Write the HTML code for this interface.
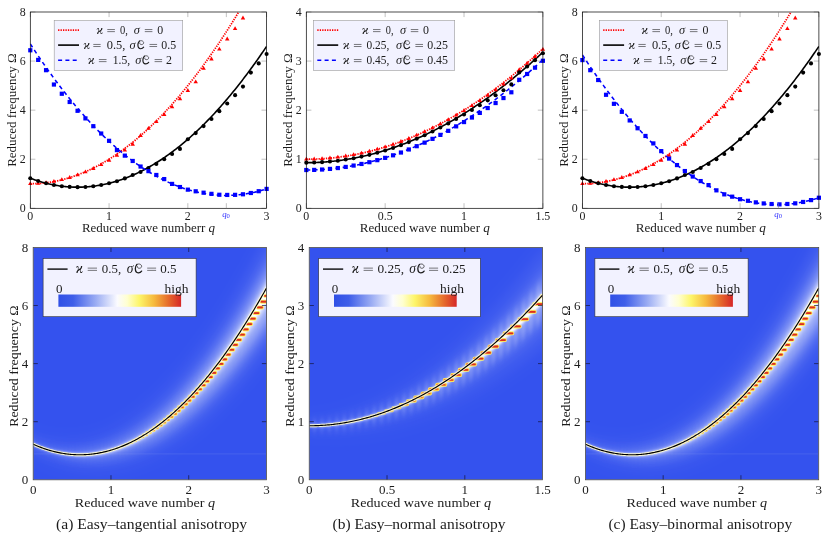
<!DOCTYPE html>
<html><head><meta charset="utf-8"><title>Dispersion figure</title>
<style>html,body{margin:0;padding:0;background:#fff;}svg{display:block;will-change:transform;}</style></head>
<body>
<svg width="830" height="536" viewBox="0 0 830 536" font-family="'Liberation Serif', serif" fill="#1c1c1c">
<defs>
<linearGradient id="cb" x1="0" x2="1" y1="0" y2="0"><stop offset="0" stop-color="#3050e6"/><stop offset="0.12" stop-color="#3f5ee9"/><stop offset="0.30" stop-color="#98aaf3"/><stop offset="0.48" stop-color="#fbfbff"/><stop offset="0.56" stop-color="#ffffd0"/><stop offset="0.66" stop-color="#fdf569"/><stop offset="0.78" stop-color="#f6b93e"/><stop offset="0.90" stop-color="#e5682c"/><stop offset="1" stop-color="#d62728"/></linearGradient>
<filter id="b3" x="-20%" y="-20%" width="140%" height="140%"><feGaussianBlur stdDeviation="3"/></filter>
<filter id="b1" x="-20%" y="-20%" width="140%" height="140%"><feGaussianBlur stdDeviation="1.1"/></filter>
<filter id="b03" x="-20%" y="-20%" width="140%" height="140%"><feGaussianBlur stdDeviation="0.35"/></filter>
<filter id="b4" x="-20%" y="-20%" width="140%" height="140%"><feGaussianBlur stdDeviation="6"/></filter>
<filter id="b2" x="-20%" y="-20%" width="140%" height="140%"><feGaussianBlur stdDeviation="2.2"/></filter>
<filter id="b2s" x="-20%" y="-20%" width="140%" height="140%"><feGaussianBlur stdDeviation="0.9 3.5"/></filter>
<filter id="b10" x="-30%" y="-30%" width="160%" height="160%"><feGaussianBlur stdDeviation="10"/></filter>
<filter id="b05" x="-20%" y="-20%" width="140%" height="140%"><feGaussianBlur stdDeviation="0.5"/></filter>
<clipPath id="ct0"><rect x="30.30" y="12.00" width="236.30" height="196.30"/></clipPath>
<clipPath id="ct1"><rect x="306.30" y="12.00" width="236.60" height="196.30"/></clipPath>
<clipPath id="ct2"><rect x="582.40" y="12.00" width="236.50" height="196.30"/></clipPath>
<clipPath id="cbt0"><rect x="33.20" y="247.40" width="233.30" height="232.40"/></clipPath>
<clipPath id="cbt1"><rect x="309.25" y="247.40" width="233.35" height="232.40"/></clipPath>
<clipPath id="cbt2"><rect x="585.40" y="247.40" width="233.30" height="232.40"/></clipPath>
</defs>
<rect width="830" height="536" fill="#fff"/>
<path d="M30.30,208.30 v-5.1 M30.30,12.00 v5.1 M109.07,208.30 v-5.1 M109.07,12.00 v5.1 M187.83,208.30 v-5.1 M187.83,12.00 v5.1 M266.60,208.30 v-5.1 M266.60,12.00 v5.1 M30.30,208.30 h5.1 M266.60,208.30 h-5.1 M30.30,159.23 h5.1 M266.60,159.23 h-5.1 M30.30,110.15 h5.1 M266.60,110.15 h-5.1 M30.30,61.07 h5.1 M266.60,61.07 h-5.1 M30.30,12.00 h5.1 M266.60,12.00 h-5.1" stroke="#808080" stroke-width="0.5" fill="none"/>
<g clip-path="url(#ct0)">
<path d="M30.30,183.76 L31.48,183.76 L32.66,183.74 L33.84,183.71 L35.03,183.67 L36.21,183.62 L37.39,183.56 L38.57,183.49 L39.75,183.41 L40.93,183.32 L42.12,183.21 L43.30,183.09 L44.48,182.97 L45.66,182.83 L46.84,182.68 L48.02,182.52 L49.20,182.35 L50.39,182.17 L51.57,181.97 L52.75,181.77 L53.93,181.55 L55.11,181.33 L56.29,181.09 L57.47,180.84 L58.66,180.58 L59.84,180.31 L61.02,180.03 L62.20,179.74 L63.38,179.43 L64.56,179.12 L65.75,178.79 L66.93,178.46 L68.11,178.11 L69.29,177.75 L70.47,177.38 L71.65,177.00 L72.83,176.61 L74.02,176.20 L75.20,175.79 L76.38,175.37 L77.56,174.93 L78.74,174.48 L79.92,174.02 L81.10,173.55 L82.29,173.07 L83.47,172.58 L84.65,172.08 L85.83,171.57 L87.01,171.04 L88.19,170.51 L89.38,169.96 L90.56,169.40 L91.74,168.83 L92.92,168.25 L94.10,167.66 L95.28,167.06 L96.46,166.45 L97.65,165.82 L98.83,165.19 L100.01,164.54 L101.19,163.89 L102.37,163.22 L103.55,162.54 L104.73,161.85 L105.92,161.15 L107.10,160.44 L108.28,159.71 L109.46,158.98 L110.64,158.23 L111.82,157.48 L113.00,156.71 L114.19,155.93 L115.37,155.14 L116.55,154.34 L117.73,153.53 L118.91,152.71 L120.09,151.87 L121.28,151.03 L122.46,150.17 L123.64,149.31 L124.82,148.43 L126.00,147.54 L127.18,146.64 L128.36,145.73 L129.55,144.81 L130.73,143.87 L131.91,142.93 L133.09,141.97 L134.27,141.01 L135.45,140.03 L136.64,139.04 L137.82,138.04 L139.00,137.03 L140.18,136.01 L141.36,134.98 L142.54,133.94 L143.72,132.88 L144.91,131.82 L146.09,130.74 L147.27,129.65 L148.45,128.55 L149.63,127.44 L150.81,126.32 L151.99,125.19 L153.18,124.05 L154.36,122.89 L155.54,121.73 L156.72,120.55 L157.90,119.37 L159.08,118.17 L160.27,116.96 L161.45,115.74 L162.63,114.51 L163.81,113.27 L164.99,112.01 L166.17,110.75 L167.35,109.47 L168.54,108.19 L169.72,106.89 L170.90,105.58 L172.08,104.26 L173.26,102.93 L174.44,101.59 L175.62,100.24 L176.81,98.87 L177.99,97.50 L179.17,96.11 L180.35,94.72 L181.53,93.31 L182.71,91.89 L183.90,90.46 L185.08,89.02 L186.26,87.57 L187.44,86.10 L188.62,84.63 L189.80,83.14 L190.98,81.65 L192.17,80.14 L193.35,78.62 L194.53,77.09 L195.71,75.55 L196.89,74.00 L198.07,72.44 L199.25,70.86 L200.44,69.28 L201.62,67.68 L202.80,66.08 L203.98,64.46 L205.16,62.83 L206.34,61.19 L207.53,59.54 L208.71,57.88 L209.89,56.21 L211.07,54.52 L212.25,52.83 L213.43,51.12 L214.61,49.40 L215.80,47.68 L216.98,45.94 L218.16,44.19 L219.34,42.43 L220.52,40.65 L221.70,38.87 L222.88,37.08 L224.07,35.27 L225.25,33.45 L226.43,31.63 L227.61,29.79 L228.79,27.94 L229.97,26.08 L231.16,24.21 L232.34,22.32 L233.52,20.43 L234.70,18.53 L235.88,16.61 L237.06,14.68 L238.24,12.75 L239.43,10.80 L240.61,8.84 L241.79,6.87 L242.97,4.88 L244.15,2.89 L245.33,0.89 L246.51,-1.13 L247.70,-3.15 L248.88,-5.19 L250.06,-7.24 L251.24,-9.30 L252.42,-11.37 L253.60,-13.45 L254.79,-15.54 L255.97,-17.65 L257.15,-19.76 L258.33,-21.89 L259.51,-24.02 L260.69,-26.17 L261.87,-28.33 L263.06,-30.50 L264.24,-32.68 L265.42,-34.87 L266.60,-37.07" stroke="#ff0000" stroke-width="1.75" stroke-dasharray="1.3 1.15" fill="none"/>
<path d="M30.30,178.25 L31.48,178.69 L32.66,179.12 L33.84,179.54 L35.03,179.95 L36.21,180.34 L37.39,180.73 L38.57,181.10 L39.75,181.47 L40.93,181.82 L42.12,182.16 L43.30,182.49 L44.48,182.81 L45.66,183.11 L46.84,183.41 L48.02,183.69 L49.20,183.97 L50.39,184.23 L51.57,184.48 L52.75,184.72 L53.93,184.95 L55.11,185.16 L56.29,185.37 L57.47,185.56 L58.66,185.75 L59.84,185.92 L61.02,186.08 L62.20,186.23 L63.38,186.37 L64.56,186.50 L65.75,186.61 L66.93,186.72 L68.11,186.81 L69.29,186.90 L70.47,186.97 L71.65,187.03 L72.83,187.08 L74.02,187.12 L75.20,187.15 L76.38,187.17 L77.56,187.17 L78.74,187.17 L79.92,187.15 L81.10,187.12 L82.29,187.08 L83.47,187.04 L84.65,186.98 L85.83,186.90 L87.01,186.82 L88.19,186.73 L89.38,186.62 L90.56,186.51 L91.74,186.38 L92.92,186.24 L94.10,186.10 L95.28,185.94 L96.46,185.77 L97.65,185.58 L98.83,185.39 L100.01,185.19 L101.19,184.97 L102.37,184.75 L103.55,184.51 L104.73,184.26 L105.92,184.01 L107.10,183.74 L108.28,183.46 L109.46,183.16 L110.64,182.86 L111.82,182.55 L113.00,182.22 L114.19,181.89 L115.37,181.54 L116.55,181.19 L117.73,180.82 L118.91,180.44 L120.09,180.05 L121.28,179.65 L122.46,179.23 L123.64,178.81 L124.82,178.38 L126.00,177.93 L127.18,177.47 L128.36,177.01 L129.55,176.53 L130.73,176.04 L131.91,175.54 L133.09,175.03 L134.27,174.51 L135.45,173.97 L136.64,173.43 L137.82,172.87 L139.00,172.31 L140.18,171.73 L141.36,171.14 L142.54,170.54 L143.72,169.93 L144.91,169.31 L146.09,168.68 L147.27,168.04 L148.45,167.38 L149.63,166.72 L150.81,166.04 L151.99,165.36 L153.18,164.66 L154.36,163.95 L155.54,163.23 L156.72,162.50 L157.90,161.76 L159.08,161.00 L160.27,160.24 L161.45,159.46 L162.63,158.68 L163.81,157.88 L164.99,157.07 L166.17,156.25 L167.35,155.42 L168.54,154.58 L169.72,153.73 L170.90,152.87 L172.08,151.99 L173.26,151.11 L174.44,150.21 L175.62,149.30 L176.81,148.39 L177.99,147.46 L179.17,146.52 L180.35,145.56 L181.53,144.60 L182.71,143.63 L183.90,142.65 L185.08,141.65 L186.26,140.64 L187.44,139.63 L188.62,138.60 L189.80,137.56 L190.98,136.51 L192.17,135.45 L193.35,134.37 L194.53,133.29 L195.71,132.20 L196.89,131.09 L198.07,129.97 L199.25,128.85 L200.44,127.71 L201.62,126.56 L202.80,125.40 L203.98,124.23 L205.16,123.04 L206.34,121.85 L207.53,120.65 L208.71,119.43 L209.89,118.20 L211.07,116.97 L212.25,115.72 L213.43,114.46 L214.61,113.19 L215.80,111.91 L216.98,110.61 L218.16,109.31 L219.34,107.99 L220.52,106.67 L221.70,105.33 L222.88,103.98 L224.07,102.62 L225.25,101.25 L226.43,99.87 L227.61,98.48 L228.79,97.08 L229.97,95.66 L231.16,94.24 L232.34,92.80 L233.52,91.36 L234.70,89.90 L235.88,88.43 L237.06,86.95 L238.24,85.46 L239.43,83.95 L240.61,82.44 L241.79,80.92 L242.97,79.38 L244.15,77.83 L245.33,76.28 L246.51,74.71 L247.70,73.13 L248.88,71.54 L250.06,69.94 L251.24,68.32 L252.42,66.70 L253.60,65.07 L254.79,63.42 L255.97,61.76 L257.15,60.10 L258.33,58.42 L259.51,56.73 L260.69,55.03 L261.87,53.31 L263.06,51.59 L264.24,49.86 L265.42,48.11 L266.60,46.36" stroke="#000" stroke-width="1.6" fill="none"/>
<path d="M30.30,43.90 L31.48,45.72 L32.66,47.54 L33.84,49.34 L35.03,51.13 L36.21,52.91 L37.39,54.68 L38.57,56.43 L39.75,58.18 L40.93,59.91 L42.12,61.64 L43.30,63.35 L44.48,65.05 L45.66,66.75 L46.84,68.43 L48.02,70.10 L49.20,71.75 L50.39,73.40 L51.57,75.04 L52.75,76.66 L53.93,78.28 L55.11,79.88 L56.29,81.47 L57.47,83.05 L58.66,84.62 L59.84,86.18 L61.02,87.73 L62.20,89.26 L63.38,90.79 L64.56,92.30 L65.75,93.81 L66.93,95.30 L68.11,96.78 L69.29,98.25 L70.47,99.71 L71.65,101.16 L72.83,102.60 L74.02,104.02 L75.20,105.44 L76.38,106.84 L77.56,108.24 L78.74,109.62 L79.92,110.99 L81.10,112.35 L82.29,113.70 L83.47,115.04 L84.65,116.36 L85.83,117.68 L87.01,118.98 L88.19,120.28 L89.38,121.56 L90.56,122.83 L91.74,124.09 L92.92,125.34 L94.10,126.58 L95.28,127.81 L96.46,129.02 L97.65,130.23 L98.83,131.42 L100.01,132.61 L101.19,133.78 L102.37,134.94 L103.55,136.09 L104.73,137.23 L105.92,138.36 L107.10,139.48 L108.28,140.58 L109.46,141.68 L110.64,142.76 L111.82,143.83 L113.00,144.90 L114.19,145.95 L115.37,146.99 L116.55,148.01 L117.73,149.03 L118.91,150.04 L120.09,151.03 L121.28,152.02 L122.46,152.99 L123.64,153.95 L124.82,154.91 L126.00,155.85 L127.18,156.78 L128.36,157.69 L129.55,158.60 L130.73,159.50 L131.91,160.38 L133.09,161.26 L134.27,162.12 L135.45,162.97 L136.64,163.81 L137.82,164.64 L139.00,165.46 L140.18,166.27 L141.36,167.07 L142.54,167.85 L143.72,168.63 L144.91,169.39 L146.09,170.14 L147.27,170.89 L148.45,171.62 L149.63,172.34 L150.81,173.04 L151.99,173.74 L153.18,174.43 L154.36,175.10 L155.54,175.77 L156.72,176.42 L157.90,177.06 L159.08,177.69 L160.27,178.32 L161.45,178.92 L162.63,179.52 L163.81,180.11 L164.99,180.69 L166.17,181.25 L167.35,181.80 L168.54,182.35 L169.72,182.88 L170.90,183.40 L172.08,183.91 L173.26,184.41 L174.44,184.90 L175.62,185.37 L176.81,185.84 L177.99,186.29 L179.17,186.74 L180.35,187.17 L181.53,187.59 L182.71,188.00 L183.90,188.40 L185.08,188.79 L186.26,189.17 L187.44,189.53 L188.62,189.89 L189.80,190.23 L190.98,190.56 L192.17,190.89 L193.35,191.20 L194.53,191.50 L195.71,191.79 L196.89,192.06 L198.07,192.33 L199.25,192.59 L200.44,192.83 L201.62,193.07 L202.80,193.29 L203.98,193.50 L205.16,193.70 L206.34,193.89 L207.53,194.07 L208.71,194.24 L209.89,194.39 L211.07,194.54 L212.25,194.67 L213.43,194.80 L214.61,194.91 L215.80,195.01 L216.98,195.10 L218.16,195.18 L219.34,195.25 L220.52,195.30 L221.70,195.35 L222.88,195.38 L224.07,195.41 L225.25,195.42 L226.43,195.42 L227.61,195.41 L228.79,195.39 L229.97,195.36 L231.16,195.32 L232.34,195.27 L233.52,195.20 L234.70,195.13 L235.88,195.04 L237.06,194.94 L238.24,194.83 L239.43,194.71 L240.61,194.58 L241.79,194.44 L242.97,194.29 L244.15,194.13 L245.33,193.95 L246.51,193.76 L247.70,193.57 L248.88,193.36 L250.06,193.14 L251.24,192.91 L252.42,192.67 L253.60,192.42 L254.79,192.15 L255.97,191.88 L257.15,191.59 L258.33,191.30 L259.51,190.99 L260.69,190.67 L261.87,190.34 L263.06,190.00 L264.24,189.65 L265.42,189.29 L266.60,188.92" stroke="#0000ff" stroke-width="1.55" stroke-dasharray="4.0 3.3" fill="none"/>
</g>
<path d="M30.30,181.21 L32.52,185.04 L28.08,185.04 Z" fill="#ff0000"/><path d="M38.18,180.97 L40.40,184.79 L35.96,184.79 Z" fill="#ff0000"/><path d="M46.05,180.23 L48.27,184.06 L43.83,184.06 Z" fill="#ff0000"/><path d="M53.93,179.00 L56.15,182.83 L51.71,182.83 Z" fill="#ff0000"/><path d="M61.81,177.29 L64.03,181.11 L59.59,181.11 Z" fill="#ff0000"/><path d="M69.68,175.08 L71.90,178.90 L67.46,178.90 Z" fill="#ff0000"/><path d="M77.56,172.38 L79.78,176.20 L75.34,176.20 Z" fill="#ff0000"/><path d="M85.44,169.48 L87.66,173.31 L83.22,173.31 Z" fill="#ff0000"/><path d="M93.31,166.10 L95.53,169.92 L91.09,169.92 Z" fill="#ff0000"/><path d="M101.19,162.22 L103.41,166.05 L98.97,166.05 Z" fill="#ff0000"/><path d="M109.07,157.85 L111.29,161.68 L106.85,161.68 Z" fill="#ff0000"/><path d="M116.94,152.99 L119.16,156.82 L114.72,156.82 Z" fill="#ff0000"/><path d="M124.82,147.65 L127.04,151.47 L122.60,151.47 Z" fill="#ff0000"/><path d="M132.70,141.83 L134.92,145.65 L130.48,145.65 Z" fill="#ff0000"/><path d="M140.57,133.12 L142.79,136.94 L138.35,136.94 Z" fill="#ff0000"/><path d="M148.45,126.00 L150.67,129.83 L146.23,129.83 Z" fill="#ff0000"/><path d="M156.33,119.26 L158.55,123.08 L154.11,123.08 Z" fill="#ff0000"/><path d="M164.20,112.07 L166.42,115.89 L161.98,115.89 Z" fill="#ff0000"/><path d="M172.08,104.48 L174.30,108.31 L169.86,108.31 Z" fill="#ff0000"/><path d="M179.96,96.31 L182.18,100.14 L177.74,100.14 Z" fill="#ff0000"/><path d="M187.83,88.09 L190.05,91.92 L185.61,91.92 Z" fill="#ff0000"/><path d="M195.71,79.38 L197.93,83.21 L193.49,83.21 Z" fill="#ff0000"/><path d="M203.59,65.89 L205.81,69.71 L201.37,69.71 Z" fill="#ff0000"/><path d="M211.46,56.56 L213.68,60.39 L209.24,60.39 Z" fill="#ff0000"/><path d="M219.34,46.75 L221.56,50.57 L217.12,50.57 Z" fill="#ff0000"/><path d="M227.22,36.56 L229.44,40.39 L225.00,40.39 Z" fill="#ff0000"/><path d="M235.09,26.14 L237.31,29.96 L232.87,29.96 Z" fill="#ff0000"/><path d="M242.97,15.58 L245.19,19.41 L240.75,19.41 Z" fill="#ff0000"/>
<circle cx="30.30" cy="178.25" r="2.05" fill="#000"/><circle cx="38.18" cy="180.98" r="2.05" fill="#000"/><circle cx="46.05" cy="183.21" r="2.05" fill="#000"/><circle cx="53.93" cy="184.95" r="2.05" fill="#000"/><circle cx="61.81" cy="186.18" r="2.05" fill="#000"/><circle cx="69.68" cy="186.92" r="2.05" fill="#000"/><circle cx="77.56" cy="187.17" r="2.05" fill="#000"/><circle cx="85.44" cy="186.93" r="2.05" fill="#000"/><circle cx="93.31" cy="186.20" r="2.05" fill="#000"/><circle cx="101.19" cy="184.97" r="2.05" fill="#000"/><circle cx="109.07" cy="183.26" r="2.05" fill="#000"/><circle cx="116.94" cy="181.31" r="2.05" fill="#000"/><circle cx="124.82" cy="178.38" r="2.05" fill="#000"/><circle cx="132.70" cy="174.95" r="2.05" fill="#000"/><circle cx="140.57" cy="172.03" r="2.05" fill="#000"/><circle cx="148.45" cy="168.00" r="2.05" fill="#000"/><circle cx="156.33" cy="163.90" r="2.05" fill="#000"/><circle cx="164.20" cy="159.16" r="2.05" fill="#000"/><circle cx="172.08" cy="154.03" r="2.05" fill="#000"/><circle cx="179.96" cy="148.90" r="2.05" fill="#000"/><circle cx="187.83" cy="139.28" r="2.05" fill="#000"/><circle cx="195.71" cy="133.08" r="2.05" fill="#000"/><circle cx="203.59" cy="126.12" r="2.05" fill="#000"/><circle cx="211.46" cy="118.93" r="2.05" fill="#000"/><circle cx="219.34" cy="111.13" r="2.05" fill="#000"/><circle cx="227.22" cy="103.56" r="2.05" fill="#000"/><circle cx="235.09" cy="95.13" r="2.05" fill="#000"/><circle cx="242.97" cy="86.60" r="2.05" fill="#000"/><circle cx="250.85" cy="72.62" r="2.05" fill="#000"/><circle cx="258.72" cy="63.38" r="2.05" fill="#000"/><circle cx="266.60" cy="53.96" r="2.05" fill="#000"/>
<rect x="28.20" y="48.18" width="4.20" height="4.20" fill="#0000ff"/><rect x="36.08" y="57.80" width="4.20" height="4.20" fill="#0000ff"/><rect x="43.95" y="68.08" width="4.20" height="4.20" fill="#0000ff"/><rect x="51.83" y="82.43" width="4.20" height="4.20" fill="#0000ff"/><rect x="59.71" y="91.66" width="4.20" height="4.20" fill="#0000ff"/><rect x="67.58" y="99.88" width="4.20" height="4.20" fill="#0000ff"/><rect x="75.46" y="108.69" width="4.20" height="4.20" fill="#0000ff"/><rect x="83.34" y="116.29" width="4.20" height="4.20" fill="#0000ff"/><rect x="91.21" y="124.10" width="4.20" height="4.20" fill="#0000ff"/><rect x="99.09" y="131.43" width="4.20" height="4.20" fill="#0000ff"/><rect x="106.97" y="138.72" width="4.20" height="4.20" fill="#0000ff"/><rect x="114.84" y="147.97" width="4.20" height="4.20" fill="#0000ff"/><rect x="122.72" y="153.54" width="4.20" height="4.20" fill="#0000ff"/><rect x="130.60" y="158.87" width="4.20" height="4.20" fill="#0000ff"/><rect x="138.47" y="164.44" width="4.20" height="4.20" fill="#0000ff"/><rect x="146.35" y="169.03" width="4.20" height="4.20" fill="#0000ff"/><rect x="154.23" y="172.88" width="4.20" height="4.20" fill="#0000ff"/><rect x="162.10" y="176.98" width="4.20" height="4.20" fill="#0000ff"/><rect x="169.98" y="181.81" width="4.20" height="4.20" fill="#0000ff"/><rect x="177.86" y="184.93" width="4.20" height="4.20" fill="#0000ff"/><rect x="185.73" y="187.55" width="4.20" height="4.20" fill="#0000ff"/><rect x="193.61" y="189.20" width="4.20" height="4.20" fill="#0000ff"/><rect x="201.49" y="190.59" width="4.20" height="4.20" fill="#0000ff"/><rect x="209.36" y="191.75" width="4.20" height="4.20" fill="#0000ff"/><rect x="217.24" y="192.66" width="4.20" height="4.20" fill="#0000ff"/><rect x="225.12" y="192.83" width="4.20" height="4.20" fill="#0000ff"/><rect x="232.99" y="192.75" width="4.20" height="4.20" fill="#0000ff"/><rect x="240.87" y="192.19" width="4.20" height="4.20" fill="#0000ff"/><rect x="248.75" y="190.89" width="4.20" height="4.20" fill="#0000ff"/><rect x="256.62" y="189.10" width="4.20" height="4.20" fill="#0000ff"/><rect x="264.50" y="186.82" width="4.20" height="4.20" fill="#0000ff"/>
<rect x="30.30" y="12.00" width="236.30" height="196.30" fill="none" stroke="#000" stroke-width="0.7"/>
<text x="30.30" y="220.30" font-size="11.90" text-anchor="middle">0</text>
<text x="109.07" y="220.30" font-size="11.90" text-anchor="middle">1</text>
<text x="187.83" y="220.30" font-size="11.90" text-anchor="middle">2</text>
<text x="266.60" y="220.30" font-size="11.90" text-anchor="middle">3</text>
<text x="25.70" y="212.10" font-size="11.90" text-anchor="end">0</text>
<text x="25.70" y="163.03" font-size="11.90" text-anchor="end">2</text>
<text x="25.70" y="113.95" font-size="11.90" text-anchor="end">4</text>
<text x="25.70" y="64.87" font-size="11.90" text-anchor="end">6</text>
<text x="25.70" y="15.80" font-size="11.90" text-anchor="end">8</text>
<path d="M226.34,208.30 v-5.1 M226.34,12.00 v5.1" stroke="#808080" stroke-width="0.5" fill="none"/>
<text x="226.04" y="216.6" font-size="8.8" fill="#3030ff" text-anchor="middle"><tspan font-style="italic">q</tspan><tspan font-size="6.6" dy="1.4">0</tspan></text>
<text x="81.90" y="231.60" font-size="11.90" textLength="133.20" lengthAdjust="spacingAndGlyphs">Reduced wave numberr <tspan font-style="italic">q</tspan></text>
<text transform="translate(15.50,110.15) rotate(-90)" font-size="11.90" text-anchor="middle" textLength="113.4" lengthAdjust="spacingAndGlyphs">Reduced frequency Ω</text>
<rect x="54.20" y="20.60" width="128.50" height="49.70" fill="#f2f2ff" stroke="#9a9a9a" stroke-width="0.6"/>
<path d="M58.10,30.20 H79.00" stroke="#ff0000" stroke-width="1.75" stroke-dasharray="1.3 1.15"/>
<path d="M58.10,45.10 H79.00" stroke="#000" stroke-width="1.6"/>
<path d="M58.10,60.20 H79.00" stroke="#0000ff" stroke-width="1.55" stroke-dasharray="4.0 3.3"/>
<text x="99.75" y="34.10" font-size="12.38" font-style="italic" text-anchor="middle">ϰ</text><path d="M107.30,29.54 H114.90 M107.30,31.62 H114.90" stroke="#1c1c1c" stroke-width="0.58" fill="none"/><text x="120.00" y="34.10" font-size="11.90" textLength="7.90" lengthAdjust="spacingAndGlyphs">0,</text><text x="136.90" y="34.10" font-size="12.38" font-style="italic" text-anchor="middle">σ</text><path d="M144.80,29.54 H152.40 M144.80,31.62 H152.40" stroke="#1c1c1c" stroke-width="0.58" fill="none"/><text x="160.35" y="34.10" font-size="11.90" text-anchor="middle">0</text>
<text x="86.75" y="49.00" font-size="12.38" font-style="italic" text-anchor="middle">ϰ</text><path d="M93.30,44.44 H100.60 M93.30,46.52 H100.60" stroke="#1c1c1c" stroke-width="0.58" fill="none"/><text x="106.80" y="49.00" font-size="11.90" textLength="18.60" lengthAdjust="spacingAndGlyphs">0.5,</text><text x="132.65" y="49.00" font-size="12.38" font-style="italic" text-anchor="middle">σ</text><g transform="translate(137.40,49.00) scale(0.992)" fill="none" stroke="#1c1c1c" stroke-linecap="round"><path d="M2.0,-8.0 C0.9,-6.6 0.5,-5.4 0.5,-4.2 C0.5,-2.0 1.5,-0.3 3.2,-0.25 C4.5,-0.2 5.6,-0.8 6.3,-1.8" stroke-width="1.2"/><path d="M2.0,-8.0 C2.9,-8.5 4.2,-8.6 5.2,-8.0 C6.3,-7.3 6.6,-6.2 6.0,-5.3 C5.3,-4.4 3.8,-4.2 2.9,-4.8 C2.4,-5.2 2.3,-5.6 2.4,-6.0" stroke-width="0.65"/></g><path d="M149.50,44.44 H157.10 M149.50,46.52 H157.10" stroke="#1c1c1c" stroke-width="0.58" fill="none"/><text x="161.30" y="49.00" font-size="11.90" textLength="14.80" lengthAdjust="spacingAndGlyphs">0.5</text>
<text x="91.30" y="64.10" font-size="12.38" font-style="italic" text-anchor="middle">ϰ</text><path d="M98.90,59.54 H106.50 M98.90,61.62 H106.50" stroke="#1c1c1c" stroke-width="0.58" fill="none"/><text x="112.70" y="64.10" font-size="11.90" textLength="17.40" lengthAdjust="spacingAndGlyphs">1.5,</text><text x="138.20" y="64.10" font-size="12.38" font-style="italic" text-anchor="middle">σ</text><g transform="translate(142.40,64.10) scale(0.992)" fill="none" stroke="#1c1c1c" stroke-linecap="round"><path d="M2.0,-8.0 C0.9,-6.6 0.5,-5.4 0.5,-4.2 C0.5,-2.0 1.5,-0.3 3.2,-0.25 C4.5,-0.2 5.6,-0.8 6.3,-1.8" stroke-width="1.2"/><path d="M2.0,-8.0 C2.9,-8.5 4.2,-8.6 5.2,-8.0 C6.3,-7.3 6.6,-6.2 6.0,-5.3 C5.3,-4.4 3.8,-4.2 2.9,-4.8 C2.4,-5.2 2.3,-5.6 2.4,-6.0" stroke-width="0.65"/></g><path d="M154.60,59.54 H162.10 M154.60,61.62 H162.10" stroke="#1c1c1c" stroke-width="0.58" fill="none"/><text x="168.90" y="64.10" font-size="11.90" text-anchor="middle">2</text>
<path d="M306.30,208.30 v-5.1 M306.30,12.00 v5.1 M385.17,208.30 v-5.1 M385.17,12.00 v5.1 M464.03,208.30 v-5.1 M464.03,12.00 v5.1 M542.90,208.30 v-5.1 M542.90,12.00 v5.1 M306.30,208.30 h5.1 M542.90,208.30 h-5.1 M306.30,159.23 h5.1 M542.90,159.23 h-5.1 M306.30,110.15 h5.1 M542.90,110.15 h-5.1 M306.30,61.07 h5.1 M542.90,61.07 h-5.1 M306.30,12.00 h5.1 M542.90,12.00 h-5.1" stroke="#808080" stroke-width="0.5" fill="none"/>
<g clip-path="url(#ct1)">
<path d="M306.30,159.23 L307.48,159.22 L308.67,159.21 L309.85,159.20 L311.03,159.18 L312.22,159.16 L313.40,159.13 L314.58,159.09 L315.76,159.05 L316.95,159.00 L318.13,158.95 L319.31,158.89 L320.50,158.83 L321.68,158.76 L322.86,158.68 L324.05,158.60 L325.23,158.52 L326.41,158.43 L327.59,158.33 L328.78,158.23 L329.96,158.12 L331.14,158.01 L332.33,157.89 L333.51,157.76 L334.69,157.63 L335.88,157.50 L337.06,157.36 L338.24,157.21 L339.42,157.06 L340.61,156.90 L341.79,156.74 L342.97,156.57 L344.16,156.40 L345.34,156.22 L346.52,156.03 L347.70,155.84 L348.89,155.65 L350.07,155.45 L351.25,155.24 L352.44,155.03 L353.62,154.81 L354.80,154.58 L355.99,154.36 L357.17,154.12 L358.35,153.88 L359.54,153.64 L360.72,153.38 L361.90,153.13 L363.08,152.86 L364.27,152.60 L365.45,152.32 L366.63,152.05 L367.82,151.76 L369.00,151.47 L370.18,151.18 L371.37,150.87 L372.55,150.57 L373.73,150.26 L374.91,149.94 L376.10,149.62 L377.28,149.29 L378.46,148.95 L379.65,148.61 L380.83,148.27 L382.01,147.92 L383.19,147.56 L384.38,147.20 L385.56,146.83 L386.74,146.46 L387.93,146.08 L389.11,145.70 L390.29,145.31 L391.48,144.91 L392.66,144.51 L393.84,144.11 L395.02,143.70 L396.21,143.28 L397.39,142.86 L398.57,142.43 L399.76,142.00 L400.94,141.56 L402.12,141.11 L403.31,140.66 L404.49,140.21 L405.67,139.75 L406.86,139.28 L408.04,138.81 L409.22,138.33 L410.40,137.85 L411.59,137.36 L412.77,136.87 L413.95,136.37 L415.14,135.86 L416.32,135.35 L417.50,134.83 L418.69,134.31 L419.87,133.78 L421.05,133.25 L422.23,132.71 L423.42,132.17 L424.60,131.62 L425.78,131.07 L426.97,130.51 L428.15,129.94 L429.33,129.37 L430.51,128.79 L431.70,128.21 L432.88,127.62 L434.06,127.03 L435.25,126.43 L436.43,125.82 L437.61,125.21 L438.80,124.60 L439.98,123.98 L441.16,123.35 L442.35,122.72 L443.53,122.08 L444.71,121.44 L445.89,120.79 L447.08,120.13 L448.26,119.47 L449.44,118.81 L450.63,118.14 L451.81,117.46 L452.99,116.78 L454.17,116.09 L455.36,115.40 L456.54,114.70 L457.72,114.00 L458.91,113.29 L460.09,112.57 L461.27,111.85 L462.46,111.13 L463.64,110.40 L464.82,109.66 L466.00,108.92 L467.19,108.17 L468.37,107.41 L469.55,106.65 L470.74,105.89 L471.92,105.12 L473.10,104.34 L474.29,103.56 L475.47,102.78 L476.65,101.98 L477.83,101.19 L479.02,100.38 L480.20,99.57 L481.38,98.76 L482.57,97.94 L483.75,97.11 L484.93,96.28 L486.12,95.45 L487.30,94.61 L488.48,93.76 L489.66,92.90 L490.85,92.05 L492.03,91.18 L493.21,90.31 L494.40,89.44 L495.58,88.56 L496.76,87.67 L497.95,86.78 L499.13,85.88 L500.31,84.98 L501.50,84.07 L502.68,83.16 L503.86,82.24 L505.04,81.31 L506.23,80.38 L507.41,79.45 L508.59,78.51 L509.78,77.56 L510.96,76.61 L512.14,75.65 L513.33,74.69 L514.51,73.72 L515.69,72.74 L516.87,71.76 L518.06,70.78 L519.24,69.79 L520.42,68.79 L521.61,67.79 L522.79,66.78 L523.97,65.77 L525.15,64.75 L526.34,63.72 L527.52,62.69 L528.70,61.66 L529.89,60.62 L531.07,59.57 L532.25,58.52 L533.44,57.46 L534.62,56.40 L535.80,55.33 L536.98,54.26 L538.17,53.18 L539.35,52.09 L540.53,51.00 L541.72,49.91 L542.90,48.81" stroke="#ff0000" stroke-width="1.75" stroke-dasharray="1.3 1.15" fill="none"/>
<path d="M306.30,162.66 L307.48,162.66 L308.67,162.65 L309.85,162.64 L311.03,162.62 L312.22,162.59 L313.40,162.56 L314.58,162.52 L315.76,162.48 L316.95,162.44 L318.13,162.38 L319.31,162.33 L320.50,162.26 L321.68,162.19 L322.86,162.12 L324.05,162.04 L325.23,161.95 L326.41,161.86 L327.59,161.77 L328.78,161.66 L329.96,161.56 L331.14,161.44 L332.33,161.32 L333.51,161.20 L334.69,161.07 L335.88,160.93 L337.06,160.79 L338.24,160.65 L339.42,160.50 L340.61,160.34 L341.79,160.18 L342.97,160.01 L344.16,159.83 L345.34,159.65 L346.52,159.47 L347.70,159.28 L348.89,159.08 L350.07,158.88 L351.25,158.67 L352.44,158.46 L353.62,158.24 L354.80,158.02 L355.99,157.79 L357.17,157.56 L358.35,157.32 L359.54,157.07 L360.72,156.82 L361.90,156.56 L363.08,156.30 L364.27,156.03 L365.45,155.76 L366.63,155.48 L367.82,155.20 L369.00,154.91 L370.18,154.61 L371.37,154.31 L372.55,154.00 L373.73,153.69 L374.91,153.37 L376.10,153.05 L377.28,152.72 L378.46,152.39 L379.65,152.05 L380.83,151.70 L382.01,151.35 L383.19,151.00 L384.38,150.64 L385.56,150.27 L386.74,149.90 L387.93,149.52 L389.11,149.13 L390.29,148.74 L391.48,148.35 L392.66,147.95 L393.84,147.54 L395.02,147.13 L396.21,146.72 L397.39,146.29 L398.57,145.87 L399.76,145.43 L400.94,144.99 L402.12,144.55 L403.31,144.10 L404.49,143.64 L405.67,143.18 L406.86,142.72 L408.04,142.24 L409.22,141.77 L410.40,141.28 L411.59,140.79 L412.77,140.30 L413.95,139.80 L415.14,139.30 L416.32,138.78 L417.50,138.27 L418.69,137.75 L419.87,137.22 L421.05,136.69 L422.23,136.15 L423.42,135.60 L424.60,135.06 L425.78,134.50 L426.97,133.94 L428.15,133.37 L429.33,132.80 L430.51,132.23 L431.70,131.64 L432.88,131.06 L434.06,130.46 L435.25,129.86 L436.43,129.26 L437.61,128.65 L438.80,128.03 L439.98,127.41 L441.16,126.79 L442.35,126.15 L443.53,125.52 L444.71,124.87 L445.89,124.22 L447.08,123.57 L448.26,122.91 L449.44,122.24 L450.63,121.57 L451.81,120.90 L452.99,120.22 L454.17,119.53 L455.36,118.84 L456.54,118.14 L457.72,117.43 L458.91,116.72 L460.09,116.01 L461.27,115.29 L462.46,114.56 L463.64,113.83 L464.82,113.09 L466.00,112.35 L467.19,111.60 L468.37,110.85 L469.55,110.09 L470.74,109.33 L471.92,108.56 L473.10,107.78 L474.29,107.00 L475.47,106.21 L476.65,105.42 L477.83,104.62 L479.02,103.82 L480.20,103.01 L481.38,102.19 L482.57,101.38 L483.75,100.55 L484.93,99.72 L486.12,98.88 L487.30,98.04 L488.48,97.19 L489.66,96.34 L490.85,95.48 L492.03,94.62 L493.21,93.75 L494.40,92.87 L495.58,91.99 L496.76,91.11 L497.95,90.21 L499.13,89.32 L500.31,88.41 L501.50,87.51 L502.68,86.59 L503.86,85.67 L505.04,84.75 L506.23,83.82 L507.41,82.88 L508.59,81.94 L509.78,80.99 L510.96,80.04 L512.14,79.08 L513.33,78.12 L514.51,77.15 L515.69,76.18 L516.87,75.20 L518.06,74.21 L519.24,73.22 L520.42,72.22 L521.61,71.22 L522.79,70.21 L523.97,69.20 L525.15,68.18 L526.34,67.16 L527.52,66.13 L528.70,65.09 L529.89,64.05 L531.07,63.01 L532.25,61.96 L533.44,60.90 L534.62,59.84 L535.80,58.77 L536.98,57.69 L538.17,56.61 L539.35,55.53 L540.53,54.44 L541.72,53.34 L542.90,52.24" stroke="#000" stroke-width="1.6" fill="none"/>
<path d="M306.30,170.02 L307.48,170.02 L308.67,170.01 L309.85,170.00 L311.03,169.98 L312.22,169.95 L313.40,169.92 L314.58,169.89 L315.76,169.84 L316.95,169.80 L318.13,169.75 L319.31,169.69 L320.50,169.62 L321.68,169.55 L322.86,169.48 L324.05,169.40 L325.23,169.31 L326.41,169.22 L327.59,169.13 L328.78,169.02 L329.96,168.92 L331.14,168.80 L332.33,168.69 L333.51,168.56 L334.69,168.43 L335.88,168.30 L337.06,168.16 L338.24,168.01 L339.42,167.86 L340.61,167.70 L341.79,167.54 L342.97,167.37 L344.16,167.19 L345.34,167.02 L346.52,166.83 L347.70,166.64 L348.89,166.44 L350.07,166.24 L351.25,166.04 L352.44,165.82 L353.62,165.60 L354.80,165.38 L355.99,165.15 L357.17,164.92 L358.35,164.68 L359.54,164.43 L360.72,164.18 L361.90,163.92 L363.08,163.66 L364.27,163.39 L365.45,163.12 L366.63,162.84 L367.82,162.56 L369.00,162.27 L370.18,161.97 L371.37,161.67 L372.55,161.36 L373.73,161.05 L374.91,160.74 L376.10,160.41 L377.28,160.08 L378.46,159.75 L379.65,159.41 L380.83,159.07 L382.01,158.71 L383.19,158.36 L384.38,158.00 L385.56,157.63 L386.74,157.26 L387.93,156.88 L389.11,156.50 L390.29,156.11 L391.48,155.71 L392.66,155.31 L393.84,154.91 L395.02,154.49 L396.21,154.08 L397.39,153.65 L398.57,153.23 L399.76,152.79 L400.94,152.35 L402.12,151.91 L403.31,151.46 L404.49,151.00 L405.67,150.54 L406.86,150.08 L408.04,149.61 L409.22,149.13 L410.40,148.64 L411.59,148.16 L412.77,147.66 L413.95,147.16 L415.14,146.66 L416.32,146.15 L417.50,145.63 L418.69,145.11 L419.87,144.58 L421.05,144.05 L422.23,143.51 L423.42,142.97 L424.60,142.42 L425.78,141.86 L426.97,141.30 L428.15,140.74 L429.33,140.16 L430.51,139.59 L431.70,139.00 L432.88,138.42 L434.06,137.82 L435.25,137.22 L436.43,136.62 L437.61,136.01 L438.80,135.39 L439.98,134.77 L441.16,134.15 L442.35,133.51 L443.53,132.88 L444.71,132.23 L445.89,131.58 L447.08,130.93 L448.26,130.27 L449.44,129.61 L450.63,128.93 L451.81,128.26 L452.99,127.58 L454.17,126.89 L455.36,126.20 L456.54,125.50 L457.72,124.79 L458.91,124.08 L460.09,123.37 L461.27,122.65 L462.46,121.92 L463.64,121.19 L464.82,120.45 L466.00,119.71 L467.19,118.96 L468.37,118.21 L469.55,117.45 L470.74,116.69 L471.92,115.92 L473.10,115.14 L474.29,114.36 L475.47,113.57 L476.65,112.78 L477.83,111.98 L479.02,111.18 L480.20,110.37 L481.38,109.56 L482.57,108.74 L483.75,107.91 L484.93,107.08 L486.12,106.24 L487.30,105.40 L488.48,104.55 L489.66,103.70 L490.85,102.84 L492.03,101.98 L493.21,101.11 L494.40,100.23 L495.58,99.35 L496.76,98.47 L497.95,97.58 L499.13,96.68 L500.31,95.78 L501.50,94.87 L502.68,93.95 L503.86,93.03 L505.04,92.11 L506.23,91.18 L507.41,90.24 L508.59,89.30 L509.78,88.36 L510.96,87.40 L512.14,86.45 L513.33,85.48 L514.51,84.51 L515.69,83.54 L516.87,82.56 L518.06,81.57 L519.24,80.58 L520.42,79.59 L521.61,78.58 L522.79,77.58 L523.97,76.56 L525.15,75.54 L526.34,74.52 L527.52,73.49 L528.70,72.46 L529.89,71.41 L531.07,70.37 L532.25,69.32 L533.44,68.26 L534.62,67.20 L535.80,66.13 L536.98,65.05 L538.17,63.98 L539.35,62.89 L540.53,61.80 L541.72,60.70 L542.90,59.60" stroke="#0000ff" stroke-width="1.55" stroke-dasharray="4.0 3.3" fill="none"/>
</g>
<path d="M306.30,156.68 L308.52,160.50 L304.08,160.50 Z" fill="#ff0000"/><path d="M314.19,156.55 L316.41,160.38 L311.97,160.38 Z" fill="#ff0000"/><path d="M322.07,156.18 L324.29,160.01 L319.85,160.01 Z" fill="#ff0000"/><path d="M329.96,155.57 L332.18,159.40 L327.74,159.40 Z" fill="#ff0000"/><path d="M337.85,154.71 L340.07,158.54 L335.63,158.54 Z" fill="#ff0000"/><path d="M345.73,153.61 L347.95,157.43 L343.51,157.43 Z" fill="#ff0000"/><path d="M353.62,152.26 L355.84,156.08 L351.40,156.08 Z" fill="#ff0000"/><path d="M361.51,150.66 L363.73,154.49 L359.29,154.49 Z" fill="#ff0000"/><path d="M369.39,148.86 L371.61,152.68 L367.17,152.68 Z" fill="#ff0000"/><path d="M377.28,146.79 L379.50,150.61 L375.06,150.61 Z" fill="#ff0000"/><path d="M385.17,144.47 L387.39,148.30 L382.95,148.30 Z" fill="#ff0000"/><path d="M393.05,141.92 L395.27,145.74 L390.83,145.74 Z" fill="#ff0000"/><path d="M400.94,139.11 L403.16,142.94 L398.72,142.94 Z" fill="#ff0000"/><path d="M408.83,136.06 L411.05,139.89 L406.61,139.89 Z" fill="#ff0000"/><path d="M416.71,132.77 L418.93,136.59 L414.49,136.59 Z" fill="#ff0000"/><path d="M424.60,129.22 L426.82,133.05 L422.38,133.05 Z" fill="#ff0000"/><path d="M432.49,125.44 L434.71,129.26 L430.27,129.26 Z" fill="#ff0000"/><path d="M440.37,121.42 L442.59,125.25 L438.15,125.25 Z" fill="#ff0000"/><path d="M448.26,117.22 L450.48,121.04 L446.04,121.04 Z" fill="#ff0000"/><path d="M456.15,112.71 L458.37,116.54 L453.93,116.54 Z" fill="#ff0000"/><path d="M464.03,108.10 L466.25,111.92 L461.81,111.92 Z" fill="#ff0000"/><path d="M471.92,103.24 L474.14,107.06 L469.70,107.06 Z" fill="#ff0000"/><path d="M479.81,98.19 L482.03,102.01 L477.59,102.01 Z" fill="#ff0000"/><path d="M487.69,92.89 L489.91,96.71 L485.47,96.71 Z" fill="#ff0000"/><path d="M495.58,87.38 L497.80,91.21 L493.36,91.21 Z" fill="#ff0000"/><path d="M503.47,81.71 L505.69,85.54 L501.25,85.54 Z" fill="#ff0000"/><path d="M511.35,75.63 L513.57,79.45 L509.13,79.45 Z" fill="#ff0000"/><path d="M519.24,67.24 L521.46,71.06 L517.02,71.06 Z" fill="#ff0000"/><path d="M527.13,60.81 L529.35,64.64 L524.91,64.64 Z" fill="#ff0000"/><path d="M535.01,54.06 L537.23,57.89 L532.79,57.89 Z" fill="#ff0000"/><path d="M542.90,46.94 L545.12,50.77 L540.68,50.77 Z" fill="#ff0000"/>
<circle cx="306.30" cy="162.66" r="2.05" fill="#000"/><circle cx="314.19" cy="162.54" r="2.05" fill="#000"/><circle cx="322.07" cy="162.17" r="2.05" fill="#000"/><circle cx="329.96" cy="161.55" r="2.05" fill="#000"/><circle cx="337.85" cy="160.68" r="2.05" fill="#000"/><circle cx="345.73" cy="159.57" r="2.05" fill="#000"/><circle cx="353.62" cy="158.20" r="2.05" fill="#000"/><circle cx="361.51" cy="156.59" r="2.05" fill="#000"/><circle cx="369.39" cy="154.84" r="2.05" fill="#000"/><circle cx="377.28" cy="152.78" r="2.05" fill="#000"/><circle cx="385.17" cy="150.48" r="2.05" fill="#000"/><circle cx="393.05" cy="147.93" r="2.05" fill="#000"/><circle cx="400.94" cy="145.13" r="2.05" fill="#000"/><circle cx="408.83" cy="142.08" r="2.05" fill="#000"/><circle cx="416.71" cy="138.79" r="2.05" fill="#000"/><circle cx="424.60" cy="135.25" r="2.05" fill="#000"/><circle cx="432.49" cy="131.46" r="2.05" fill="#000"/><circle cx="440.37" cy="127.47" r="2.05" fill="#000"/><circle cx="448.26" cy="123.39" r="2.05" fill="#000"/><circle cx="456.15" cy="118.90" r="2.05" fill="#000"/><circle cx="464.03" cy="114.57" r="2.05" fill="#000"/><circle cx="471.92" cy="109.98" r="2.05" fill="#000"/><circle cx="479.81" cy="105.30" r="2.05" fill="#000"/><circle cx="487.69" cy="100.36" r="2.05" fill="#000"/><circle cx="495.58" cy="95.28" r="2.05" fill="#000"/><circle cx="503.47" cy="90.20" r="2.05" fill="#000"/><circle cx="511.35" cy="84.38" r="2.05" fill="#000"/><circle cx="519.24" cy="72.42" r="2.05" fill="#000"/><circle cx="527.13" cy="66.54" r="2.05" fill="#000"/><circle cx="535.01" cy="60.17" r="2.05" fill="#000"/><circle cx="542.90" cy="53.21" r="2.05" fill="#000"/>
<rect x="304.20" y="167.92" width="4.20" height="4.20" fill="#0000ff"/><rect x="312.09" y="167.80" width="4.20" height="4.20" fill="#0000ff"/><rect x="319.97" y="167.43" width="4.20" height="4.20" fill="#0000ff"/><rect x="327.86" y="166.81" width="4.20" height="4.20" fill="#0000ff"/><rect x="335.75" y="165.94" width="4.20" height="4.20" fill="#0000ff"/><rect x="343.63" y="164.83" width="4.20" height="4.20" fill="#0000ff"/><rect x="351.52" y="163.46" width="4.20" height="4.20" fill="#0000ff"/><rect x="359.41" y="161.86" width="4.20" height="4.20" fill="#0000ff"/><rect x="367.29" y="160.11" width="4.20" height="4.20" fill="#0000ff"/><rect x="375.18" y="158.06" width="4.20" height="4.20" fill="#0000ff"/><rect x="383.07" y="155.76" width="4.20" height="4.20" fill="#0000ff"/><rect x="390.95" y="153.21" width="4.20" height="4.20" fill="#0000ff"/><rect x="398.84" y="150.42" width="4.20" height="4.20" fill="#0000ff"/><rect x="406.73" y="147.38" width="4.20" height="4.20" fill="#0000ff"/><rect x="414.61" y="144.09" width="4.20" height="4.20" fill="#0000ff"/><rect x="422.50" y="140.55" width="4.20" height="4.20" fill="#0000ff"/><rect x="430.39" y="136.77" width="4.20" height="4.20" fill="#0000ff"/><rect x="438.27" y="132.79" width="4.20" height="4.20" fill="#0000ff"/><rect x="446.16" y="128.73" width="4.20" height="4.20" fill="#0000ff"/><rect x="454.05" y="124.26" width="4.20" height="4.20" fill="#0000ff"/><rect x="461.93" y="119.97" width="4.20" height="4.20" fill="#0000ff"/><rect x="469.82" y="115.43" width="4.20" height="4.20" fill="#0000ff"/><rect x="477.71" y="110.81" width="4.20" height="4.20" fill="#0000ff"/><rect x="485.59" y="105.94" width="4.20" height="4.20" fill="#0000ff"/><rect x="493.48" y="100.94" width="4.20" height="4.20" fill="#0000ff"/><rect x="501.37" y="95.95" width="4.20" height="4.20" fill="#0000ff"/><rect x="509.25" y="90.18" width="4.20" height="4.20" fill="#0000ff"/><rect x="517.14" y="77.68" width="4.20" height="4.20" fill="#0000ff"/><rect x="525.03" y="71.89" width="4.20" height="4.20" fill="#0000ff"/><rect x="532.91" y="65.59" width="4.20" height="4.20" fill="#0000ff"/><rect x="540.80" y="58.67" width="4.20" height="4.20" fill="#0000ff"/>
<rect x="306.30" y="12.00" width="236.60" height="196.30" fill="none" stroke="#000" stroke-width="0.7"/>
<text x="306.30" y="220.30" font-size="11.90" text-anchor="middle">0</text>
<text x="385.17" y="220.30" font-size="11.90" text-anchor="middle">0.5</text>
<text x="464.03" y="220.30" font-size="11.90" text-anchor="middle">1</text>
<text x="542.90" y="220.30" font-size="11.90" text-anchor="middle">1.5</text>
<text x="301.70" y="212.10" font-size="11.90" text-anchor="end">0</text>
<text x="301.70" y="163.03" font-size="11.90" text-anchor="end">1</text>
<text x="301.70" y="113.95" font-size="11.90" text-anchor="end">2</text>
<text x="301.70" y="64.87" font-size="11.90" text-anchor="end">3</text>
<text x="301.70" y="15.80" font-size="11.90" text-anchor="end">4</text>
<text x="359.80" y="231.60" font-size="11.90" textLength="130.10" lengthAdjust="spacingAndGlyphs">Reduced wave number <tspan font-style="italic">q</tspan></text>
<text transform="translate(291.50,110.15) rotate(-90)" font-size="11.90" text-anchor="middle" textLength="113.4" lengthAdjust="spacingAndGlyphs">Reduced frequency Ω</text>
<rect x="313.40" y="20.60" width="141.30" height="49.70" fill="#f2f2ff" stroke="#9a9a9a" stroke-width="0.6"/>
<path d="M317.30,30.20 H338.20" stroke="#ff0000" stroke-width="1.75" stroke-dasharray="1.3 1.15"/>
<path d="M317.30,45.10 H338.20" stroke="#000" stroke-width="1.6"/>
<path d="M317.30,60.20 H338.20" stroke="#0000ff" stroke-width="1.55" stroke-dasharray="4.0 3.3"/>
<text x="365.30" y="34.10" font-size="12.38" font-style="italic" text-anchor="middle">ϰ</text><path d="M373.00,29.54 H380.50 M373.00,31.62 H380.50" stroke="#1c1c1c" stroke-width="0.58" fill="none"/><text x="385.80" y="34.10" font-size="11.90" textLength="7.70" lengthAdjust="spacingAndGlyphs">0,</text><text x="403.00" y="34.10" font-size="12.38" font-style="italic" text-anchor="middle">σ</text><path d="M410.80,29.54 H418.30 M410.80,31.62 H418.30" stroke="#1c1c1c" stroke-width="0.58" fill="none"/><text x="426.05" y="34.10" font-size="11.90" text-anchor="middle">0</text>
<text x="346.30" y="49.00" font-size="12.38" font-style="italic" text-anchor="middle">ϰ</text><path d="M353.90,44.44 H361.50 M353.90,46.52 H361.50" stroke="#1c1c1c" stroke-width="0.58" fill="none"/><text x="366.60" y="49.00" font-size="11.90" textLength="22.70" lengthAdjust="spacingAndGlyphs">0.25,</text><text x="399.10" y="49.00" font-size="12.38" font-style="italic" text-anchor="middle">σ</text><g transform="translate(403.40,49.00) scale(0.992)" fill="none" stroke="#1c1c1c" stroke-linecap="round"><path d="M2.0,-8.0 C0.9,-6.6 0.5,-5.4 0.5,-4.2 C0.5,-2.0 1.5,-0.3 3.2,-0.25 C4.5,-0.2 5.6,-0.8 6.3,-1.8" stroke-width="1.2"/><path d="M2.0,-8.0 C2.9,-8.5 4.2,-8.6 5.2,-8.0 C6.3,-7.3 6.6,-6.2 6.0,-5.3 C5.3,-4.4 3.8,-4.2 2.9,-4.8 C2.4,-5.2 2.3,-5.6 2.4,-6.0" stroke-width="0.65"/></g><path d="M415.40,44.44 H423.00 M415.40,46.52 H423.00" stroke="#1c1c1c" stroke-width="0.58" fill="none"/><text x="427.20" y="49.00" font-size="11.90" textLength="20.80" lengthAdjust="spacingAndGlyphs">0.25</text>
<text x="346.30" y="64.10" font-size="12.38" font-style="italic" text-anchor="middle">ϰ</text><path d="M353.90,59.54 H361.50 M353.90,61.62 H361.50" stroke="#1c1c1c" stroke-width="0.58" fill="none"/><text x="366.60" y="64.10" font-size="11.90" textLength="22.70" lengthAdjust="spacingAndGlyphs">0.45,</text><text x="399.10" y="64.10" font-size="12.38" font-style="italic" text-anchor="middle">σ</text><g transform="translate(403.40,64.10) scale(0.992)" fill="none" stroke="#1c1c1c" stroke-linecap="round"><path d="M2.0,-8.0 C0.9,-6.6 0.5,-5.4 0.5,-4.2 C0.5,-2.0 1.5,-0.3 3.2,-0.25 C4.5,-0.2 5.6,-0.8 6.3,-1.8" stroke-width="1.2"/><path d="M2.0,-8.0 C2.9,-8.5 4.2,-8.6 5.2,-8.0 C6.3,-7.3 6.6,-6.2 6.0,-5.3 C5.3,-4.4 3.8,-4.2 2.9,-4.8 C2.4,-5.2 2.3,-5.6 2.4,-6.0" stroke-width="0.65"/></g><path d="M415.40,59.54 H423.00 M415.40,61.62 H423.00" stroke="#1c1c1c" stroke-width="0.58" fill="none"/><text x="427.20" y="64.10" font-size="11.90" textLength="20.80" lengthAdjust="spacingAndGlyphs">0.45</text>
<path d="M582.40,208.30 v-5.1 M582.40,12.00 v5.1 M661.23,208.30 v-5.1 M661.23,12.00 v5.1 M740.07,208.30 v-5.1 M740.07,12.00 v5.1 M818.90,208.30 v-5.1 M818.90,12.00 v5.1 M582.40,208.30 h5.1 M818.90,208.30 h-5.1 M582.40,159.23 h5.1 M818.90,159.23 h-5.1 M582.40,110.15 h5.1 M818.90,110.15 h-5.1 M582.40,61.07 h5.1 M818.90,61.07 h-5.1 M582.40,12.00 h5.1 M818.90,12.00 h-5.1" stroke="#808080" stroke-width="0.5" fill="none"/>
<g clip-path="url(#ct2)">
<path d="M582.40,183.76 L583.58,183.76 L584.76,183.74 L585.95,183.71 L587.13,183.67 L588.31,183.62 L589.50,183.56 L590.68,183.49 L591.86,183.41 L593.04,183.32 L594.23,183.21 L595.41,183.09 L596.59,182.97 L597.77,182.83 L598.95,182.68 L600.14,182.52 L601.32,182.35 L602.50,182.17 L603.68,181.97 L604.87,181.77 L606.05,181.55 L607.23,181.33 L608.41,181.09 L609.60,180.84 L610.78,180.58 L611.96,180.31 L613.14,180.03 L614.33,179.74 L615.51,179.43 L616.69,179.12 L617.88,178.79 L619.06,178.46 L620.24,178.11 L621.42,177.75 L622.61,177.38 L623.79,177.00 L624.97,176.61 L626.15,176.20 L627.33,175.79 L628.52,175.37 L629.70,174.93 L630.88,174.48 L632.06,174.02 L633.25,173.55 L634.43,173.07 L635.61,172.58 L636.79,172.08 L637.98,171.57 L639.16,171.04 L640.34,170.51 L641.52,169.96 L642.71,169.40 L643.89,168.83 L645.07,168.25 L646.25,167.66 L647.44,167.06 L648.62,166.45 L649.80,165.82 L650.99,165.19 L652.17,164.54 L653.35,163.89 L654.53,163.22 L655.72,162.54 L656.90,161.85 L658.08,161.15 L659.26,160.44 L660.44,159.71 L661.63,158.98 L662.81,158.23 L663.99,157.48 L665.17,156.71 L666.36,155.93 L667.54,155.14 L668.72,154.34 L669.90,153.53 L671.09,152.71 L672.27,151.87 L673.45,151.03 L674.63,150.17 L675.82,149.31 L677.00,148.43 L678.18,147.54 L679.37,146.64 L680.55,145.73 L681.73,144.81 L682.91,143.87 L684.10,142.93 L685.28,141.97 L686.46,141.01 L687.64,140.03 L688.83,139.04 L690.01,138.04 L691.19,137.03 L692.37,136.01 L693.55,134.98 L694.74,133.94 L695.92,132.88 L697.10,131.82 L698.28,130.74 L699.47,129.65 L700.65,128.55 L701.83,127.44 L703.01,126.32 L704.20,125.19 L705.38,124.05 L706.56,122.89 L707.75,121.73 L708.93,120.55 L710.11,119.37 L711.29,118.17 L712.47,116.96 L713.66,115.74 L714.84,114.51 L716.02,113.27 L717.20,112.01 L718.39,110.75 L719.57,109.47 L720.75,108.19 L721.93,106.89 L723.12,105.58 L724.30,104.26 L725.48,102.93 L726.66,101.59 L727.85,100.24 L729.03,98.87 L730.21,97.50 L731.39,96.11 L732.58,94.72 L733.76,93.31 L734.94,91.89 L736.12,90.46 L737.31,89.02 L738.49,87.57 L739.67,86.10 L740.86,84.63 L742.04,83.14 L743.22,81.65 L744.40,80.14 L745.58,78.62 L746.77,77.09 L747.95,75.55 L749.13,74.00 L750.31,72.44 L751.50,70.86 L752.68,69.28 L753.86,67.68 L755.04,66.08 L756.23,64.46 L757.41,62.83 L758.59,61.19 L759.77,59.54 L760.96,57.88 L762.14,56.21 L763.32,54.52 L764.50,52.83 L765.69,51.12 L766.87,49.40 L768.05,47.68 L769.24,45.94 L770.42,44.19 L771.60,42.43 L772.78,40.65 L773.97,38.87 L775.15,37.08 L776.33,35.27 L777.51,33.45 L778.70,31.63 L779.88,29.79 L781.06,27.94 L782.24,26.08 L783.42,24.21 L784.61,22.32 L785.79,20.43 L786.97,18.53 L788.15,16.61 L789.34,14.68 L790.52,12.75 L791.70,10.80 L792.88,8.84 L794.07,6.87 L795.25,4.88 L796.43,2.89 L797.62,0.89 L798.80,-1.13 L799.98,-3.15 L801.16,-5.19 L802.35,-7.24 L803.53,-9.30 L804.71,-11.37 L805.89,-13.45 L807.07,-15.54 L808.26,-17.65 L809.44,-19.76 L810.62,-21.89 L811.80,-24.02 L812.99,-26.17 L814.17,-28.33 L815.35,-30.50 L816.53,-32.68 L817.72,-34.87 L818.90,-37.07" stroke="#ff0000" stroke-width="1.75" stroke-dasharray="1.3 1.15" fill="none"/>
<path d="M582.40,178.25 L583.58,178.69 L584.76,179.12 L585.95,179.54 L587.13,179.95 L588.31,180.34 L589.50,180.73 L590.68,181.10 L591.86,181.47 L593.04,181.82 L594.23,182.16 L595.41,182.49 L596.59,182.81 L597.77,183.11 L598.95,183.41 L600.14,183.69 L601.32,183.97 L602.50,184.23 L603.68,184.48 L604.87,184.72 L606.05,184.95 L607.23,185.16 L608.41,185.37 L609.60,185.56 L610.78,185.75 L611.96,185.92 L613.14,186.08 L614.33,186.23 L615.51,186.37 L616.69,186.50 L617.88,186.61 L619.06,186.72 L620.24,186.81 L621.42,186.90 L622.61,186.97 L623.79,187.03 L624.97,187.08 L626.15,187.12 L627.33,187.15 L628.52,187.17 L629.70,187.17 L630.88,187.17 L632.06,187.15 L633.25,187.12 L634.43,187.08 L635.61,187.04 L636.79,186.98 L637.98,186.90 L639.16,186.82 L640.34,186.73 L641.52,186.62 L642.71,186.51 L643.89,186.38 L645.07,186.24 L646.25,186.10 L647.44,185.94 L648.62,185.77 L649.80,185.58 L650.99,185.39 L652.17,185.19 L653.35,184.97 L654.53,184.75 L655.72,184.51 L656.90,184.26 L658.08,184.01 L659.26,183.74 L660.44,183.46 L661.63,183.16 L662.81,182.86 L663.99,182.55 L665.17,182.22 L666.36,181.89 L667.54,181.54 L668.72,181.19 L669.90,180.82 L671.09,180.44 L672.27,180.05 L673.45,179.65 L674.63,179.23 L675.82,178.81 L677.00,178.38 L678.18,177.93 L679.37,177.47 L680.55,177.01 L681.73,176.53 L682.91,176.04 L684.10,175.54 L685.28,175.03 L686.46,174.51 L687.64,173.97 L688.83,173.43 L690.01,172.87 L691.19,172.31 L692.37,171.73 L693.55,171.14 L694.74,170.54 L695.92,169.93 L697.10,169.31 L698.28,168.68 L699.47,168.04 L700.65,167.38 L701.83,166.72 L703.01,166.04 L704.20,165.36 L705.38,164.66 L706.56,163.95 L707.75,163.23 L708.93,162.50 L710.11,161.76 L711.29,161.00 L712.47,160.24 L713.66,159.46 L714.84,158.68 L716.02,157.88 L717.20,157.07 L718.39,156.25 L719.57,155.42 L720.75,154.58 L721.93,153.73 L723.12,152.87 L724.30,151.99 L725.48,151.11 L726.66,150.21 L727.85,149.30 L729.03,148.39 L730.21,147.46 L731.39,146.52 L732.58,145.56 L733.76,144.60 L734.94,143.63 L736.12,142.65 L737.31,141.65 L738.49,140.64 L739.67,139.63 L740.86,138.60 L742.04,137.56 L743.22,136.51 L744.40,135.45 L745.58,134.37 L746.77,133.29 L747.95,132.20 L749.13,131.09 L750.31,129.97 L751.50,128.85 L752.68,127.71 L753.86,126.56 L755.04,125.40 L756.23,124.23 L757.41,123.04 L758.59,121.85 L759.77,120.65 L760.96,119.43 L762.14,118.20 L763.32,116.97 L764.50,115.72 L765.69,114.46 L766.87,113.19 L768.05,111.91 L769.24,110.61 L770.42,109.31 L771.60,107.99 L772.78,106.67 L773.97,105.33 L775.15,103.98 L776.33,102.62 L777.51,101.25 L778.70,99.87 L779.88,98.48 L781.06,97.08 L782.24,95.66 L783.42,94.24 L784.61,92.80 L785.79,91.36 L786.97,89.90 L788.15,88.43 L789.34,86.95 L790.52,85.46 L791.70,83.95 L792.88,82.44 L794.07,80.92 L795.25,79.38 L796.43,77.83 L797.62,76.28 L798.80,74.71 L799.98,73.13 L801.16,71.54 L802.35,69.94 L803.53,68.32 L804.71,66.70 L805.89,65.07 L807.07,63.42 L808.26,61.76 L809.44,60.10 L810.62,58.42 L811.80,56.73 L812.99,55.03 L814.17,53.31 L815.35,51.59 L816.53,49.86 L817.72,48.11 L818.90,46.36" stroke="#000" stroke-width="1.6" fill="none"/>
<path d="M582.40,54.94 L583.58,56.75 L584.76,58.55 L585.95,60.35 L587.13,62.13 L588.31,63.89 L589.50,65.65 L590.68,67.40 L591.86,69.13 L593.04,70.86 L594.23,72.57 L595.41,74.27 L596.59,75.96 L597.77,77.64 L598.95,79.31 L600.14,80.97 L601.32,82.62 L602.50,84.25 L603.68,85.88 L604.87,87.49 L606.05,89.10 L607.23,90.69 L608.41,92.27 L609.60,93.84 L610.78,95.40 L611.96,96.95 L613.14,98.48 L614.33,100.01 L615.51,101.52 L616.69,103.03 L617.88,104.52 L619.06,106.00 L620.24,107.47 L621.42,108.93 L622.61,110.38 L623.79,111.82 L624.97,113.24 L626.15,114.66 L627.33,116.06 L628.52,117.45 L629.70,118.84 L630.88,120.21 L632.06,121.57 L633.25,122.92 L634.43,124.25 L635.61,125.58 L636.79,126.90 L637.98,128.20 L639.16,129.50 L640.34,130.78 L641.52,132.05 L642.71,133.31 L643.89,134.56 L645.07,135.80 L646.25,137.03 L647.44,138.24 L648.62,139.45 L649.80,140.64 L650.99,141.83 L652.17,143.00 L653.35,144.16 L654.53,145.31 L655.72,146.45 L656.90,147.58 L658.08,148.69 L659.26,149.80 L660.44,150.89 L661.63,151.98 L662.81,153.05 L663.99,154.11 L665.17,155.16 L666.36,156.20 L667.54,157.23 L668.72,158.25 L669.90,159.26 L671.09,160.25 L672.27,161.24 L673.45,162.21 L674.63,163.17 L675.82,164.12 L677.00,165.06 L678.18,165.99 L679.37,166.91 L680.55,167.82 L681.73,168.72 L682.91,169.60 L684.10,170.48 L685.28,171.34 L686.46,172.19 L687.64,173.03 L688.83,173.86 L690.01,174.68 L691.19,175.49 L692.37,176.29 L693.55,177.07 L694.74,177.85 L695.92,178.61 L697.10,179.36 L698.28,180.10 L699.47,180.83 L700.65,181.55 L701.83,182.26 L703.01,182.96 L704.20,183.65 L705.38,184.32 L706.56,184.99 L707.75,185.64 L708.93,186.28 L710.11,186.91 L711.29,187.53 L712.47,188.14 L713.66,188.74 L714.84,189.33 L716.02,189.90 L717.20,190.47 L718.39,191.02 L719.57,191.57 L720.75,192.10 L721.93,192.62 L723.12,193.13 L724.30,193.63 L725.48,194.11 L726.66,194.59 L727.85,195.06 L729.03,195.51 L730.21,195.95 L731.39,196.39 L732.58,196.81 L733.76,197.22 L734.94,197.62 L736.12,198.01 L737.31,198.38 L738.49,198.75 L739.67,199.11 L740.86,199.45 L742.04,199.78 L743.22,200.10 L744.40,200.42 L745.58,200.72 L746.77,201.00 L747.95,201.28 L749.13,201.55 L750.31,201.80 L751.50,202.05 L752.68,202.28 L753.86,202.51 L755.04,202.72 L756.23,202.92 L757.41,203.11 L758.59,203.29 L759.77,203.45 L760.96,203.61 L762.14,203.76 L763.32,203.89 L764.50,204.01 L765.69,204.13 L766.87,204.23 L768.05,204.32 L769.24,204.40 L770.42,204.46 L771.60,204.52 L772.78,204.57 L773.97,204.60 L775.15,204.63 L776.33,204.64 L777.51,204.64 L778.70,204.63 L779.88,204.61 L781.06,204.58 L782.24,204.54 L783.42,204.48 L784.61,204.42 L785.79,204.34 L786.97,204.26 L788.15,204.16 L789.34,204.05 L790.52,203.93 L791.70,203.80 L792.88,203.66 L794.07,203.51 L795.25,203.34 L796.43,203.17 L797.62,202.98 L798.80,202.79 L799.98,202.58 L801.16,202.36 L802.35,202.13 L803.53,201.89 L804.71,201.64 L805.89,201.37 L807.07,201.10 L808.26,200.81 L809.44,200.52 L810.62,200.21 L811.80,199.89 L812.99,199.56 L814.17,199.22 L815.35,198.87 L816.53,198.51 L817.72,198.13 L818.90,197.75" stroke="#0000ff" stroke-width="1.55" stroke-dasharray="4.0 3.3" fill="none"/>
</g>
<path d="M582.40,181.21 L584.62,185.04 L580.18,185.04 Z" fill="#ff0000"/><path d="M590.28,180.97 L592.50,184.79 L588.06,184.79 Z" fill="#ff0000"/><path d="M598.17,180.23 L600.39,184.06 L595.95,184.06 Z" fill="#ff0000"/><path d="M606.05,179.00 L608.27,182.83 L603.83,182.83 Z" fill="#ff0000"/><path d="M613.93,177.29 L616.15,181.11 L611.71,181.11 Z" fill="#ff0000"/><path d="M621.82,175.08 L624.04,178.90 L619.60,178.90 Z" fill="#ff0000"/><path d="M629.70,172.38 L631.92,176.20 L627.48,176.20 Z" fill="#ff0000"/><path d="M637.58,169.48 L639.80,173.31 L635.36,173.31 Z" fill="#ff0000"/><path d="M645.47,166.10 L647.69,169.92 L643.25,169.92 Z" fill="#ff0000"/><path d="M653.35,162.22 L655.57,166.05 L651.13,166.05 Z" fill="#ff0000"/><path d="M661.23,157.85 L663.45,161.68 L659.01,161.68 Z" fill="#ff0000"/><path d="M669.12,152.99 L671.34,156.82 L666.90,156.82 Z" fill="#ff0000"/><path d="M677.00,147.65 L679.22,151.47 L674.78,151.47 Z" fill="#ff0000"/><path d="M684.88,141.83 L687.10,145.65 L682.66,145.65 Z" fill="#ff0000"/><path d="M692.77,133.12 L694.99,136.94 L690.55,136.94 Z" fill="#ff0000"/><path d="M700.65,126.00 L702.87,129.83 L698.43,129.83 Z" fill="#ff0000"/><path d="M708.53,119.26 L710.75,123.08 L706.31,123.08 Z" fill="#ff0000"/><path d="M716.42,112.07 L718.64,115.89 L714.20,115.89 Z" fill="#ff0000"/><path d="M724.30,104.48 L726.52,108.31 L722.08,108.31 Z" fill="#ff0000"/><path d="M732.18,96.31 L734.40,100.14 L729.96,100.14 Z" fill="#ff0000"/><path d="M740.07,88.09 L742.29,91.92 L737.85,91.92 Z" fill="#ff0000"/><path d="M747.95,79.38 L750.17,83.21 L745.73,83.21 Z" fill="#ff0000"/><path d="M755.83,65.89 L758.05,69.71 L753.61,69.71 Z" fill="#ff0000"/><path d="M763.72,56.56 L765.94,60.39 L761.50,60.39 Z" fill="#ff0000"/><path d="M771.60,46.75 L773.82,50.57 L769.38,50.57 Z" fill="#ff0000"/><path d="M779.48,36.56 L781.70,40.39 L777.26,40.39 Z" fill="#ff0000"/><path d="M787.37,26.14 L789.59,29.96 L785.15,29.96 Z" fill="#ff0000"/><path d="M795.25,15.58 L797.47,19.41 L793.03,19.41 Z" fill="#ff0000"/>
<circle cx="582.40" cy="178.25" r="2.05" fill="#000"/><circle cx="590.28" cy="180.98" r="2.05" fill="#000"/><circle cx="598.17" cy="183.21" r="2.05" fill="#000"/><circle cx="606.05" cy="184.95" r="2.05" fill="#000"/><circle cx="613.93" cy="186.18" r="2.05" fill="#000"/><circle cx="621.82" cy="186.92" r="2.05" fill="#000"/><circle cx="629.70" cy="187.17" r="2.05" fill="#000"/><circle cx="637.58" cy="186.93" r="2.05" fill="#000"/><circle cx="645.47" cy="186.20" r="2.05" fill="#000"/><circle cx="653.35" cy="184.97" r="2.05" fill="#000"/><circle cx="661.23" cy="183.26" r="2.05" fill="#000"/><circle cx="669.12" cy="181.31" r="2.05" fill="#000"/><circle cx="677.00" cy="178.38" r="2.05" fill="#000"/><circle cx="684.88" cy="174.95" r="2.05" fill="#000"/><circle cx="692.77" cy="172.03" r="2.05" fill="#000"/><circle cx="700.65" cy="168.00" r="2.05" fill="#000"/><circle cx="708.53" cy="163.90" r="2.05" fill="#000"/><circle cx="716.42" cy="159.16" r="2.05" fill="#000"/><circle cx="724.30" cy="154.03" r="2.05" fill="#000"/><circle cx="732.18" cy="148.90" r="2.05" fill="#000"/><circle cx="740.07" cy="139.28" r="2.05" fill="#000"/><circle cx="747.95" cy="133.08" r="2.05" fill="#000"/><circle cx="755.83" cy="126.12" r="2.05" fill="#000"/><circle cx="763.72" cy="118.93" r="2.05" fill="#000"/><circle cx="771.60" cy="111.13" r="2.05" fill="#000"/><circle cx="779.48" cy="103.56" r="2.05" fill="#000"/><circle cx="787.37" cy="95.13" r="2.05" fill="#000"/><circle cx="795.25" cy="86.60" r="2.05" fill="#000"/><circle cx="803.13" cy="72.62" r="2.05" fill="#000"/><circle cx="811.02" cy="63.38" r="2.05" fill="#000"/><circle cx="818.90" cy="53.96" r="2.05" fill="#000"/>
<rect x="580.30" y="57.99" width="4.20" height="4.20" fill="#0000ff"/><rect x="588.18" y="68.08" width="4.20" height="4.20" fill="#0000ff"/><rect x="596.07" y="77.92" width="4.20" height="4.20" fill="#0000ff"/><rect x="603.95" y="92.69" width="4.20" height="4.20" fill="#0000ff"/><rect x="611.83" y="101.72" width="4.20" height="4.20" fill="#0000ff"/><rect x="619.72" y="109.72" width="4.20" height="4.20" fill="#0000ff"/><rect x="627.60" y="118.33" width="4.20" height="4.20" fill="#0000ff"/><rect x="635.48" y="126.16" width="4.20" height="4.20" fill="#0000ff"/><rect x="643.37" y="133.86" width="4.20" height="4.20" fill="#0000ff"/><rect x="651.25" y="141.32" width="4.20" height="4.20" fill="#0000ff"/><rect x="659.13" y="149.03" width="4.20" height="4.20" fill="#0000ff"/><rect x="667.02" y="156.49" width="4.20" height="4.20" fill="#0000ff"/><rect x="674.90" y="162.96" width="4.20" height="4.20" fill="#0000ff"/><rect x="682.78" y="168.95" width="4.20" height="4.20" fill="#0000ff"/><rect x="690.67" y="174.45" width="4.20" height="4.20" fill="#0000ff"/><rect x="698.55" y="178.96" width="4.20" height="4.20" fill="#0000ff"/><rect x="706.43" y="182.99" width="4.20" height="4.20" fill="#0000ff"/><rect x="714.32" y="188.24" width="4.20" height="4.20" fill="#0000ff"/><rect x="722.20" y="192.26" width="4.20" height="4.20" fill="#0000ff"/><rect x="730.08" y="194.57" width="4.20" height="4.20" fill="#0000ff"/><rect x="737.97" y="197.12" width="4.20" height="4.20" fill="#0000ff"/><rect x="745.85" y="198.69" width="4.20" height="4.20" fill="#0000ff"/><rect x="753.73" y="200.26" width="4.20" height="4.20" fill="#0000ff"/><rect x="761.62" y="201.34" width="4.20" height="4.20" fill="#0000ff"/><rect x="769.50" y="201.93" width="4.20" height="4.20" fill="#0000ff"/><rect x="777.38" y="202.27" width="4.20" height="4.20" fill="#0000ff"/><rect x="785.27" y="201.88" width="4.20" height="4.20" fill="#0000ff"/><rect x="793.15" y="201.24" width="4.20" height="4.20" fill="#0000ff"/><rect x="801.03" y="199.87" width="4.20" height="4.20" fill="#0000ff"/><rect x="808.92" y="198.00" width="4.20" height="4.20" fill="#0000ff"/><rect x="816.80" y="195.65" width="4.20" height="4.20" fill="#0000ff"/>
<rect x="582.40" y="12.00" width="236.50" height="196.30" fill="none" stroke="#000" stroke-width="0.7"/>
<text x="582.40" y="220.30" font-size="11.90" text-anchor="middle">0</text>
<text x="661.23" y="220.30" font-size="11.90" text-anchor="middle">1</text>
<text x="740.07" y="220.30" font-size="11.90" text-anchor="middle">2</text>
<text x="818.90" y="220.30" font-size="11.90" text-anchor="middle">3</text>
<text x="577.80" y="212.10" font-size="11.90" text-anchor="end">0</text>
<text x="577.80" y="163.03" font-size="11.90" text-anchor="end">2</text>
<text x="577.80" y="113.95" font-size="11.90" text-anchor="end">4</text>
<text x="577.80" y="64.87" font-size="11.90" text-anchor="end">6</text>
<text x="577.80" y="15.80" font-size="11.90" text-anchor="end">8</text>
<path d="M778.52,208.30 v-5.1 M778.52,12.00 v5.1" stroke="#808080" stroke-width="0.5" fill="none"/>
<text x="778.22" y="216.6" font-size="8.8" fill="#3030ff" text-anchor="middle"><tspan font-style="italic">q</tspan><tspan font-size="6.6" dy="1.4">0</tspan></text>
<text x="635.70" y="231.60" font-size="11.90" textLength="130.10" lengthAdjust="spacingAndGlyphs">Reduced wave number <tspan font-style="italic">q</tspan></text>
<text transform="translate(567.60,110.15) rotate(-90)" font-size="11.90" text-anchor="middle" textLength="113.4" lengthAdjust="spacingAndGlyphs">Reduced frequency Ω</text>
<rect x="599.30" y="20.60" width="128.10" height="49.70" fill="#f2f2ff" stroke="#9a9a9a" stroke-width="0.6"/>
<path d="M603.20,30.20 H624.10" stroke="#ff0000" stroke-width="1.75" stroke-dasharray="1.3 1.15"/>
<path d="M603.20,45.10 H624.10" stroke="#000" stroke-width="1.6"/>
<path d="M603.20,60.20 H624.10" stroke="#0000ff" stroke-width="1.55" stroke-dasharray="4.0 3.3"/>
<text x="644.85" y="34.10" font-size="12.38" font-style="italic" text-anchor="middle">ϰ</text><path d="M652.40,29.54 H660.00 M652.40,31.62 H660.00" stroke="#1c1c1c" stroke-width="0.58" fill="none"/><text x="665.10" y="34.10" font-size="11.90" textLength="7.90" lengthAdjust="spacingAndGlyphs">0,</text><text x="682.00" y="34.10" font-size="12.38" font-style="italic" text-anchor="middle">σ</text><path d="M689.90,29.54 H697.50 M689.90,31.62 H697.50" stroke="#1c1c1c" stroke-width="0.58" fill="none"/><text x="705.45" y="34.10" font-size="11.90" text-anchor="middle">0</text>
<text x="631.85" y="49.00" font-size="12.38" font-style="italic" text-anchor="middle">ϰ</text><path d="M638.40,44.44 H645.70 M638.40,46.52 H645.70" stroke="#1c1c1c" stroke-width="0.58" fill="none"/><text x="651.90" y="49.00" font-size="11.90" textLength="18.60" lengthAdjust="spacingAndGlyphs">0.5,</text><text x="677.75" y="49.00" font-size="12.38" font-style="italic" text-anchor="middle">σ</text><g transform="translate(682.50,49.00) scale(0.992)" fill="none" stroke="#1c1c1c" stroke-linecap="round"><path d="M2.0,-8.0 C0.9,-6.6 0.5,-5.4 0.5,-4.2 C0.5,-2.0 1.5,-0.3 3.2,-0.25 C4.5,-0.2 5.6,-0.8 6.3,-1.8" stroke-width="1.2"/><path d="M2.0,-8.0 C2.9,-8.5 4.2,-8.6 5.2,-8.0 C6.3,-7.3 6.6,-6.2 6.0,-5.3 C5.3,-4.4 3.8,-4.2 2.9,-4.8 C2.4,-5.2 2.3,-5.6 2.4,-6.0" stroke-width="0.65"/></g><path d="M694.60,44.44 H702.20 M694.60,46.52 H702.20" stroke="#1c1c1c" stroke-width="0.58" fill="none"/><text x="706.40" y="49.00" font-size="11.90" textLength="14.80" lengthAdjust="spacingAndGlyphs">0.5</text>
<text x="636.40" y="64.10" font-size="12.38" font-style="italic" text-anchor="middle">ϰ</text><path d="M644.00,59.54 H651.60 M644.00,61.62 H651.60" stroke="#1c1c1c" stroke-width="0.58" fill="none"/><text x="657.80" y="64.10" font-size="11.90" textLength="17.40" lengthAdjust="spacingAndGlyphs">1.5,</text><text x="683.30" y="64.10" font-size="12.38" font-style="italic" text-anchor="middle">σ</text><g transform="translate(687.50,64.10) scale(0.992)" fill="none" stroke="#1c1c1c" stroke-linecap="round"><path d="M2.0,-8.0 C0.9,-6.6 0.5,-5.4 0.5,-4.2 C0.5,-2.0 1.5,-0.3 3.2,-0.25 C4.5,-0.2 5.6,-0.8 6.3,-1.8" stroke-width="1.2"/><path d="M2.0,-8.0 C2.9,-8.5 4.2,-8.6 5.2,-8.0 C6.3,-7.3 6.6,-6.2 6.0,-5.3 C5.3,-4.4 3.8,-4.2 2.9,-4.8 C2.4,-5.2 2.3,-5.6 2.4,-6.0" stroke-width="0.65"/></g><path d="M699.70,59.54 H707.20 M699.70,61.62 H707.20" stroke="#1c1c1c" stroke-width="0.58" fill="none"/><text x="714.00" y="64.10" font-size="11.90" text-anchor="middle">2</text>
<linearGradient id="gg0" gradientUnits="userSpaceOnUse" x1="33.2" x2="266.5" y1="0" y2="0"><stop offset="0" stop-color="#8ea2f6" stop-opacity="0.18"/><stop offset="0.35" stop-color="#93a6f6" stop-opacity="0.38"/><stop offset="0.7" stop-color="#a3b3f8" stop-opacity="0.62"/><stop offset="1" stop-color="#b4c1fa" stop-opacity="0.80"/></linearGradient>
<linearGradient id="gh0" gradientUnits="userSpaceOnUse" x1="33.2" x2="266.5" y1="0" y2="0"><stop offset="0" stop-color="#dfe5fd" stop-opacity="0.25"/><stop offset="0.4" stop-color="#e4e9fd" stop-opacity="0.5"/><stop offset="1" stop-color="#eef1fe" stop-opacity="0.9"/></linearGradient>
<linearGradient id="gw0" gradientUnits="userSpaceOnUse" x1="33.2" x2="266.5" y1="0" y2="0"><stop offset="0" stop-color="#fff" stop-opacity="0.6"/><stop offset="0.4" stop-color="#fff" stop-opacity="0.85"/><stop offset="1" stop-color="#fff" stop-opacity="1"/></linearGradient>
<g clip-path="url(#cbt0)">
<rect x="33.20" y="247.40" width="233.30" height="232.40" fill="#3452ee"/>
<path d="M17.6,428.0 L19.6,429.1 L21.5,430.3 L23.5,431.3 L25.4,432.4 L27.4,433.4 L29.3,434.4 L31.3,435.3 L33.2,436.2 L35.1,437.0 L37.1,437.8 L39.0,438.5 L41.0,439.2 L42.9,439.8 L44.9,440.4 L46.8,440.9 L48.8,441.4 L50.7,441.8 L52.6,442.2 L54.6,442.6 L56.5,442.9 L58.5,443.1 L60.4,443.4 L62.4,443.6 L64.3,443.7 L66.3,443.8 L68.2,443.9 L70.1,443.9 L72.1,443.9 L74.0,443.8 L76.0,443.7 L77.9,443.6 L79.9,443.4 L81.8,443.2 L83.7,443.0 L85.7,442.7 L87.6,442.4 L89.6,442.0 L91.5,441.6 L93.5,441.1 L95.4,440.6 L97.4,440.1 L99.3,439.6 L101.2,439.0 L103.2,438.3 L105.1,437.6 L107.1,436.9 L109.0,436.2 L111.0,435.4 L112.9,434.6 L114.9,433.7 L116.8,432.8 L118.7,431.9 L120.7,430.9 L122.6,429.9 L124.6,428.8 L126.5,427.7 L128.5,426.6 L130.4,425.4 L132.4,424.2 L134.3,423.0 L136.2,421.7 L138.2,420.4 L140.1,419.1 L142.1,417.7 L144.0,416.3 L146.0,414.8 L147.9,413.3 L149.9,411.8 L151.8,410.2 L153.7,408.6 L155.7,407.0 L157.6,405.3 L159.6,403.6 L161.5,401.8 L163.5,400.1 L165.4,398.2 L167.3,396.4 L169.3,394.5 L171.2,392.6 L173.2,390.6 L175.1,388.6 L177.1,386.6 L179.0,384.5 L181.0,382.4 L182.9,380.3 L184.8,378.1 L186.8,375.9 L188.7,373.7 L190.7,371.4 L192.6,369.1 L194.6,366.7 L196.5,364.4 L198.5,362.0 L200.4,359.5 L202.3,357.0 L204.3,354.5 L206.2,352.0 L208.2,349.4 L210.1,346.8 L212.1,344.1 L214.0,341.4 L216.0,338.7 L217.9,336.0 L219.8,333.2 L221.8,330.4 L223.7,327.5 L225.7,324.7 L227.6,321.7 L229.6,318.8 L231.5,315.8 L233.4,312.8 L235.4,309.8 L237.3,306.7 L239.3,303.6 L241.2,300.4 L243.2,297.3 L245.1,294.1 L247.1,290.8 L249.0,287.6 L250.9,284.3 L252.9,280.9 L254.8,277.6 L256.8,274.2 L258.7,270.8 L260.7,267.3 L262.6,263.8 L264.6,260.3 L266.5,256.8 L268.4,253.6 L270.4,250.4 L272.3,247.1 L274.3,243.8 L276.2,240.5 L278.2,237.1 L280.1,233.8 L282.1,230.4 L282.1,310.4 L280.1,313.8 L278.2,317.1 L276.2,320.5 L274.3,323.8 L272.3,327.1 L270.4,330.4 L268.4,333.6 L266.5,336.8 L264.6,339.6 L262.6,342.3 L260.7,345.1 L258.7,347.8 L256.8,350.5 L254.8,353.2 L252.9,355.8 L250.9,358.4 L249.0,361.0 L247.1,363.5 L245.1,366.0 L243.2,368.5 L241.2,371.0 L239.3,373.4 L237.3,375.8 L235.4,378.1 L233.4,380.5 L231.5,382.8 L229.6,385.1 L227.6,387.3 L225.7,389.5 L223.7,391.7 L221.8,393.9 L219.8,396.0 L217.9,398.1 L216.0,400.2 L214.0,402.2 L212.1,404.2 L210.1,406.2 L208.2,408.2 L206.2,410.1 L204.3,412.0 L202.3,413.8 L200.4,415.7 L198.5,417.5 L196.5,419.2 L194.6,420.9 L192.6,422.6 L190.7,424.3 L188.7,426.0 L186.8,427.6 L184.8,429.1 L182.9,430.7 L181.0,432.2 L179.0,433.7 L177.1,435.1 L175.1,436.5 L173.2,437.9 L171.2,439.3 L169.3,440.6 L167.3,441.9 L165.4,443.1 L163.5,444.4 L161.5,445.6 L159.6,446.7 L157.6,447.8 L155.7,448.9 L153.7,450.0 L151.8,451.0 L149.9,452.0 L147.9,453.0 L146.0,453.9 L144.0,454.8 L142.1,455.7 L140.1,456.5 L138.2,457.3 L136.2,458.1 L134.3,458.8 L132.4,459.5 L130.4,460.2 L128.5,460.9 L126.5,461.5 L124.6,462.0 L122.6,462.6 L120.7,463.1 L118.7,463.6 L116.8,464.0 L114.9,464.4 L112.9,464.8 L111.0,465.1 L109.0,465.5 L107.1,465.7 L105.1,466.0 L103.2,466.2 L101.2,466.4 L99.3,466.5 L97.4,466.6 L95.4,466.7 L93.5,466.8 L91.5,466.8 L89.6,466.7 L87.6,466.7 L85.7,466.6 L83.7,466.5 L81.8,466.3 L79.9,466.2 L77.9,465.9 L76.0,465.7 L74.0,465.4 L72.1,465.1 L70.1,464.8 L68.2,464.4 L66.3,464.0 L64.3,463.5 L62.4,463.0 L60.4,462.5 L58.5,462.0 L56.5,461.4 L54.6,460.8 L52.6,460.2 L50.7,459.5 L48.8,458.8 L46.8,458.1 L44.9,457.3 L42.9,456.5 L41.0,455.7 L39.0,454.9 L37.1,454.0 L35.1,453.1 L33.2,452.2 L31.3,451.3 L29.3,450.4 L27.4,449.4 L25.4,448.4 L23.5,447.3 L21.5,446.3 L19.6,445.1 L17.6,444.0Z" fill="url(#gg0)" fill-opacity="0.45" filter="url(#b10)"/>
<path d="M33.2,453.9 H266.5" stroke="#8094f4" stroke-opacity="0.14" stroke-width="1.6"/>
<path d="M17.6,432.0 L19.6,433.1 L21.5,434.3 L23.5,435.3 L25.4,436.4 L27.4,437.4 L29.3,438.4 L31.3,439.3 L33.2,440.2 L35.1,441.1 L37.1,441.9 L39.0,442.6 L41.0,443.3 L42.9,444.0 L44.9,444.6 L46.8,445.2 L48.8,445.7 L50.7,446.2 L52.6,446.6 L54.6,447.1 L56.5,447.4 L58.5,447.8 L60.4,448.1 L62.4,448.3 L64.3,448.5 L66.3,448.7 L68.2,448.9 L70.1,449.0 L72.1,449.0 L74.0,449.1 L76.0,449.0 L77.9,449.0 L79.9,448.9 L81.8,448.8 L83.7,448.6 L85.7,448.4 L87.6,448.2 L89.6,447.9 L91.5,447.6 L93.5,447.2 L95.4,446.8 L97.4,446.4 L99.3,446.0 L101.2,445.5 L103.2,444.9 L105.1,444.3 L107.1,443.7 L109.0,443.1 L111.0,442.4 L112.9,441.7 L114.9,440.9 L116.8,440.1 L118.7,439.3 L120.7,438.4 L122.6,437.5 L124.6,436.6 L126.5,435.6 L128.5,434.6 L130.4,433.5 L132.4,432.5 L134.3,431.3 L136.2,430.2 L138.2,429.0 L140.1,427.8 L142.1,426.5 L144.0,425.2 L146.0,423.9 L147.9,422.5 L149.9,421.1 L151.8,419.6 L153.7,418.2 L155.7,416.7 L157.6,415.1 L159.6,413.5 L161.5,411.9 L163.5,410.2 L165.4,408.6 L167.3,406.8 L169.3,405.1 L171.2,403.3 L173.2,401.5 L175.1,399.6 L177.1,397.7 L179.0,395.8 L181.0,393.8 L182.9,391.8 L184.8,389.8 L186.8,387.7 L188.7,385.6 L190.7,383.5 L192.6,381.3 L194.6,379.1 L196.5,376.9 L198.5,374.6 L200.4,372.3 L202.3,370.0 L204.3,367.6 L206.2,365.2 L208.2,362.7 L210.1,360.3 L212.1,357.8 L214.0,355.2 L216.0,352.7 L217.9,350.1 L219.8,347.4 L221.8,344.8 L223.7,342.1 L225.7,339.4 L227.6,336.6 L229.6,333.8 L231.5,331.0 L233.4,328.1 L235.4,325.2 L237.3,322.3 L239.3,319.4 L241.2,316.4 L243.2,313.4 L245.1,310.3 L247.1,307.2 L249.0,304.1 L250.9,301.0 L252.9,297.8 L254.8,294.6 L256.8,291.4 L258.7,288.1 L260.7,284.8 L262.6,281.5 L264.6,278.2 L266.5,274.8 L268.4,271.6 L270.4,268.4 L272.3,265.1 L274.3,261.8 L276.2,258.5 L278.2,255.1 L280.1,251.8 L282.1,248.4 L282.1,296.4 L280.1,299.8 L278.2,303.1 L276.2,306.5 L274.3,309.8 L272.3,313.1 L270.4,316.4 L268.4,319.6 L266.5,322.8 L264.6,325.7 L262.6,328.6 L260.7,331.4 L258.7,334.3 L256.8,337.1 L254.8,339.8 L252.9,342.6 L250.9,345.3 L249.0,348.0 L247.1,350.6 L245.1,353.3 L243.2,355.9 L241.2,358.4 L239.3,361.0 L237.3,363.5 L235.4,366.0 L233.4,368.4 L231.5,370.8 L229.6,373.2 L227.6,375.6 L225.7,377.9 L223.7,380.2 L221.8,382.5 L219.8,384.7 L217.9,386.9 L216.0,389.1 L214.0,391.2 L212.1,393.4 L210.1,395.4 L208.2,397.5 L206.2,399.5 L204.3,401.5 L202.3,403.5 L200.4,405.4 L198.5,407.3 L196.5,409.1 L194.6,411.0 L192.6,412.8 L190.7,414.5 L188.7,416.3 L186.8,418.0 L184.8,419.7 L182.9,421.3 L181.0,422.9 L179.0,424.5 L177.1,426.0 L175.1,427.5 L173.2,429.0 L171.2,430.5 L169.3,431.9 L167.3,433.3 L165.4,434.6 L163.5,435.9 L161.5,437.2 L159.6,438.5 L157.6,439.7 L155.7,440.9 L153.7,442.0 L151.8,443.2 L149.9,444.2 L147.9,445.3 L146.0,446.3 L144.0,447.3 L142.1,448.3 L140.1,449.2 L138.2,450.1 L136.2,450.9 L134.3,451.7 L132.4,452.5 L130.4,453.3 L128.5,454.0 L126.5,454.7 L124.6,455.4 L122.6,456.0 L120.7,456.6 L118.7,457.1 L116.8,457.6 L114.9,458.1 L112.9,458.6 L111.0,459.0 L109.0,459.4 L107.1,459.7 L105.1,460.0 L103.2,460.3 L101.2,460.6 L99.3,460.8 L97.4,461.0 L95.4,461.1 L93.5,461.2 L91.5,461.3 L89.6,461.4 L87.6,461.4 L85.7,461.4 L83.7,461.3 L81.8,461.2 L79.9,461.1 L77.9,461.0 L76.0,460.8 L74.0,460.5 L72.1,460.3 L70.1,460.0 L68.2,459.7 L66.3,459.3 L64.3,458.9 L62.4,458.5 L60.4,458.0 L58.5,457.6 L56.5,457.0 L54.6,456.5 L52.6,455.9 L50.7,455.3 L48.8,454.6 L46.8,453.9 L44.9,453.2 L42.9,452.4 L41.0,451.6 L39.0,450.8 L37.1,450.0 L35.1,449.1 L33.2,448.2 L31.3,447.3 L29.3,446.4 L27.4,445.4 L25.4,444.4 L23.5,443.3 L21.5,442.3 L19.6,441.1 L17.6,440.0Z" fill="url(#gg0)" fill-opacity="1.00" filter="url(#b4)"/>
<pattern id="st0" patternUnits="userSpaceOnUse" x="32.88" y="0" width="3.589" height="10"><rect x="0" y="0" width="1.795" height="10" fill="#fff" fill-opacity="0.55"/></pattern>
<path d="M17.6,431.0 L19.6,432.1 L21.5,433.3 L23.5,434.3 L25.4,435.4 L27.4,436.4 L29.3,437.4 L31.3,438.3 L33.2,439.2 L35.1,440.1 L37.1,440.9 L39.0,441.6 L41.0,442.3 L42.9,443.0 L44.9,443.6 L46.8,444.2 L48.8,444.8 L50.7,445.3 L52.6,445.7 L54.6,446.2 L56.5,446.6 L58.5,446.9 L60.4,447.2 L62.4,447.5 L64.3,447.7 L66.3,447.9 L68.2,448.1 L70.1,448.2 L72.1,448.3 L74.0,448.3 L76.0,448.3 L77.9,448.3 L79.9,448.2 L81.8,448.1 L83.7,448.0 L85.7,447.8 L87.6,447.6 L89.6,447.3 L91.5,447.0 L93.5,446.7 L95.4,446.3 L97.4,445.9 L99.3,445.5 L101.2,445.0 L103.2,444.5 L105.1,443.9 L107.1,443.3 L109.0,442.7 L111.0,442.0 L112.9,441.3 L114.9,440.6 L116.8,439.8 L118.7,439.0 L120.7,438.2 L122.6,437.3 L124.6,436.4 L126.5,435.4 L128.5,434.4 L130.4,433.4 L132.4,432.4 L134.3,431.3 L136.2,430.1 L138.2,429.0 L140.1,427.8 L142.1,426.5 L144.0,425.3 L146.0,423.9 L147.9,422.6 L149.9,421.2 L151.8,419.8 L153.7,418.4 L155.7,416.9 L157.6,415.3 L159.6,413.8 L161.5,412.2 L163.5,410.6 L165.4,408.9 L167.3,407.2 L169.3,405.5 L171.2,403.7 L173.2,401.9 L175.1,400.1 L177.1,398.2 L179.0,396.3 L181.0,394.4 L182.9,392.4 L184.8,390.4 L186.8,388.4 L188.7,386.3 L190.7,384.2 L192.6,382.1 L194.6,379.9 L196.5,377.7 L198.5,375.4 L200.4,373.2 L202.3,370.9 L204.3,368.5 L206.2,366.2 L208.2,363.8 L210.1,361.3 L212.1,358.8 L214.0,356.3 L216.0,353.8 L217.9,351.2 L219.8,348.6 L221.8,346.0 L223.7,343.3 L225.7,340.6 L227.6,337.9 L229.6,335.2 L231.5,332.4 L233.4,329.5 L235.4,326.7 L237.3,323.8 L239.3,320.9 L241.2,317.9 L243.2,314.9 L245.1,311.9 L247.1,308.9 L249.0,305.8 L250.9,302.7 L252.9,299.6 L254.8,296.4 L256.8,293.2 L258.7,290.0 L260.7,286.7 L262.6,283.4 L264.6,280.1 L266.5,276.8 L268.4,273.6 L270.4,270.4 L272.3,267.1 L274.3,263.8 L276.2,260.5 L278.2,257.1 L280.1,253.8 L282.1,250.4 L282.1,292.4 L280.1,295.8 L278.2,299.1 L276.2,302.5 L274.3,305.8 L272.3,309.1 L270.4,312.4 L268.4,315.6 L266.5,318.8 L264.6,321.8 L262.6,324.7 L260.7,327.6 L258.7,330.5 L256.8,333.4 L254.8,336.2 L252.9,339.0 L250.9,341.8 L249.0,344.5 L247.1,347.2 L245.1,349.9 L243.2,352.6 L241.2,355.2 L239.3,357.8 L237.3,360.3 L235.4,362.9 L233.4,365.4 L231.5,367.8 L229.6,370.3 L227.6,372.7 L225.7,375.1 L223.7,377.4 L221.8,379.8 L219.8,382.1 L217.9,384.3 L216.0,386.5 L214.0,388.7 L212.1,390.9 L210.1,393.0 L208.2,395.1 L206.2,397.2 L204.3,399.3 L202.3,401.3 L200.4,403.2 L198.5,405.2 L196.5,407.1 L194.6,409.0 L192.6,410.8 L190.7,412.7 L188.7,414.4 L186.8,416.2 L184.8,417.9 L182.9,419.6 L181.0,421.3 L179.0,422.9 L177.1,424.5 L175.1,426.1 L173.2,427.6 L171.2,429.1 L169.3,430.5 L167.3,432.0 L165.4,433.4 L163.5,434.7 L161.5,436.1 L159.6,437.4 L157.6,438.6 L155.7,439.9 L153.7,441.0 L151.8,442.2 L149.9,443.3 L147.9,444.4 L146.0,445.5 L144.0,446.5 L142.1,447.5 L140.1,448.5 L138.2,449.4 L136.2,450.3 L134.3,451.2 L132.4,452.0 L130.4,452.8 L128.5,453.6 L126.5,454.3 L124.6,455.0 L122.6,455.7 L120.7,456.3 L118.7,456.9 L116.8,457.4 L114.9,458.0 L112.9,458.5 L111.0,458.9 L109.0,459.3 L107.1,459.7 L105.1,460.1 L103.2,460.4 L101.2,460.7 L99.3,460.9 L97.4,461.2 L95.4,461.3 L93.5,461.5 L91.5,461.6 L89.6,461.7 L87.6,461.7 L85.7,461.8 L83.7,461.7 L81.8,461.7 L79.9,461.6 L77.9,461.5 L76.0,461.3 L74.0,461.1 L72.1,460.9 L70.1,460.6 L68.2,460.3 L66.3,460.0 L64.3,459.6 L62.4,459.2 L60.4,458.8 L58.5,458.3 L56.5,457.8 L54.6,457.3 L52.6,456.7 L50.7,456.1 L48.8,455.5 L46.8,454.8 L44.9,454.1 L42.9,453.4 L41.0,452.6 L39.0,451.8 L37.1,451.0 L35.1,450.1 L33.2,449.2 L31.3,448.3 L29.3,447.4 L27.4,446.4 L25.4,445.4 L23.5,444.3 L21.5,443.3 L19.6,442.1 L17.6,441.0Z" fill="url(#st0)" fill-opacity="0.16" filter="url(#b2s)"/>
<path d="M17.6,434.5 L19.6,435.6 L21.5,436.8 L23.5,437.8 L25.4,438.9 L27.4,439.9 L29.3,440.9 L31.3,441.8 L33.2,442.7 L35.1,443.6 L37.1,444.4 L39.0,445.2 L41.0,445.9 L42.9,446.6 L44.9,447.3 L46.8,447.9 L48.8,448.5 L50.7,449.1 L52.6,449.6 L54.6,450.1 L56.5,450.5 L58.5,450.9 L60.4,451.3 L62.4,451.6 L64.3,451.9 L66.3,452.2 L68.2,452.4 L70.1,452.6 L72.1,452.7 L74.0,452.9 L76.0,452.9 L77.9,453.0 L79.9,453.0 L81.8,452.9 L83.7,452.9 L85.7,452.8 L87.6,452.6 L89.6,452.4 L91.5,452.2 L93.5,452.0 L95.4,451.7 L97.4,451.3 L99.3,451.0 L101.2,450.6 L103.2,450.1 L105.1,449.7 L107.1,449.1 L109.0,448.6 L111.0,448.0 L112.9,447.4 L114.9,446.7 L116.8,446.0 L118.7,445.3 L120.7,444.6 L122.6,443.8 L124.6,442.9 L126.5,442.0 L128.5,441.1 L130.4,440.2 L132.4,439.2 L134.3,438.2 L136.2,437.1 L138.2,436.0 L140.1,434.9 L142.1,433.7 L144.0,432.5 L146.0,431.3 L147.9,430.0 L149.9,428.7 L151.8,427.4 L153.7,426.0 L155.7,424.6 L157.6,423.1 L159.6,421.6 L161.5,420.1 L163.5,418.5 L165.4,416.9 L167.3,415.3 L169.3,413.6 L171.2,411.9 L173.2,410.2 L175.1,408.4 L177.1,406.6 L179.0,404.7 L181.0,402.8 L182.9,400.9 L184.8,398.9 L186.8,396.9 L188.7,394.9 L190.7,392.8 L192.6,390.7 L194.6,388.6 L196.5,386.4 L198.5,384.2 L200.4,381.9 L202.3,379.6 L204.3,377.3 L206.2,374.9 L208.2,372.5 L210.1,370.1 L212.1,367.6 L214.0,365.1 L216.0,362.6 L217.9,360.0 L219.8,357.4 L221.8,354.7 L223.7,352.0 L225.7,349.3 L227.6,346.5 L229.6,343.7 L231.5,340.9 L233.4,338.0 L235.4,335.1 L237.3,332.1 L239.3,329.2 L241.2,326.1 L243.2,323.1 L245.1,320.0 L247.1,316.9 L249.0,313.7 L250.9,310.5 L252.9,307.3 L254.8,304.0 L256.8,300.7 L258.7,297.3 L260.7,293.9 L262.6,290.5 L264.6,287.1 L266.5,283.6 L268.4,280.1 L270.4,276.5 L272.3,273.0 L274.3,269.4 L276.2,265.7 L278.2,262.1 L280.1,258.4 L282.1,254.6 L282.1,278.9 L280.1,282.3 L278.2,285.6 L276.2,289.0 L274.3,292.3 L272.3,295.6 L270.4,298.9 L268.4,302.1 L266.5,305.3 L264.6,308.4 L262.6,311.4 L260.7,314.5 L258.7,317.5 L256.8,320.4 L254.8,323.4 L252.9,326.3 L250.9,329.2 L249.0,332.0 L247.1,334.9 L245.1,337.7 L243.2,340.4 L241.2,343.2 L239.3,345.9 L237.3,348.5 L235.4,351.2 L233.4,353.8 L231.5,356.4 L229.6,358.9 L227.6,361.5 L225.7,363.9 L223.7,366.4 L221.8,368.8 L219.8,371.2 L217.9,373.6 L216.0,375.9 L214.0,378.2 L212.1,380.5 L210.1,382.8 L208.2,385.0 L206.2,387.1 L204.3,389.3 L202.3,391.4 L200.4,393.5 L198.5,395.5 L196.5,397.5 L194.6,399.5 L192.6,401.5 L190.7,403.4 L188.7,405.3 L186.8,407.1 L184.8,409.0 L182.9,410.7 L181.0,412.5 L179.0,414.2 L177.1,415.9 L175.1,417.6 L173.2,419.2 L171.2,420.8 L169.3,422.3 L167.3,423.9 L165.4,425.3 L163.5,426.8 L161.5,428.2 L159.6,429.6 L157.6,431.0 L155.7,432.3 L153.7,433.6 L151.8,434.8 L149.9,436.1 L147.9,437.2 L146.0,438.4 L144.0,439.5 L142.1,440.6 L140.1,441.6 L138.2,442.7 L136.2,443.6 L134.3,444.6 L132.4,445.5 L130.4,446.4 L128.5,447.2 L126.5,448.0 L124.6,448.8 L122.6,449.6 L120.7,450.3 L118.7,450.9 L116.8,451.6 L114.9,452.2 L112.9,452.7 L111.0,453.3 L109.0,453.8 L107.1,454.2 L105.1,454.7 L103.2,455.1 L101.2,455.4 L99.3,455.7 L97.4,456.0 L95.4,456.3 L93.5,456.5 L91.5,456.7 L89.6,456.8 L87.6,456.9 L85.7,457.0 L83.7,457.1 L81.8,457.1 L79.9,457.0 L77.9,457.0 L76.0,456.9 L74.0,456.7 L72.1,456.6 L70.1,456.4 L68.2,456.1 L66.3,455.8 L64.3,455.5 L62.4,455.2 L60.4,454.8 L58.5,454.4 L56.5,453.9 L54.6,453.4 L52.6,452.9 L50.7,452.4 L48.8,451.8 L46.8,451.1 L44.9,450.5 L42.9,449.8 L41.0,449.0 L39.0,448.2 L37.1,447.4 L35.1,446.6 L33.2,445.7 L31.3,444.8 L29.3,443.9 L27.4,442.9 L25.4,441.9 L23.5,440.8 L21.5,439.8 L19.6,438.6 L17.6,437.5Z" fill="url(#gh0)" fill-opacity="1.00" filter="url(#b2)"/>
<path d="M17.6,434.7 L19.6,435.8 L21.5,437.0 L23.5,438.0 L25.4,439.1 L27.4,440.1 L29.3,441.1 L31.3,442.0 L33.2,442.9 L35.1,443.8 L37.1,444.6 L39.0,445.4 L41.0,446.2 L42.9,446.9 L44.9,447.5 L46.8,448.2 L48.8,448.8 L50.7,449.4 L52.6,449.9 L54.6,450.4 L56.5,450.8 L58.5,451.3 L60.4,451.6 L62.4,452.0 L64.3,452.3 L66.3,452.6 L68.2,452.8 L70.1,453.0 L72.1,453.2 L74.0,453.3 L76.0,453.4 L77.9,453.4 L79.9,453.5 L81.8,453.4 L83.7,453.4 L85.7,453.3 L87.6,453.2 L89.6,453.0 L91.5,452.8 L93.5,452.6 L95.4,452.3 L97.4,452.0 L99.3,451.6 L101.2,451.2 L103.2,450.8 L105.1,450.4 L107.1,449.9 L109.0,449.4 L111.0,448.8 L112.9,448.2 L114.9,447.6 L116.8,446.9 L118.7,446.2 L120.7,445.4 L122.6,444.7 L124.6,443.8 L126.5,443.0 L128.5,442.1 L130.4,441.2 L132.4,440.2 L134.3,439.2 L136.2,438.2 L138.2,437.1 L140.1,436.0 L142.1,434.9 L144.0,433.7 L146.0,432.5 L147.9,431.2 L149.9,429.9 L151.8,428.6 L153.7,427.3 L155.7,425.9 L157.6,424.4 L159.6,423.0 L161.5,421.5 L163.5,419.9 L165.4,418.4 L167.3,416.7 L169.3,415.1 L171.2,413.4 L173.2,411.7 L175.1,409.9 L177.1,408.1 L179.0,406.3 L181.0,404.4 L182.9,402.5 L184.8,400.6 L186.8,398.6 L188.7,396.6 L190.7,394.6 L192.6,392.5 L194.6,390.4 L196.5,388.2 L198.5,386.0 L200.4,383.8 L202.3,381.5 L204.3,379.2 L206.2,376.9 L208.2,374.5 L210.1,372.1 L212.1,369.7 L214.0,367.2 L216.0,364.7 L217.9,362.1 L219.8,359.5 L221.8,356.9 L223.7,354.2 L225.7,351.5 L227.6,348.8 L229.6,346.0 L231.5,343.2 L233.4,340.4 L235.4,337.5 L237.3,334.6 L239.3,331.6 L241.2,328.6 L243.2,325.6 L245.1,322.6 L247.1,319.5 L249.0,316.3 L250.9,313.1 L252.9,309.9 L254.8,306.7 L256.8,303.4 L258.7,300.1 L260.7,296.7 L262.6,293.4 L264.6,289.9 L266.5,286.5 L268.4,283.0 L270.4,279.4 L272.3,275.9 L274.3,272.3 L276.2,268.6 L278.2,265.0 L280.1,261.3 L282.1,257.5 L282.1,273.8 L280.1,277.2 L278.2,280.5 L276.2,283.9 L274.3,287.2 L272.3,290.5 L270.4,293.8 L268.4,297.0 L266.5,300.2 L264.6,303.3 L262.6,306.4 L260.7,309.5 L258.7,312.6 L256.8,315.6 L254.8,318.6 L252.9,321.6 L250.9,324.5 L249.0,327.4 L247.1,330.3 L245.1,333.2 L243.2,336.0 L241.2,338.8 L239.3,341.5 L237.3,344.3 L235.4,347.0 L233.4,349.6 L231.5,352.3 L229.6,354.9 L227.6,357.5 L225.7,360.0 L223.7,362.5 L221.8,365.0 L219.8,367.5 L217.9,369.9 L216.0,372.3 L214.0,374.6 L212.1,376.9 L210.1,379.2 L208.2,381.5 L206.2,383.7 L204.3,385.9 L202.3,388.1 L200.4,390.2 L198.5,392.3 L196.5,394.4 L194.6,396.4 L192.6,398.4 L190.7,400.4 L188.7,402.3 L186.8,404.2 L184.8,406.1 L182.9,407.9 L181.0,409.7 L179.0,411.5 L177.1,413.2 L175.1,414.9 L173.2,416.6 L171.2,418.2 L169.3,419.8 L167.3,421.4 L165.4,422.9 L163.5,424.4 L161.5,425.9 L159.6,427.3 L157.6,428.7 L155.7,430.1 L153.7,431.4 L151.8,432.7 L149.9,434.0 L147.9,435.2 L146.0,436.4 L144.0,437.6 L142.1,438.7 L140.1,439.8 L138.2,440.9 L136.2,441.9 L134.3,442.9 L132.4,443.8 L130.4,444.7 L128.5,445.6 L126.5,446.5 L124.6,447.3 L122.6,448.1 L120.7,448.8 L118.7,449.5 L116.8,450.2 L114.9,450.8 L112.9,451.4 L111.0,452.0 L109.0,452.6 L107.1,453.1 L105.1,453.5 L103.2,453.9 L101.2,454.3 L99.3,454.7 L97.4,455.0 L95.4,455.3 L93.5,455.6 L91.5,455.8 L89.6,456.0 L87.6,456.1 L85.7,456.2 L83.7,456.3 L81.8,456.3 L79.9,456.3 L77.9,456.3 L76.0,456.2 L74.0,456.1 L72.1,456.0 L70.1,455.8 L68.2,455.6 L66.3,455.3 L64.3,455.0 L62.4,454.7 L60.4,454.4 L58.5,454.0 L56.5,453.5 L54.6,453.1 L52.6,452.6 L50.7,452.0 L48.8,451.4 L46.8,450.8 L44.9,450.2 L42.9,449.5 L41.0,448.8 L39.0,448.0 L37.1,447.2 L35.1,446.4 L33.2,445.5 L31.3,444.6 L29.3,443.7 L27.4,442.7 L25.4,441.7 L23.5,440.6 L21.5,439.6 L19.6,438.4 L17.6,437.3Z" fill="url(#gw0)" filter="url(#b1)"/>
<g fill="#fdf36a" filter="url(#b05)"><rect x="31.49" y="443.38" width="4.56" height="2.20" rx="0.88" fill-opacity="0.50"/><rect x="35.08" y="444.93" width="4.56" height="2.20" rx="0.88" fill-opacity="0.50"/><rect x="38.67" y="446.35" width="4.56" height="2.20" rx="0.88" fill-opacity="0.50"/><rect x="42.26" y="447.64" width="4.56" height="2.20" rx="0.88" fill-opacity="0.50"/><rect x="45.85" y="448.81" width="4.56" height="2.20" rx="0.88" fill-opacity="0.50"/><rect x="49.44" y="449.85" width="4.56" height="2.20" rx="0.88" fill-opacity="0.50"/><rect x="53.03" y="450.77" width="4.56" height="2.20" rx="0.88" fill-opacity="0.50"/><rect x="56.62" y="451.56" width="4.56" height="2.20" rx="0.88" fill-opacity="0.50"/><rect x="60.21" y="452.23" width="4.56" height="2.20" rx="0.88" fill-opacity="0.50"/><rect x="63.80" y="452.77" width="4.56" height="2.20" rx="0.88" fill-opacity="0.50"/><rect x="67.39" y="453.19" width="4.56" height="2.20" rx="0.88" fill-opacity="0.50"/><rect x="70.98" y="453.48" width="4.56" height="2.20" rx="0.88" fill-opacity="0.50"/><rect x="74.57" y="453.65" width="4.56" height="2.20" rx="0.88" fill-opacity="0.50"/><rect x="78.15" y="453.70" width="4.56" height="2.20" rx="0.88" fill-opacity="0.50"/><rect x="81.74" y="453.62" width="4.56" height="2.20" rx="0.88" fill-opacity="0.50"/><rect x="85.33" y="453.43" width="4.56" height="2.20" rx="0.88" fill-opacity="0.50"/><rect x="88.92" y="453.11" width="4.56" height="2.20" rx="0.88" fill-opacity="0.50"/><rect x="92.51" y="452.66" width="4.56" height="2.20" rx="0.88" fill-opacity="0.50"/><rect x="96.10" y="452.10" width="4.56" height="2.20" rx="0.88" fill-opacity="0.50"/><rect x="99.69" y="451.41" width="4.56" height="2.20" rx="0.88" fill-opacity="0.50"/><rect x="103.28" y="450.61" width="4.56" height="2.20" rx="0.88" fill-opacity="0.50"/><rect x="106.87" y="449.68" width="4.56" height="2.20" rx="0.88" fill-opacity="0.50"/><rect x="110.46" y="448.63" width="4.56" height="2.20" rx="0.88" fill-opacity="0.50"/><rect x="114.05" y="447.47" width="4.56" height="2.20" rx="0.88" fill-opacity="0.50"/><rect x="117.56" y="446.14" width="4.71" height="2.28" rx="0.91" fill-opacity="0.52"/><rect x="121.06" y="444.67" width="4.90" height="2.39" rx="0.96" fill-opacity="0.55"/><rect x="124.55" y="443.09" width="5.09" height="2.51" rx="1.00" fill-opacity="0.58"/><rect x="128.04" y="441.39" width="5.29" height="2.62" rx="1.05" fill-opacity="0.62"/><rect x="131.53" y="439.57" width="5.48" height="2.73" rx="1.09" fill-opacity="0.65"/><rect x="135.03" y="437.63" width="5.67" height="2.84" rx="1.14" fill-opacity="0.68"/><rect x="138.52" y="435.57" width="5.87" height="2.95" rx="1.18" fill-opacity="0.71"/><rect x="142.01" y="433.40" width="6.06" height="3.06" rx="1.22" fill-opacity="0.74"/><rect x="145.50" y="431.11" width="6.25" height="3.17" rx="1.27" fill-opacity="0.77"/><rect x="149.00" y="428.70" width="6.45" height="3.28" rx="1.31" fill-opacity="0.80"/><rect x="152.49" y="426.17" width="6.64" height="3.39" rx="1.36" fill-opacity="0.83"/><rect x="155.98" y="423.53" width="6.83" height="3.50" rx="1.40" fill-opacity="0.86"/><rect x="159.47" y="420.77" width="7.03" height="3.61" rx="1.45" fill-opacity="0.89"/><rect x="162.97" y="417.89" width="7.22" height="3.72" rx="1.49" fill-opacity="0.92"/><rect x="166.46" y="414.90" width="7.41" height="3.83" rx="1.53" fill-opacity="0.95"/><rect x="169.95" y="411.80" width="7.61" height="3.95" rx="1.58" fill-opacity="0.98"/><rect x="173.49" y="408.61" width="7.70" height="4.00" rx="1.60" fill-opacity="1.00"/><rect x="177.08" y="405.33" width="7.70" height="4.00" rx="1.60" fill-opacity="1.00"/><rect x="180.67" y="401.94" width="7.70" height="4.00" rx="1.60" fill-opacity="1.00"/><rect x="184.26" y="398.43" width="7.70" height="4.00" rx="1.60" fill-opacity="1.00"/><rect x="187.85" y="394.81" width="7.70" height="4.00" rx="1.60" fill-opacity="1.00"/><rect x="191.44" y="391.09" width="7.70" height="4.00" rx="1.60" fill-opacity="1.00"/><rect x="195.03" y="387.24" width="7.70" height="4.00" rx="1.60" fill-opacity="1.00"/><rect x="198.62" y="383.29" width="7.70" height="4.00" rx="1.60" fill-opacity="1.00"/><rect x="202.21" y="379.23" width="7.70" height="4.00" rx="1.60" fill-opacity="1.00"/><rect x="205.80" y="375.06" width="7.70" height="4.00" rx="1.60" fill-opacity="1.00"/><rect x="209.39" y="370.78" width="7.70" height="4.00" rx="1.60" fill-opacity="1.00"/><rect x="212.98" y="366.39" width="7.70" height="4.00" rx="1.60" fill-opacity="1.00"/><rect x="216.56" y="361.89" width="7.70" height="4.00" rx="1.60" fill-opacity="1.00"/><rect x="220.15" y="357.28" width="7.70" height="4.00" rx="1.60" fill-opacity="1.00"/><rect x="223.74" y="352.57" width="7.70" height="4.00" rx="1.60" fill-opacity="1.00"/><rect x="227.33" y="347.75" width="7.70" height="4.00" rx="1.60" fill-opacity="1.00"/><rect x="230.92" y="342.82" width="7.70" height="4.00" rx="1.60" fill-opacity="1.00"/><rect x="234.51" y="337.79" width="7.70" height="4.00" rx="1.60" fill-opacity="1.00"/><rect x="238.10" y="332.65" width="7.70" height="4.00" rx="1.60" fill-opacity="1.00"/><rect x="241.69" y="327.42" width="7.70" height="4.00" rx="1.60" fill-opacity="1.00"/><rect x="245.28" y="322.07" width="7.70" height="4.00" rx="1.60" fill-opacity="1.00"/><rect x="248.87" y="316.63" width="7.70" height="4.00" rx="1.60" fill-opacity="1.00"/><rect x="252.46" y="311.08" width="7.70" height="4.00" rx="1.60" fill-opacity="1.00"/><rect x="256.05" y="305.43" width="7.70" height="4.00" rx="1.60" fill-opacity="1.00"/><rect x="259.64" y="299.69" width="7.70" height="4.00" rx="1.60" fill-opacity="1.00"/><rect x="263.22" y="293.84" width="7.70" height="4.00" rx="1.60" fill-opacity="1.00"/></g>
<g fill="#f7a531" filter="url(#b03)"><rect x="117.59" y="446.79" width="4.66" height="0.97" rx="0.39" fill-opacity="0.52"/><rect x="121.11" y="445.34" width="4.78" height="1.06" rx="0.42" fill-opacity="0.55"/><rect x="124.64" y="443.77" width="4.91" height="1.15" rx="0.46" fill-opacity="0.58"/><rect x="128.17" y="442.07" width="5.03" height="1.25" rx="0.50" fill-opacity="0.62"/><rect x="131.69" y="440.26" width="5.16" height="1.34" rx="0.54" fill-opacity="0.65"/><rect x="135.22" y="438.33" width="5.28" height="1.43" rx="0.57" fill-opacity="0.68"/><rect x="138.75" y="436.29" width="5.41" height="1.52" rx="0.61" fill-opacity="0.71"/><rect x="142.27" y="434.12" width="5.53" height="1.62" rx="0.65" fill-opacity="0.74"/><rect x="145.80" y="431.84" width="5.66" height="1.71" rx="0.68" fill-opacity="0.77"/><rect x="149.33" y="429.44" width="5.79" height="1.80" rx="0.72" fill-opacity="0.80"/><rect x="152.85" y="426.92" width="5.91" height="1.89" rx="0.76" fill-opacity="0.83"/><rect x="156.38" y="424.28" width="6.04" height="1.99" rx="0.79" fill-opacity="0.86"/><rect x="159.91" y="421.53" width="6.16" height="2.08" rx="0.83" fill-opacity="0.89"/><rect x="163.43" y="418.67" width="6.29" height="2.17" rx="0.87" fill-opacity="0.92"/><rect x="166.96" y="415.69" width="6.41" height="2.26" rx="0.90" fill-opacity="0.95"/><rect x="170.49" y="412.59" width="6.54" height="2.35" rx="0.94" fill-opacity="0.98"/><rect x="174.04" y="409.41" width="6.60" height="2.40" rx="0.96" fill-opacity="1.00"/><rect x="177.63" y="406.13" width="6.60" height="2.40" rx="0.96" fill-opacity="1.00"/><rect x="181.22" y="402.74" width="6.60" height="2.40" rx="0.96" fill-opacity="1.00"/><rect x="184.81" y="399.23" width="6.60" height="2.40" rx="0.96" fill-opacity="1.00"/><rect x="188.40" y="395.61" width="6.60" height="2.40" rx="0.96" fill-opacity="1.00"/><rect x="191.99" y="391.89" width="6.60" height="2.40" rx="0.96" fill-opacity="1.00"/><rect x="195.58" y="388.04" width="6.60" height="2.40" rx="0.96" fill-opacity="1.00"/><rect x="199.17" y="384.09" width="6.60" height="2.40" rx="0.96" fill-opacity="1.00"/><rect x="202.76" y="380.03" width="6.60" height="2.40" rx="0.96" fill-opacity="1.00"/><rect x="206.35" y="375.86" width="6.60" height="2.40" rx="0.96" fill-opacity="1.00"/><rect x="209.94" y="371.58" width="6.60" height="2.40" rx="0.96" fill-opacity="1.00"/><rect x="213.53" y="367.19" width="6.60" height="2.40" rx="0.96" fill-opacity="1.00"/><rect x="217.11" y="362.69" width="6.60" height="2.40" rx="0.96" fill-opacity="1.00"/><rect x="220.70" y="358.08" width="6.60" height="2.40" rx="0.96" fill-opacity="1.00"/><rect x="224.29" y="353.37" width="6.60" height="2.40" rx="0.96" fill-opacity="1.00"/><rect x="227.88" y="348.55" width="6.60" height="2.40" rx="0.96" fill-opacity="1.00"/><rect x="231.47" y="343.62" width="6.60" height="2.40" rx="0.96" fill-opacity="1.00"/><rect x="235.06" y="338.59" width="6.60" height="2.40" rx="0.96" fill-opacity="1.00"/><rect x="238.65" y="333.45" width="6.60" height="2.40" rx="0.96" fill-opacity="1.00"/><rect x="242.24" y="328.22" width="6.60" height="2.40" rx="0.96" fill-opacity="1.00"/><rect x="245.83" y="322.87" width="6.60" height="2.40" rx="0.96" fill-opacity="1.00"/><rect x="249.42" y="317.43" width="6.60" height="2.40" rx="0.96" fill-opacity="1.00"/><rect x="253.01" y="311.88" width="6.60" height="2.40" rx="0.96" fill-opacity="1.00"/><rect x="256.60" y="306.23" width="6.60" height="2.40" rx="0.96" fill-opacity="1.00"/><rect x="260.19" y="300.49" width="6.60" height="2.40" rx="0.96" fill-opacity="1.00"/><rect x="263.77" y="294.64" width="6.60" height="2.40" rx="0.96" fill-opacity="1.00"/></g>
<g fill="#dc2f22" filter="url(#b03)"><rect x="150.19" y="429.92" width="4.06" height="0.84" rx="0.33" fill-opacity="0.47"/><rect x="153.73" y="427.42" width="4.16" height="0.89" rx="0.36" fill-opacity="0.51"/><rect x="157.26" y="424.80" width="4.27" height="0.95" rx="0.38" fill-opacity="0.54"/><rect x="160.80" y="422.07" width="4.38" height="1.00" rx="0.40" fill-opacity="0.57"/><rect x="164.34" y="419.22" width="4.48" height="1.06" rx="0.42" fill-opacity="0.61"/><rect x="167.87" y="416.26" width="4.59" height="1.11" rx="0.45" fill-opacity="0.64"/><rect x="171.41" y="413.19" width="4.69" height="1.17" rx="0.47" fill-opacity="0.68"/><rect x="174.95" y="409.99" width="4.80" height="1.22" rx="0.49" fill-opacity="0.71"/><rect x="178.48" y="406.69" width="4.90" height="1.28" rx="0.51" fill-opacity="0.74"/><rect x="182.02" y="403.27" width="5.01" height="1.34" rx="0.53" fill-opacity="0.78"/><rect x="185.56" y="399.74" width="5.11" height="1.39" rx="0.56" fill-opacity="0.81"/><rect x="189.09" y="396.09" width="5.22" height="1.45" rx="0.58" fill-opacity="0.84"/><rect x="192.63" y="392.33" width="5.32" height="1.50" rx="0.60" fill-opacity="0.88"/><rect x="196.17" y="388.47" width="5.43" height="1.56" rx="0.62" fill-opacity="0.91"/><rect x="199.70" y="384.49" width="5.53" height="1.61" rx="0.64" fill-opacity="0.95"/><rect x="203.24" y="380.40" width="5.64" height="1.67" rx="0.67" fill-opacity="0.98"/><rect x="206.80" y="376.21" width="5.70" height="1.70" rx="0.68" fill-opacity="1.00"/><rect x="210.39" y="371.93" width="5.70" height="1.70" rx="0.68" fill-opacity="1.00"/><rect x="213.98" y="367.54" width="5.70" height="1.70" rx="0.68" fill-opacity="1.00"/><rect x="217.56" y="363.04" width="5.70" height="1.70" rx="0.68" fill-opacity="1.00"/><rect x="221.15" y="358.43" width="5.70" height="1.70" rx="0.68" fill-opacity="1.00"/><rect x="224.74" y="353.72" width="5.70" height="1.70" rx="0.68" fill-opacity="1.00"/><rect x="228.33" y="348.90" width="5.70" height="1.70" rx="0.68" fill-opacity="1.00"/><rect x="231.92" y="343.97" width="5.70" height="1.70" rx="0.68" fill-opacity="1.00"/><rect x="235.51" y="338.94" width="5.70" height="1.70" rx="0.68" fill-opacity="1.00"/><rect x="239.10" y="333.80" width="5.70" height="1.70" rx="0.68" fill-opacity="1.00"/><rect x="242.69" y="328.57" width="5.70" height="1.70" rx="0.68" fill-opacity="1.00"/><rect x="246.28" y="323.22" width="5.70" height="1.70" rx="0.68" fill-opacity="1.00"/><rect x="249.87" y="317.78" width="5.70" height="1.70" rx="0.68" fill-opacity="1.00"/><rect x="253.46" y="312.23" width="5.70" height="1.70" rx="0.68" fill-opacity="1.00"/><rect x="257.05" y="306.58" width="5.70" height="1.70" rx="0.68" fill-opacity="1.00"/><rect x="260.64" y="300.84" width="5.70" height="1.70" rx="0.68" fill-opacity="1.00"/><rect x="264.22" y="294.99" width="5.70" height="1.70" rx="0.68" fill-opacity="1.00"/></g>
<path d="M33.20,444.22 L34.37,444.74 L35.53,445.25 L36.70,445.75 L37.87,446.23 L39.03,446.70 L40.20,447.16 L41.37,447.60 L42.53,448.03 L43.70,448.45 L44.87,448.85 L46.03,449.24 L47.20,449.62 L48.36,449.98 L49.53,450.33 L50.70,450.67 L51.86,450.99 L53.03,451.30 L54.20,451.60 L55.36,451.88 L56.53,452.15 L57.70,452.41 L58.86,452.65 L60.03,452.88 L61.20,453.10 L62.36,453.30 L63.53,453.49 L64.70,453.67 L65.86,453.84 L67.03,453.99 L68.20,454.13 L69.36,454.25 L70.53,454.36 L71.69,454.46 L72.86,454.55 L74.03,454.62 L75.19,454.68 L76.36,454.73 L77.53,454.76 L78.69,454.78 L79.86,454.79 L81.03,454.78 L82.19,454.76 L83.36,454.73 L84.53,454.68 L85.69,454.63 L86.86,454.55 L88.03,454.47 L89.19,454.37 L90.36,454.26 L91.53,454.14 L92.69,454.00 L93.86,453.85 L95.02,453.69 L96.19,453.51 L97.36,453.32 L98.52,453.12 L99.69,452.91 L100.86,452.68 L102.02,452.44 L103.19,452.18 L104.36,451.92 L105.52,451.64 L106.69,451.34 L107.86,451.04 L109.02,450.72 L110.19,450.39 L111.36,450.04 L112.52,449.68 L113.69,449.31 L114.86,448.93 L116.02,448.53 L117.19,448.12 L118.35,447.70 L119.52,447.26 L120.69,446.81 L121.85,446.35 L123.02,445.88 L124.19,445.39 L125.35,444.89 L126.52,444.37 L127.69,443.85 L128.85,443.31 L130.02,442.75 L131.19,442.19 L132.35,441.61 L133.52,441.02 L134.69,440.41 L135.85,439.79 L137.02,439.16 L138.19,438.52 L139.35,437.86 L140.52,437.19 L141.68,436.51 L142.85,435.81 L144.02,435.10 L145.18,434.38 L146.35,433.64 L147.52,432.89 L148.68,432.13 L149.85,431.36 L151.02,430.57 L152.18,429.77 L153.35,428.96 L154.52,428.13 L155.68,427.29 L156.85,426.44 L158.02,425.57 L159.18,424.70 L160.35,423.80 L161.51,422.90 L162.68,421.98 L163.85,421.05 L165.01,420.11 L166.18,419.15 L167.35,418.18 L168.51,417.20 L169.68,416.20 L170.85,415.19 L172.01,414.17 L173.18,413.14 L174.35,412.09 L175.51,411.03 L176.68,409.95 L177.85,408.87 L179.01,407.77 L180.18,406.65 L181.35,405.53 L182.51,404.39 L183.68,403.24 L184.85,402.07 L186.01,400.89 L187.18,399.70 L188.34,398.50 L189.51,397.28 L190.68,396.05 L191.84,394.81 L193.01,393.55 L194.18,392.28 L195.34,391.00 L196.51,389.70 L197.68,388.39 L198.84,387.07 L200.01,385.74 L201.18,384.39 L202.34,383.03 L203.51,381.65 L204.68,380.27 L205.84,378.87 L207.01,377.45 L208.18,376.03 L209.34,374.59 L210.51,373.14 L211.67,371.67 L212.84,370.19 L214.01,368.70 L215.17,367.20 L216.34,365.68 L217.51,364.15 L218.67,362.60 L219.84,361.05 L221.01,359.48 L222.17,357.90 L223.34,356.30 L224.51,354.69 L225.67,353.07 L226.84,351.43 L228.01,349.79 L229.17,348.12 L230.34,346.45 L231.50,344.76 L232.67,343.06 L233.84,341.35 L235.00,339.62 L236.17,337.88 L237.34,336.13 L238.50,334.37 L239.67,332.59 L240.84,330.80 L242.00,328.99 L243.17,327.17 L244.34,325.34 L245.50,323.50 L246.67,321.64 L247.84,319.77 L249.00,317.89 L250.17,315.99 L251.34,314.08 L252.50,312.16 L253.67,310.22 L254.84,308.28 L256.00,306.32 L257.17,304.34 L258.33,302.35 L259.50,300.35 L260.67,298.34 L261.83,296.31 L263.00,294.27 L264.17,292.22 L265.33,290.15 L266.50,288.07" stroke="#fffbd8" stroke-opacity="0.85" stroke-width="3.0" fill="none" filter="url(#b03)"/>
<path d="M33.20,444.22 L34.37,444.74 L35.53,445.25 L36.70,445.75 L37.87,446.23 L39.03,446.70 L40.20,447.16 L41.37,447.60 L42.53,448.03 L43.70,448.45 L44.87,448.85 L46.03,449.24 L47.20,449.62 L48.36,449.98 L49.53,450.33 L50.70,450.67 L51.86,450.99 L53.03,451.30 L54.20,451.60 L55.36,451.88 L56.53,452.15 L57.70,452.41 L58.86,452.65 L60.03,452.88 L61.20,453.10 L62.36,453.30 L63.53,453.49 L64.70,453.67 L65.86,453.84 L67.03,453.99 L68.20,454.13 L69.36,454.25 L70.53,454.36 L71.69,454.46 L72.86,454.55 L74.03,454.62 L75.19,454.68 L76.36,454.73 L77.53,454.76 L78.69,454.78 L79.86,454.79 L81.03,454.78 L82.19,454.76 L83.36,454.73 L84.53,454.68 L85.69,454.63 L86.86,454.55 L88.03,454.47 L89.19,454.37 L90.36,454.26 L91.53,454.14 L92.69,454.00 L93.86,453.85 L95.02,453.69 L96.19,453.51 L97.36,453.32 L98.52,453.12 L99.69,452.91 L100.86,452.68 L102.02,452.44 L103.19,452.18 L104.36,451.92 L105.52,451.64 L106.69,451.34 L107.86,451.04 L109.02,450.72 L110.19,450.39 L111.36,450.04 L112.52,449.68 L113.69,449.31 L114.86,448.93 L116.02,448.53 L117.19,448.12 L118.35,447.70 L119.52,447.26 L120.69,446.81 L121.85,446.35 L123.02,445.88 L124.19,445.39 L125.35,444.89 L126.52,444.37 L127.69,443.85 L128.85,443.31 L130.02,442.75 L131.19,442.19 L132.35,441.61 L133.52,441.02 L134.69,440.41 L135.85,439.79 L137.02,439.16 L138.19,438.52 L139.35,437.86 L140.52,437.19 L141.68,436.51 L142.85,435.81 L144.02,435.10 L145.18,434.38 L146.35,433.64 L147.52,432.89 L148.68,432.13 L149.85,431.36 L151.02,430.57 L152.18,429.77 L153.35,428.96 L154.52,428.13 L155.68,427.29 L156.85,426.44 L158.02,425.57 L159.18,424.70 L160.35,423.80 L161.51,422.90 L162.68,421.98 L163.85,421.05 L165.01,420.11 L166.18,419.15 L167.35,418.18 L168.51,417.20 L169.68,416.20 L170.85,415.19 L172.01,414.17 L173.18,413.14 L174.35,412.09 L175.51,411.03 L176.68,409.95 L177.85,408.87 L179.01,407.77 L180.18,406.65 L181.35,405.53 L182.51,404.39 L183.68,403.24 L184.85,402.07 L186.01,400.89 L187.18,399.70 L188.34,398.50 L189.51,397.28 L190.68,396.05 L191.84,394.81 L193.01,393.55 L194.18,392.28 L195.34,391.00 L196.51,389.70 L197.68,388.39 L198.84,387.07 L200.01,385.74 L201.18,384.39 L202.34,383.03 L203.51,381.65 L204.68,380.27 L205.84,378.87 L207.01,377.45 L208.18,376.03 L209.34,374.59 L210.51,373.14 L211.67,371.67 L212.84,370.19 L214.01,368.70 L215.17,367.20 L216.34,365.68 L217.51,364.15 L218.67,362.60 L219.84,361.05 L221.01,359.48 L222.17,357.90 L223.34,356.30 L224.51,354.69 L225.67,353.07 L226.84,351.43 L228.01,349.79 L229.17,348.12 L230.34,346.45 L231.50,344.76 L232.67,343.06 L233.84,341.35 L235.00,339.62 L236.17,337.88 L237.34,336.13 L238.50,334.37 L239.67,332.59 L240.84,330.80 L242.00,328.99 L243.17,327.17 L244.34,325.34 L245.50,323.50 L246.67,321.64 L247.84,319.77 L249.00,317.89 L250.17,315.99 L251.34,314.08 L252.50,312.16 L253.67,310.22 L254.84,308.28 L256.00,306.32 L257.17,304.34 L258.33,302.35 L259.50,300.35 L260.67,298.34 L261.83,296.31 L263.00,294.27 L264.17,292.22 L265.33,290.15 L266.50,288.07" stroke="#000" stroke-width="1.15" fill="none"/>
</g>
<path d="M110.97,479.80 v-4.6 M110.97,247.40 v4.6 M188.73,479.80 v-4.6 M188.73,247.40 v4.6 M33.20,421.70 h4.6 M266.50,421.70 h-4.6 M33.20,363.60 h4.6 M266.50,363.60 h-4.6 M33.20,305.50 h4.6 M266.50,305.50 h-4.6" stroke="#15153a" stroke-width="0.7" fill="none"/>
<rect x="33.20" y="247.40" width="233.30" height="232.40" fill="none" stroke="#4a4a4a" stroke-width="0.8"/>
<text x="33.20" y="493.60" font-size="13.00" text-anchor="middle">0</text>
<text x="110.97" y="493.60" font-size="13.00" text-anchor="middle">1</text>
<text x="188.73" y="493.60" font-size="13.00" text-anchor="middle">2</text>
<text x="266.50" y="493.60" font-size="13.00" text-anchor="middle">3</text>
<text x="28.20" y="483.90" font-size="13.00" text-anchor="end">0</text>
<text x="28.20" y="425.80" font-size="13.00" text-anchor="end">2</text>
<text x="28.20" y="367.70" font-size="13.00" text-anchor="end">4</text>
<text x="28.20" y="309.60" font-size="13.00" text-anchor="end">6</text>
<text x="28.20" y="251.50" font-size="13.00" text-anchor="end">8</text>
<text x="74.70" y="506.60" font-size="13.00" textLength="140.45" lengthAdjust="spacingAndGlyphs">Reduced wave number <tspan font-style="italic">q</tspan></text>
<text transform="translate(18.20,366.10) rotate(-90)" font-size="13.00" text-anchor="middle" textLength="121.5" lengthAdjust="spacingAndGlyphs">Reduced frequency Ω</text>
<rect x="43.10" y="258.50" width="153.00" height="58.20" fill="#f2f2ff" stroke="#333" stroke-width="0.6"/>
<path d="M47.40,269.1 h20.2" stroke="#000" stroke-width="1.35"/>
<text x="79.30" y="273.10" font-size="13.52" font-style="italic" text-anchor="middle">ϰ</text><path d="M87.70,268.12 H97.00 M87.70,270.39 H97.00" stroke="#1c1c1c" stroke-width="0.58" fill="none"/><text x="101.80" y="273.10" font-size="13.00" textLength="19.30" lengthAdjust="spacingAndGlyphs">0.5,</text><text x="130.20" y="273.10" font-size="13.52" font-style="italic" text-anchor="middle">σ</text><g transform="translate(134.80,273.10) scale(1.083)" fill="none" stroke="#1c1c1c" stroke-linecap="round"><path d="M2.0,-8.0 C0.9,-6.6 0.5,-5.4 0.5,-4.2 C0.5,-2.0 1.5,-0.3 3.2,-0.25 C4.5,-0.2 5.6,-0.8 6.3,-1.8" stroke-width="1.2"/><path d="M2.0,-8.0 C2.9,-8.5 4.2,-8.6 5.2,-8.0 C6.3,-7.3 6.6,-6.2 6.0,-5.3 C5.3,-4.4 3.8,-4.2 2.9,-4.8 C2.4,-5.2 2.3,-5.6 2.4,-6.0" stroke-width="0.65"/></g><path d="M147.20,268.12 H156.10 M147.20,270.39 H156.10" stroke="#1c1c1c" stroke-width="0.58" fill="none"/><text x="160.20" y="273.10" font-size="13.00" textLength="16.20" lengthAdjust="spacingAndGlyphs">0.5</text>
<rect x="58.40" y="294.5" width="122.70" height="12.3" fill="url(#cb)"/>
<text x="59.30" y="293.20" font-size="13.00" text-anchor="middle">0</text>
<text x="164.50" y="293.20" font-size="13.00" textLength="24.00" lengthAdjust="spacingAndGlyphs">high</text>
<text x="56.00" y="528.50" font-size="14.00" textLength="191.10" lengthAdjust="spacingAndGlyphs">(a) Easy–tangential anisotropy</text>
<linearGradient id="gg1" gradientUnits="userSpaceOnUse" x1="309.2" x2="542.6" y1="0" y2="0"><stop offset="0" stop-color="#8ea2f6" stop-opacity="0.18"/><stop offset="0.35" stop-color="#93a6f6" stop-opacity="0.38"/><stop offset="0.7" stop-color="#a3b3f8" stop-opacity="0.62"/><stop offset="1" stop-color="#b4c1fa" stop-opacity="0.80"/></linearGradient>
<linearGradient id="gh1" gradientUnits="userSpaceOnUse" x1="309.2" x2="542.6" y1="0" y2="0"><stop offset="0" stop-color="#dfe5fd" stop-opacity="0.25"/><stop offset="0.4" stop-color="#e4e9fd" stop-opacity="0.5"/><stop offset="1" stop-color="#eef1fe" stop-opacity="0.9"/></linearGradient>
<linearGradient id="gw1" gradientUnits="userSpaceOnUse" x1="309.2" x2="542.6" y1="0" y2="0"><stop offset="0" stop-color="#fff" stop-opacity="0.6"/><stop offset="0.4" stop-color="#fff" stop-opacity="0.85"/><stop offset="1" stop-color="#fff" stop-opacity="1"/></linearGradient>
<g clip-path="url(#cbt1)">
<rect x="309.25" y="247.40" width="233.35" height="232.40" fill="#3452ee"/>
<path d="M293.7,417.2 L295.6,417.3 L297.6,417.4 L299.5,417.5 L301.5,417.6 L303.4,417.7 L305.4,417.7 L307.3,417.8 L309.2,417.8 L311.2,417.7 L313.1,417.6 L315.1,417.5 L317.0,417.3 L319.0,417.2 L320.9,417.0 L322.9,416.7 L324.8,416.5 L326.8,416.2 L328.7,415.9 L330.6,415.5 L332.6,415.2 L334.5,414.8 L336.5,414.4 L338.4,414.0 L340.4,413.5 L342.3,413.1 L344.3,412.6 L346.2,412.1 L348.1,411.6 L350.1,411.0 L352.0,410.4 L354.0,409.8 L355.9,409.2 L357.9,408.6 L359.8,407.9 L361.8,407.2 L363.7,406.5 L365.6,405.8 L367.6,405.1 L369.5,404.3 L371.5,403.5 L373.4,402.7 L375.4,401.9 L377.3,401.1 L379.3,400.2 L381.2,399.3 L383.1,398.4 L385.1,397.5 L387.0,396.5 L389.0,395.6 L390.9,394.6 L392.9,393.6 L394.8,392.6 L396.8,391.5 L398.7,390.4 L400.6,389.4 L402.6,388.3 L404.5,387.1 L406.5,386.0 L408.4,384.8 L410.4,383.7 L412.3,382.5 L414.3,381.2 L416.2,380.0 L418.1,378.7 L420.1,377.5 L422.0,376.2 L424.0,374.8 L425.9,373.5 L427.9,372.2 L429.8,370.8 L431.8,369.4 L433.7,368.0 L435.6,366.6 L437.6,365.1 L439.5,363.6 L441.5,362.1 L443.4,360.6 L445.4,359.1 L447.3,357.6 L449.3,356.0 L451.2,354.4 L453.1,352.8 L455.1,351.2 L457.0,349.6 L459.0,347.9 L460.9,346.2 L462.9,344.6 L464.8,342.8 L466.8,341.1 L468.7,339.4 L470.7,337.6 L472.6,335.8 L474.5,334.0 L476.5,332.2 L478.4,330.3 L480.4,328.5 L482.3,326.6 L484.3,324.7 L486.2,322.8 L488.2,320.9 L490.1,318.9 L492.0,316.9 L494.0,315.0 L495.9,313.0 L497.9,310.9 L499.8,308.9 L501.8,306.8 L503.7,304.8 L505.7,302.7 L507.6,300.6 L509.5,298.4 L511.5,296.3 L513.4,294.1 L515.4,291.9 L517.3,289.7 L519.3,287.5 L521.2,285.3 L523.2,283.0 L525.1,280.7 L527.0,278.4 L529.0,276.1 L530.9,273.8 L532.9,271.5 L534.8,269.1 L536.8,266.7 L538.7,264.3 L540.7,261.9 L542.6,259.5 L544.5,257.4 L546.5,255.3 L548.4,253.2 L550.4,251.1 L552.3,248.9 L554.3,246.8 L556.2,244.6 L558.2,242.4 L558.2,322.4 L556.2,324.6 L554.3,326.8 L552.3,328.9 L550.4,331.1 L548.4,333.2 L546.5,335.3 L544.5,337.4 L542.6,339.5 L540.7,341.2 L538.7,342.8 L536.8,344.5 L534.8,346.1 L532.9,347.8 L530.9,349.4 L529.0,351.0 L527.0,352.5 L525.1,354.1 L523.2,355.7 L521.2,357.2 L519.3,358.7 L517.3,360.2 L515.4,361.7 L513.4,363.2 L511.5,364.7 L509.5,366.1 L507.6,367.5 L505.7,368.9 L503.7,370.3 L501.8,371.7 L499.8,373.1 L497.9,374.4 L495.9,375.8 L494.0,377.1 L492.0,378.4 L490.1,379.7 L488.2,381.0 L486.2,382.2 L484.3,383.5 L482.3,384.7 L480.4,385.9 L478.4,387.1 L476.5,388.3 L474.5,389.5 L472.6,390.7 L470.7,391.8 L468.7,392.9 L466.8,394.0 L464.8,395.1 L462.9,396.2 L460.9,397.3 L459.0,398.3 L457.0,399.3 L455.1,400.4 L453.1,401.4 L451.2,402.3 L449.3,403.3 L447.3,404.3 L445.4,405.2 L443.4,406.1 L441.5,407.0 L439.5,407.9 L437.6,408.8 L435.6,409.7 L433.7,410.5 L431.8,411.4 L429.8,412.2 L427.9,413.0 L425.9,413.8 L424.0,414.5 L422.0,415.3 L420.1,416.0 L418.1,416.8 L416.2,417.5 L414.3,418.2 L412.3,418.8 L410.4,419.5 L408.4,420.2 L406.5,420.8 L404.5,421.4 L402.6,422.0 L400.6,422.6 L398.7,423.2 L396.8,423.7 L394.8,424.3 L392.9,424.8 L390.9,425.3 L389.0,425.8 L387.0,426.3 L385.1,426.7 L383.1,427.2 L381.2,427.6 L379.3,428.1 L377.3,428.5 L375.4,428.8 L373.4,429.2 L371.5,429.6 L369.5,429.9 L367.6,430.3 L365.6,430.6 L363.7,430.9 L361.8,431.2 L359.8,431.4 L357.9,431.7 L355.9,431.9 L354.0,432.2 L352.0,432.4 L350.1,432.6 L348.1,432.8 L346.2,432.9 L344.3,433.1 L342.3,433.2 L340.4,433.4 L338.4,433.5 L336.5,433.6 L334.5,433.7 L332.6,433.7 L330.6,433.8 L328.7,433.8 L326.8,433.9 L324.8,433.9 L322.9,433.9 L320.9,433.9 L319.0,433.9 L317.0,433.9 L315.1,433.9 L313.1,433.8 L311.2,433.8 L309.2,433.8 L307.3,433.8 L305.4,433.7 L303.4,433.7 L301.5,433.6 L299.5,433.5 L297.6,433.4 L295.6,433.3 L293.7,433.2Z" fill="url(#gg1)" fill-opacity="0.25" filter="url(#b10)"/>
<path d="M293.7,421.2 L295.6,421.3 L297.6,421.4 L299.5,421.5 L301.5,421.6 L303.4,421.7 L305.4,421.7 L307.3,421.8 L309.2,421.8 L311.2,421.7 L313.1,421.7 L315.1,421.6 L317.0,421.5 L319.0,421.4 L320.9,421.2 L322.9,421.1 L324.8,420.9 L326.8,420.7 L328.7,420.4 L330.6,420.2 L332.6,419.9 L334.5,419.6 L336.5,419.3 L338.4,419.0 L340.4,418.6 L342.3,418.2 L344.3,417.9 L346.2,417.4 L348.1,417.0 L350.1,416.6 L352.0,416.1 L354.0,415.6 L355.9,415.1 L357.9,414.6 L359.8,414.0 L361.8,413.5 L363.7,412.9 L365.6,412.3 L367.6,411.7 L369.5,411.0 L371.5,410.4 L373.4,409.7 L375.4,409.0 L377.3,408.3 L379.3,407.5 L381.2,406.8 L383.1,406.0 L385.1,405.2 L387.0,404.4 L389.0,403.6 L390.9,402.7 L392.9,401.9 L394.8,401.0 L396.8,400.1 L398.7,399.2 L400.6,398.2 L402.6,397.3 L404.5,396.3 L406.5,395.3 L408.4,394.3 L410.4,393.2 L412.3,392.2 L414.3,391.1 L416.2,390.0 L418.1,388.9 L420.1,387.8 L422.0,386.7 L424.0,385.5 L425.9,384.3 L427.9,383.1 L429.8,381.9 L431.8,380.7 L433.7,379.4 L435.6,378.2 L437.6,376.9 L439.5,375.6 L441.5,374.3 L443.4,372.9 L445.4,371.6 L447.3,370.2 L449.3,368.8 L451.2,367.4 L453.1,366.0 L455.1,364.5 L457.0,363.1 L459.0,361.6 L460.9,360.1 L462.9,358.6 L464.8,357.0 L466.8,355.5 L468.7,353.9 L470.7,352.3 L472.6,350.7 L474.5,349.1 L476.5,347.5 L478.4,345.8 L480.4,344.1 L482.3,342.5 L484.3,340.7 L486.2,339.0 L488.2,337.3 L490.1,335.5 L492.0,333.7 L494.0,331.9 L495.9,330.1 L497.9,328.3 L499.8,326.5 L501.8,324.6 L503.7,322.7 L505.7,320.8 L507.6,318.9 L509.5,317.0 L511.5,315.0 L513.4,313.0 L515.4,311.1 L517.3,309.0 L519.3,307.0 L521.2,305.0 L523.2,302.9 L525.1,300.9 L527.0,298.8 L529.0,296.7 L530.9,294.6 L532.9,292.4 L534.8,290.3 L536.8,288.1 L538.7,285.9 L540.7,283.7 L542.6,281.5 L544.5,279.4 L546.5,277.3 L548.4,275.2 L550.4,273.1 L552.3,270.9 L554.3,268.8 L556.2,266.6 L558.2,264.4 L558.2,300.4 L556.2,302.6 L554.3,304.8 L552.3,306.9 L550.4,309.1 L548.4,311.2 L546.5,313.3 L544.5,315.4 L542.6,317.5 L540.7,319.4 L538.7,321.3 L536.8,323.1 L534.8,325.0 L532.9,326.8 L530.9,328.6 L529.0,330.4 L527.0,332.2 L525.1,334.0 L523.2,335.7 L521.2,337.5 L519.3,339.2 L517.3,340.9 L515.4,342.6 L513.4,344.3 L511.5,345.9 L509.5,347.6 L507.6,349.2 L505.7,350.8 L503.7,352.4 L501.8,354.0 L499.8,355.5 L497.9,357.1 L495.9,358.6 L494.0,360.1 L492.0,361.6 L490.1,363.1 L488.2,364.6 L486.2,366.0 L484.3,367.5 L482.3,368.9 L480.4,370.3 L478.4,371.7 L476.5,373.0 L474.5,374.4 L472.6,375.7 L470.7,377.0 L468.7,378.4 L466.8,379.6 L464.8,380.9 L462.9,382.2 L460.9,383.4 L459.0,384.6 L457.0,385.8 L455.1,387.0 L453.1,388.2 L451.2,389.4 L449.3,390.5 L447.3,391.6 L445.4,392.7 L443.4,393.8 L441.5,394.9 L439.5,396.0 L437.6,397.0 L435.6,398.1 L433.7,399.1 L431.8,400.1 L429.8,401.0 L427.9,402.0 L425.9,402.9 L424.0,403.9 L422.0,404.8 L420.1,405.7 L418.1,406.6 L416.2,407.4 L414.3,408.3 L412.3,409.1 L410.4,409.9 L408.4,410.7 L406.5,411.5 L404.5,412.3 L402.6,413.0 L400.6,413.7 L398.7,414.5 L396.8,415.2 L394.8,415.8 L392.9,416.5 L390.9,417.2 L389.0,417.8 L387.0,418.4 L385.1,419.0 L383.1,419.6 L381.2,420.2 L379.3,420.7 L377.3,421.3 L375.4,421.8 L373.4,422.3 L371.5,422.8 L369.5,423.2 L367.6,423.7 L365.6,424.1 L363.7,424.5 L361.8,424.9 L359.8,425.3 L357.9,425.7 L355.9,426.0 L354.0,426.4 L352.0,426.7 L350.1,427.0 L348.1,427.3 L346.2,427.6 L344.3,427.8 L342.3,428.1 L340.4,428.3 L338.4,428.5 L336.5,428.7 L334.5,428.9 L332.6,429.0 L330.6,429.2 L328.7,429.3 L326.8,429.4 L324.8,429.5 L322.9,429.6 L320.9,429.7 L319.0,429.7 L317.0,429.7 L315.1,429.8 L313.1,429.8 L311.2,429.8 L309.2,429.8 L307.3,429.8 L305.4,429.7 L303.4,429.7 L301.5,429.6 L299.5,429.5 L297.6,429.4 L295.6,429.3 L293.7,429.2Z" fill="url(#gg1)" fill-opacity="0.75" filter="url(#b4)"/>
<pattern id="st1" patternUnits="userSpaceOnUse" x="312.53" y="0" width="7.460" height="10"><rect x="0" y="0" width="3.730" height="10" fill="#fff" fill-opacity="0.55"/></pattern>
<path d="M293.7,420.2 L295.6,420.3 L297.6,420.4 L299.5,420.5 L301.5,420.6 L303.4,420.7 L305.4,420.7 L307.3,420.8 L309.2,420.8 L311.2,420.7 L313.1,420.7 L315.1,420.6 L317.0,420.5 L319.0,420.4 L320.9,420.2 L322.9,420.0 L324.8,419.8 L326.8,419.6 L328.7,419.4 L330.6,419.1 L332.6,418.9 L334.5,418.6 L336.5,418.3 L338.4,417.9 L340.4,417.6 L342.3,417.2 L344.3,416.8 L346.2,416.4 L348.1,415.9 L350.1,415.5 L352.0,415.0 L354.0,414.5 L355.9,414.0 L357.9,413.5 L359.8,412.9 L361.8,412.3 L363.7,411.8 L365.6,411.1 L367.6,410.5 L369.5,409.9 L371.5,409.2 L373.4,408.5 L375.4,407.8 L377.3,407.1 L379.3,406.3 L381.2,405.6 L383.1,404.8 L385.1,404.0 L387.0,403.2 L389.0,402.3 L390.9,401.5 L392.9,400.6 L394.8,399.7 L396.8,398.8 L398.7,397.9 L400.6,396.9 L402.6,396.0 L404.5,395.0 L406.5,394.0 L408.4,393.0 L410.4,391.9 L412.3,390.9 L414.3,389.8 L416.2,388.7 L418.1,387.6 L420.1,386.5 L422.0,385.3 L424.0,384.1 L425.9,383.0 L427.9,381.8 L429.8,380.5 L431.8,379.3 L433.7,378.0 L435.6,376.8 L437.6,375.5 L439.5,374.2 L441.5,372.8 L443.4,371.5 L445.4,370.1 L447.3,368.7 L449.3,367.3 L451.2,365.9 L453.1,364.5 L455.1,363.0 L457.0,361.5 L459.0,360.1 L460.9,358.5 L462.9,357.0 L464.8,355.5 L466.8,353.9 L468.7,352.3 L470.7,350.7 L472.6,349.1 L474.5,347.5 L476.5,345.8 L478.4,344.2 L480.4,342.5 L482.3,340.8 L484.3,339.1 L486.2,337.3 L488.2,335.6 L490.1,333.8 L492.0,332.0 L494.0,330.2 L495.9,328.4 L497.9,326.6 L499.8,324.7 L501.8,322.8 L503.7,320.9 L505.7,319.0 L507.6,317.1 L509.5,315.1 L511.5,313.2 L513.4,311.2 L515.4,309.2 L517.3,307.2 L519.3,305.2 L521.2,303.1 L523.2,301.1 L525.1,299.0 L527.0,296.9 L529.0,294.8 L530.9,292.6 L532.9,290.5 L534.8,288.3 L536.8,286.1 L538.7,283.9 L540.7,281.7 L542.6,279.5 L544.5,277.4 L546.5,275.3 L548.4,273.2 L550.4,271.1 L552.3,268.9 L554.3,266.8 L556.2,264.6 L558.2,262.4 L558.2,304.4 L556.2,306.6 L554.3,308.8 L552.3,310.9 L550.4,313.1 L548.4,315.2 L546.5,317.3 L544.5,319.4 L542.6,321.5 L540.7,323.3 L538.7,325.2 L536.8,327.0 L534.8,328.8 L532.9,330.6 L530.9,332.4 L529.0,334.2 L527.0,335.9 L525.1,337.7 L523.2,339.4 L521.2,341.1 L519.3,342.8 L517.3,344.5 L515.4,346.1 L513.4,347.8 L511.5,349.4 L509.5,351.0 L507.6,352.6 L505.7,354.2 L503.7,355.7 L501.8,357.3 L499.8,358.8 L497.9,360.3 L495.9,361.8 L494.0,363.3 L492.0,364.8 L490.1,366.2 L488.2,367.6 L486.2,369.1 L484.3,370.5 L482.3,371.9 L480.4,373.2 L478.4,374.6 L476.5,375.9 L474.5,377.2 L472.6,378.5 L470.7,379.8 L468.7,381.1 L466.8,382.4 L464.8,383.6 L462.9,384.8 L460.9,386.1 L459.0,387.2 L457.0,388.4 L455.1,389.6 L453.1,390.7 L451.2,391.9 L449.3,393.0 L447.3,394.1 L445.4,395.2 L443.4,396.2 L441.5,397.3 L439.5,398.3 L437.6,399.3 L435.6,400.3 L433.7,401.3 L431.8,402.3 L429.8,403.2 L427.9,404.2 L425.9,405.1 L424.0,406.0 L422.0,406.9 L420.1,407.7 L418.1,408.6 L416.2,409.4 L414.3,410.3 L412.3,411.1 L410.4,411.9 L408.4,412.6 L406.5,413.4 L404.5,414.1 L402.6,414.8 L400.6,415.6 L398.7,416.2 L396.8,416.9 L394.8,417.6 L392.9,418.2 L390.9,418.9 L389.0,419.5 L387.0,420.1 L385.1,420.6 L383.1,421.2 L381.2,421.7 L379.3,422.3 L377.3,422.8 L375.4,423.3 L373.4,423.8 L371.5,424.2 L369.5,424.7 L367.6,425.1 L365.6,425.5 L363.7,425.9 L361.8,426.3 L359.8,426.7 L357.9,427.0 L355.9,427.4 L354.0,427.7 L352.0,428.0 L350.1,428.3 L348.1,428.5 L346.2,428.8 L344.3,429.0 L342.3,429.3 L340.4,429.5 L338.4,429.7 L336.5,429.8 L334.5,430.0 L332.6,430.1 L330.6,430.3 L328.7,430.4 L326.8,430.5 L324.8,430.6 L322.9,430.6 L320.9,430.7 L319.0,430.7 L317.0,430.8 L315.1,430.8 L313.1,430.8 L311.2,430.8 L309.2,430.8 L307.3,430.8 L305.4,430.7 L303.4,430.7 L301.5,430.6 L299.5,430.5 L297.6,430.4 L295.6,430.3 L293.7,430.2Z" fill="url(#st1)" fill-opacity="0.22" filter="url(#b2s)"/>
<path d="M293.7,423.7 L295.6,423.8 L297.6,423.9 L299.5,424.0 L301.5,424.1 L303.4,424.2 L305.4,424.2 L307.3,424.3 L309.2,424.3 L311.2,424.3 L313.1,424.2 L315.1,424.2 L317.0,424.1 L319.0,424.0 L320.9,423.9 L322.9,423.8 L324.8,423.7 L326.8,423.5 L328.7,423.3 L330.6,423.1 L332.6,422.9 L334.5,422.7 L336.5,422.4 L338.4,422.2 L340.4,421.9 L342.3,421.6 L344.3,421.3 L346.2,420.9 L348.1,420.6 L350.1,420.2 L352.0,419.8 L354.0,419.4 L355.9,418.9 L357.9,418.5 L359.8,418.0 L361.8,417.5 L363.7,417.0 L365.6,416.5 L367.6,416.0 L369.5,415.4 L371.5,414.8 L373.4,414.2 L375.4,413.6 L377.3,413.0 L379.3,412.3 L381.2,411.6 L383.1,411.0 L385.1,410.3 L387.0,409.5 L389.0,408.8 L390.9,408.0 L392.9,407.2 L394.8,406.4 L396.8,405.6 L398.7,404.8 L400.6,403.9 L402.6,403.1 L404.5,402.2 L406.5,401.3 L408.4,400.4 L410.4,399.4 L412.3,398.4 L414.3,397.5 L416.2,396.5 L418.1,395.5 L420.1,394.4 L422.0,393.4 L424.0,392.3 L425.9,391.2 L427.9,390.1 L429.8,389.0 L431.8,387.8 L433.7,386.7 L435.6,385.5 L437.6,384.3 L439.5,383.1 L441.5,381.8 L443.4,380.6 L445.4,379.3 L447.3,378.0 L449.3,376.7 L451.2,375.4 L453.1,374.0 L455.1,372.7 L457.0,371.3 L459.0,369.9 L460.9,368.5 L462.9,367.1 L464.8,365.6 L466.8,364.1 L468.7,362.6 L470.7,361.1 L472.6,359.6 L474.5,358.1 L476.5,356.5 L478.4,354.9 L480.4,353.3 L482.3,351.7 L484.3,350.1 L486.2,348.4 L488.2,346.7 L490.1,345.1 L492.0,343.3 L494.0,341.6 L495.9,339.9 L497.9,338.1 L499.8,336.3 L501.8,334.5 L503.7,332.7 L505.7,330.9 L507.6,329.0 L509.5,327.1 L511.5,325.3 L513.4,323.4 L515.4,321.4 L517.3,319.5 L519.3,317.5 L521.2,315.5 L523.2,313.5 L525.1,311.5 L527.0,309.5 L529.0,307.4 L530.9,305.4 L532.9,303.3 L534.8,301.2 L536.8,299.0 L538.7,296.9 L540.7,294.7 L542.6,292.5 L544.5,290.4 L546.5,288.1 L548.4,285.9 L550.4,283.7 L552.3,281.4 L554.3,279.1 L556.2,276.8 L558.2,274.5 L558.2,285.9 L556.2,288.1 L554.3,290.3 L552.3,292.4 L550.4,294.6 L548.4,296.7 L546.5,298.8 L544.5,300.9 L542.6,303.0 L540.7,305.0 L538.7,307.0 L536.8,309.0 L534.8,311.0 L532.9,313.0 L530.9,314.9 L529.0,316.9 L527.0,318.8 L525.1,320.7 L523.2,322.6 L521.2,324.5 L519.3,326.3 L517.3,328.2 L515.4,330.0 L513.4,331.8 L511.5,333.6 L509.5,335.4 L507.6,337.1 L505.7,338.9 L503.7,340.6 L501.8,342.3 L499.8,344.0 L497.9,345.7 L495.9,347.3 L494.0,349.0 L492.0,350.6 L490.1,352.2 L488.2,353.8 L486.2,355.4 L484.3,356.9 L482.3,358.5 L480.4,360.0 L478.4,361.5 L476.5,363.0 L474.5,364.5 L472.6,365.9 L470.7,367.4 L468.7,368.8 L466.8,370.2 L464.8,371.6 L462.9,373.0 L460.9,374.3 L459.0,375.7 L457.0,377.0 L455.1,378.3 L453.1,379.6 L451.2,380.9 L449.3,382.1 L447.3,383.4 L445.4,384.6 L443.4,385.8 L441.5,387.0 L439.5,388.2 L437.6,389.3 L435.6,390.5 L433.7,391.6 L431.8,392.7 L429.8,393.8 L427.9,394.8 L425.9,395.9 L424.0,396.9 L422.0,398.0 L420.1,399.0 L418.1,399.9 L416.2,400.9 L414.3,401.9 L412.3,402.8 L410.4,403.7 L408.4,404.6 L406.5,405.5 L404.5,406.3 L402.6,407.2 L400.6,408.0 L398.7,408.8 L396.8,409.6 L394.8,410.4 L392.9,411.2 L390.9,411.9 L389.0,412.6 L387.0,413.3 L385.1,414.0 L383.1,414.7 L381.2,415.4 L379.3,416.0 L377.3,416.6 L375.4,417.2 L373.4,417.8 L371.5,418.4 L369.5,418.9 L367.6,419.5 L365.6,420.0 L363.7,420.5 L361.8,420.9 L359.8,421.4 L357.9,421.9 L355.9,422.3 L354.0,422.7 L352.0,423.1 L350.1,423.5 L348.1,423.8 L346.2,424.2 L344.3,424.5 L342.3,424.8 L340.4,425.1 L338.4,425.3 L336.5,425.6 L334.5,425.8 L332.6,426.0 L330.6,426.2 L328.7,426.4 L326.8,426.6 L324.8,426.7 L322.9,426.9 L320.9,427.0 L319.0,427.1 L317.0,427.1 L315.1,427.2 L313.1,427.2 L311.2,427.3 L309.2,427.3 L307.3,427.3 L305.4,427.2 L303.4,427.2 L301.5,427.1 L299.5,427.0 L297.6,426.9 L295.6,426.8 L293.7,426.7Z" fill="url(#gh1)" fill-opacity="0.60" filter="url(#b2)"/>
<path d="M293.7,423.9 L295.6,424.0 L297.6,424.1 L299.5,424.2 L301.5,424.3 L303.4,424.4 L305.4,424.4 L307.3,424.5 L309.2,424.5 L311.2,424.5 L313.1,424.4 L315.1,424.4 L317.0,424.3 L319.0,424.2 L320.9,424.1 L322.9,424.0 L324.8,423.9 L326.8,423.7 L328.7,423.5 L330.6,423.4 L332.6,423.1 L334.5,422.9 L336.5,422.7 L338.4,422.4 L340.4,422.1 L342.3,421.8 L344.3,421.5 L346.2,421.2 L348.1,420.8 L350.1,420.4 L352.0,420.0 L354.0,419.6 L355.9,419.2 L357.9,418.8 L359.8,418.3 L361.8,417.8 L363.7,417.3 L365.6,416.8 L367.6,416.3 L369.5,415.7 L371.5,415.1 L373.4,414.5 L375.4,413.9 L377.3,413.3 L379.3,412.6 L381.2,412.0 L383.1,411.3 L385.1,410.6 L387.0,409.9 L389.0,409.1 L390.9,408.4 L392.9,407.6 L394.8,406.8 L396.8,406.0 L398.7,405.2 L400.6,404.3 L402.6,403.5 L404.5,402.6 L406.5,401.7 L408.4,400.8 L410.4,399.8 L412.3,398.9 L414.3,397.9 L416.2,396.9 L418.1,395.9 L420.1,394.9 L422.0,393.8 L424.0,392.8 L425.9,391.7 L427.9,390.6 L429.8,389.5 L431.8,388.3 L433.7,387.2 L435.6,386.0 L437.6,384.8 L439.5,383.6 L441.5,382.4 L443.4,381.1 L445.4,379.8 L447.3,378.6 L449.3,377.3 L451.2,375.9 L453.1,374.6 L455.1,373.2 L457.0,371.9 L459.0,370.5 L460.9,369.1 L462.9,367.6 L464.8,366.2 L466.8,364.7 L468.7,363.2 L470.7,361.7 L472.6,360.2 L474.5,358.7 L476.5,357.1 L478.4,355.6 L480.4,354.0 L482.3,352.4 L484.3,350.7 L486.2,349.1 L488.2,347.4 L490.1,345.7 L492.0,344.0 L494.0,342.3 L495.9,340.6 L497.9,338.8 L499.8,337.1 L501.8,335.3 L503.7,333.5 L505.7,331.6 L507.6,329.8 L509.5,327.9 L511.5,326.0 L513.4,324.1 L515.4,322.2 L517.3,320.3 L519.3,318.3 L521.2,316.3 L523.2,314.4 L525.1,312.3 L527.0,310.3 L529.0,308.3 L530.9,306.2 L532.9,304.1 L534.8,302.0 L536.8,299.9 L538.7,297.8 L540.7,295.6 L542.6,293.4 L544.5,291.3 L546.5,289.0 L548.4,286.8 L550.4,284.6 L552.3,282.3 L554.3,280.0 L556.2,277.7 L558.2,275.4 L558.2,285.8 L556.2,288.0 L554.3,290.2 L552.3,292.3 L550.4,294.5 L548.4,296.6 L546.5,298.7 L544.5,300.8 L542.6,302.9 L540.7,304.9 L538.7,306.9 L536.8,308.9 L534.8,310.9 L532.9,312.9 L530.9,314.8 L529.0,316.8 L527.0,318.7 L525.1,320.6 L523.2,322.5 L521.2,324.4 L519.3,326.2 L517.3,328.1 L515.4,329.9 L513.4,331.7 L511.5,333.5 L509.5,335.3 L507.6,337.0 L505.7,338.8 L503.7,340.5 L501.8,342.2 L499.8,343.9 L497.9,345.6 L495.9,347.2 L494.0,348.8 L492.0,350.5 L490.1,352.1 L488.2,353.7 L486.2,355.2 L484.3,356.8 L482.3,358.3 L480.4,359.9 L478.4,361.4 L476.5,362.9 L474.5,364.3 L472.6,365.8 L470.7,367.2 L468.7,368.7 L466.8,370.1 L464.8,371.5 L462.9,372.8 L460.9,374.2 L459.0,375.5 L457.0,376.9 L455.1,378.2 L453.1,379.5 L451.2,380.7 L449.3,382.0 L447.3,383.2 L445.4,384.5 L443.4,385.7 L441.5,386.8 L439.5,388.0 L437.6,389.2 L435.6,390.3 L433.7,391.4 L431.8,392.5 L429.8,393.6 L427.9,394.7 L425.9,395.7 L424.0,396.8 L422.0,397.8 L420.1,398.8 L418.1,399.8 L416.2,400.7 L414.3,401.7 L412.3,402.6 L410.4,403.5 L408.4,404.4 L406.5,405.3 L404.5,406.2 L402.6,407.0 L400.6,407.8 L398.7,408.7 L396.8,409.4 L394.8,410.2 L392.9,411.0 L390.9,411.7 L389.0,412.5 L387.0,413.2 L385.1,413.8 L383.1,414.5 L381.2,415.2 L379.3,415.8 L377.3,416.4 L375.4,417.0 L373.4,417.6 L371.5,418.2 L369.5,418.7 L367.6,419.3 L365.6,419.8 L363.7,420.3 L361.8,420.8 L359.8,421.2 L357.9,421.7 L355.9,422.1 L354.0,422.5 L352.0,422.9 L350.1,423.3 L348.1,423.6 L346.2,424.0 L344.3,424.3 L342.3,424.6 L340.4,424.9 L338.4,425.1 L336.5,425.4 L334.5,425.6 L332.6,425.8 L330.6,426.0 L328.7,426.2 L326.8,426.4 L324.8,426.5 L322.9,426.7 L320.9,426.8 L319.0,426.9 L317.0,426.9 L315.1,427.0 L313.1,427.0 L311.2,427.1 L309.2,427.1 L307.3,427.1 L305.4,427.0 L303.4,427.0 L301.5,426.9 L299.5,426.8 L297.6,426.7 L295.6,426.6 L293.7,426.5Z" fill="url(#gw1)" filter="url(#b1)"/>
<g fill="#fdf36a" filter="url(#b05)"><rect x="310.56" y="424.60" width="7.68" height="2.20" rx="0.88" fill-opacity="0.50"/><rect x="318.02" y="424.29" width="7.68" height="2.20" rx="0.88" fill-opacity="0.50"/><rect x="325.48" y="423.70" width="7.68" height="2.20" rx="0.88" fill-opacity="0.50"/><rect x="332.94" y="422.86" width="7.68" height="2.20" rx="0.88" fill-opacity="0.50"/><rect x="340.40" y="421.74" width="7.68" height="2.20" rx="0.88" fill-opacity="0.50"/><rect x="347.86" y="420.37" width="7.68" height="2.20" rx="0.88" fill-opacity="0.50"/><rect x="355.32" y="418.73" width="7.68" height="2.20" rx="0.88" fill-opacity="0.50"/><rect x="362.61" y="416.75" width="8.02" height="2.36" rx="0.94" fill-opacity="0.54"/><rect x="369.86" y="414.50" width="8.44" height="2.55" rx="1.02" fill-opacity="0.60"/><rect x="377.11" y="411.98" width="8.85" height="2.74" rx="1.10" fill-opacity="0.65"/><rect x="384.36" y="409.21" width="9.27" height="2.93" rx="1.17" fill-opacity="0.70"/><rect x="391.61" y="406.18" width="9.69" height="3.12" rx="1.25" fill-opacity="0.76"/><rect x="398.86" y="402.89" width="10.11" height="3.31" rx="1.33" fill-opacity="0.81"/><rect x="406.12" y="399.35" width="10.52" height="3.51" rx="1.40" fill-opacity="0.86"/><rect x="413.37" y="395.55" width="10.94" height="3.70" rx="1.48" fill-opacity="0.92"/><rect x="420.62" y="391.49" width="11.36" height="3.89" rx="1.56" fill-opacity="0.97"/><rect x="427.96" y="387.22" width="11.60" height="4.00" rx="1.60" fill-opacity="1.00"/><rect x="435.42" y="382.76" width="11.60" height="4.00" rx="1.60" fill-opacity="1.00"/><rect x="442.88" y="378.04" width="11.60" height="4.00" rx="1.60" fill-opacity="1.00"/><rect x="450.34" y="373.07" width="11.60" height="4.00" rx="1.60" fill-opacity="1.00"/><rect x="457.80" y="367.86" width="11.60" height="4.00" rx="1.60" fill-opacity="1.00"/><rect x="465.26" y="362.39" width="11.60" height="4.00" rx="1.60" fill-opacity="1.00"/><rect x="472.72" y="356.67" width="11.60" height="4.00" rx="1.60" fill-opacity="1.00"/><rect x="480.18" y="350.71" width="11.60" height="4.00" rx="1.60" fill-opacity="1.00"/><rect x="487.64" y="344.50" width="11.60" height="4.00" rx="1.60" fill-opacity="1.00"/><rect x="495.10" y="338.05" width="11.60" height="4.00" rx="1.60" fill-opacity="1.00"/><rect x="502.56" y="331.35" width="11.60" height="4.00" rx="1.60" fill-opacity="1.00"/><rect x="510.02" y="324.40" width="11.60" height="4.00" rx="1.60" fill-opacity="1.00"/><rect x="517.48" y="317.21" width="11.60" height="4.00" rx="1.60" fill-opacity="1.00"/><rect x="524.94" y="309.78" width="11.60" height="4.00" rx="1.60" fill-opacity="1.00"/><rect x="532.40" y="302.11" width="11.60" height="4.00" rx="1.60" fill-opacity="1.00"/><rect x="539.86" y="294.20" width="11.60" height="4.00" rx="1.60" fill-opacity="1.00"/></g>
<g fill="#f7a531" filter="url(#b03)"><rect x="362.66" y="417.42" width="7.92" height="1.03" rx="0.41" fill-opacity="0.54"/><rect x="369.97" y="415.18" width="8.22" height="1.19" rx="0.48" fill-opacity="0.60"/><rect x="377.28" y="412.68" width="8.52" height="1.35" rx="0.54" fill-opacity="0.65"/><rect x="384.59" y="409.92" width="8.82" height="1.51" rx="0.60" fill-opacity="0.70"/><rect x="391.89" y="406.91" width="9.12" height="1.67" rx="0.67" fill-opacity="0.76"/><rect x="399.20" y="403.63" width="9.43" height="1.83" rx="0.73" fill-opacity="0.81"/><rect x="406.51" y="400.10" width="9.73" height="1.99" rx="0.80" fill-opacity="0.86"/><rect x="413.82" y="396.32" width="10.03" height="2.15" rx="0.86" fill-opacity="0.92"/><rect x="421.13" y="392.28" width="10.33" height="2.31" rx="0.92" fill-opacity="0.97"/><rect x="428.51" y="388.02" width="10.50" height="2.40" rx="0.96" fill-opacity="1.00"/><rect x="435.97" y="383.56" width="10.50" height="2.40" rx="0.96" fill-opacity="1.00"/><rect x="443.43" y="378.84" width="10.50" height="2.40" rx="0.96" fill-opacity="1.00"/><rect x="450.89" y="373.87" width="10.50" height="2.40" rx="0.96" fill-opacity="1.00"/><rect x="458.35" y="368.66" width="10.50" height="2.40" rx="0.96" fill-opacity="1.00"/><rect x="465.81" y="363.19" width="10.50" height="2.40" rx="0.96" fill-opacity="1.00"/><rect x="473.27" y="357.47" width="10.50" height="2.40" rx="0.96" fill-opacity="1.00"/><rect x="480.73" y="351.51" width="10.50" height="2.40" rx="0.96" fill-opacity="1.00"/><rect x="488.19" y="345.30" width="10.50" height="2.40" rx="0.96" fill-opacity="1.00"/><rect x="495.65" y="338.85" width="10.50" height="2.40" rx="0.96" fill-opacity="1.00"/><rect x="503.11" y="332.15" width="10.50" height="2.40" rx="0.96" fill-opacity="1.00"/><rect x="510.57" y="325.20" width="10.50" height="2.40" rx="0.96" fill-opacity="1.00"/><rect x="518.03" y="318.01" width="10.50" height="2.40" rx="0.96" fill-opacity="1.00"/><rect x="525.49" y="310.58" width="10.50" height="2.40" rx="0.96" fill-opacity="1.00"/><rect x="532.95" y="302.91" width="10.50" height="2.40" rx="0.96" fill-opacity="1.00"/><rect x="540.41" y="295.00" width="10.50" height="2.40" rx="0.96" fill-opacity="1.00"/></g>
<g fill="#dc2f22" filter="url(#b03)"><rect x="400.53" y="404.14" width="6.77" height="0.82" rx="0.33" fill-opacity="0.46"/><rect x="407.84" y="400.64" width="7.08" height="0.93" rx="0.37" fill-opacity="0.52"/><rect x="415.14" y="396.88" width="7.39" height="1.03" rx="0.41" fill-opacity="0.58"/><rect x="422.45" y="392.87" width="7.70" height="1.14" rx="0.46" fill-opacity="0.64"/><rect x="429.76" y="388.60" width="8.00" height="1.25" rx="0.50" fill-opacity="0.69"/><rect x="437.06" y="384.08" width="8.31" height="1.35" rx="0.54" fill-opacity="0.75"/><rect x="444.37" y="379.31" width="8.62" height="1.46" rx="0.58" fill-opacity="0.81"/><rect x="451.68" y="374.29" width="8.92" height="1.56" rx="0.63" fill-opacity="0.87"/><rect x="458.98" y="369.02" width="9.23" height="1.67" rx="0.67" fill-opacity="0.93"/><rect x="466.29" y="363.50" width="9.54" height="1.78" rx="0.71" fill-opacity="0.99"/><rect x="473.72" y="357.77" width="9.60" height="1.80" rx="0.72" fill-opacity="1.00"/><rect x="481.18" y="351.81" width="9.60" height="1.80" rx="0.72" fill-opacity="1.00"/><rect x="488.64" y="345.60" width="9.60" height="1.80" rx="0.72" fill-opacity="1.00"/><rect x="496.10" y="339.15" width="9.60" height="1.80" rx="0.72" fill-opacity="1.00"/><rect x="503.56" y="332.45" width="9.60" height="1.80" rx="0.72" fill-opacity="1.00"/><rect x="511.02" y="325.50" width="9.60" height="1.80" rx="0.72" fill-opacity="1.00"/><rect x="518.48" y="318.31" width="9.60" height="1.80" rx="0.72" fill-opacity="1.00"/><rect x="525.94" y="310.88" width="9.60" height="1.80" rx="0.72" fill-opacity="1.00"/><rect x="533.40" y="303.21" width="9.60" height="1.80" rx="0.72" fill-opacity="1.00"/><rect x="540.86" y="295.30" width="9.60" height="1.80" rx="0.72" fill-opacity="1.00"/></g>
<path d="M309.25,425.77 L310.42,425.76 L311.58,425.75 L312.75,425.74 L313.92,425.71 L315.08,425.69 L316.25,425.65 L317.42,425.61 L318.58,425.56 L319.75,425.50 L320.92,425.44 L322.08,425.37 L323.25,425.30 L324.42,425.21 L325.58,425.13 L326.75,425.03 L327.92,424.93 L329.08,424.82 L330.25,424.71 L331.42,424.59 L332.58,424.46 L333.75,424.33 L334.92,424.19 L336.09,424.04 L337.25,423.88 L338.42,423.72 L339.59,423.56 L340.75,423.38 L341.92,423.20 L343.09,423.02 L344.25,422.83 L345.42,422.63 L346.59,422.42 L347.75,422.21 L348.92,421.99 L350.09,421.76 L351.25,421.53 L352.42,421.29 L353.59,421.05 L354.75,420.80 L355.92,420.54 L357.09,420.27 L358.25,420.00 L359.42,419.72 L360.59,419.44 L361.75,419.15 L362.92,418.85 L364.09,418.55 L365.25,418.24 L366.42,417.92 L367.59,417.60 L368.75,417.27 L369.92,416.93 L371.09,416.59 L372.25,416.24 L373.42,415.88 L374.59,415.52 L375.75,415.15 L376.92,414.77 L378.09,414.39 L379.25,414.00 L380.42,413.61 L381.59,413.20 L382.76,412.80 L383.92,412.38 L385.09,411.96 L386.26,411.53 L387.42,411.10 L388.59,410.66 L389.76,410.21 L390.92,409.75 L392.09,409.29 L393.26,408.83 L394.42,408.35 L395.59,407.87 L396.76,407.38 L397.92,406.89 L399.09,406.39 L400.26,405.88 L401.42,405.37 L402.59,404.85 L403.76,404.32 L404.92,403.79 L406.09,403.25 L407.26,402.71 L408.42,402.15 L409.59,401.60 L410.76,401.03 L411.92,400.46 L413.09,399.88 L414.26,399.30 L415.42,398.70 L416.59,398.11 L417.76,397.50 L418.92,396.89 L420.09,396.27 L421.26,395.65 L422.42,395.02 L423.59,394.38 L424.76,393.74 L425.93,393.09 L427.09,392.43 L428.26,391.77 L429.43,391.10 L430.59,390.42 L431.76,389.74 L432.93,389.05 L434.09,388.35 L435.26,387.65 L436.43,386.94 L437.59,386.22 L438.76,385.50 L439.93,384.77 L441.09,384.04 L442.26,383.29 L443.43,382.55 L444.59,381.79 L445.76,381.03 L446.93,380.26 L448.09,379.49 L449.26,378.71 L450.43,377.92 L451.59,377.12 L452.76,376.32 L453.93,375.52 L455.09,374.70 L456.26,373.88 L457.43,373.06 L458.59,372.22 L459.76,371.38 L460.93,370.54 L462.09,369.68 L463.26,368.82 L464.43,367.96 L465.59,367.08 L466.76,366.21 L467.93,365.32 L469.09,364.43 L470.26,363.53 L471.43,362.62 L472.60,361.71 L473.76,360.79 L474.93,359.87 L476.10,358.94 L477.26,358.00 L478.43,357.05 L479.60,356.10 L480.76,355.15 L481.93,354.18 L483.10,353.21 L484.26,352.23 L485.43,351.25 L486.60,350.26 L487.76,349.26 L488.93,348.26 L490.10,347.25 L491.26,346.23 L492.43,345.21 L493.60,344.18 L494.76,343.15 L495.93,342.10 L497.10,341.05 L498.26,340.00 L499.43,338.94 L500.60,337.87 L501.76,336.79 L502.93,335.71 L504.10,334.62 L505.26,333.53 L506.43,332.43 L507.60,331.32 L508.76,330.20 L509.93,329.08 L511.10,327.96 L512.26,326.82 L513.43,325.68 L514.60,324.53 L515.76,323.38 L516.93,322.22 L518.10,321.05 L519.26,319.88 L520.43,318.70 L521.60,317.51 L522.77,316.32 L523.93,315.12 L525.10,313.92 L526.27,312.70 L527.43,311.48 L528.60,310.26 L529.77,309.03 L530.93,307.79 L532.10,306.54 L533.27,305.29 L534.43,304.03 L535.60,302.77 L536.77,301.50 L537.93,300.22 L539.10,298.93 L540.27,297.64 L541.43,296.35 L542.60,295.04" stroke="#fffbd8" stroke-opacity="0.85" stroke-width="3.0" fill="none" filter="url(#b03)"/>
<path d="M309.25,425.77 L310.42,425.76 L311.58,425.75 L312.75,425.74 L313.92,425.71 L315.08,425.69 L316.25,425.65 L317.42,425.61 L318.58,425.56 L319.75,425.50 L320.92,425.44 L322.08,425.37 L323.25,425.30 L324.42,425.21 L325.58,425.13 L326.75,425.03 L327.92,424.93 L329.08,424.82 L330.25,424.71 L331.42,424.59 L332.58,424.46 L333.75,424.33 L334.92,424.19 L336.09,424.04 L337.25,423.88 L338.42,423.72 L339.59,423.56 L340.75,423.38 L341.92,423.20 L343.09,423.02 L344.25,422.83 L345.42,422.63 L346.59,422.42 L347.75,422.21 L348.92,421.99 L350.09,421.76 L351.25,421.53 L352.42,421.29 L353.59,421.05 L354.75,420.80 L355.92,420.54 L357.09,420.27 L358.25,420.00 L359.42,419.72 L360.59,419.44 L361.75,419.15 L362.92,418.85 L364.09,418.55 L365.25,418.24 L366.42,417.92 L367.59,417.60 L368.75,417.27 L369.92,416.93 L371.09,416.59 L372.25,416.24 L373.42,415.88 L374.59,415.52 L375.75,415.15 L376.92,414.77 L378.09,414.39 L379.25,414.00 L380.42,413.61 L381.59,413.20 L382.76,412.80 L383.92,412.38 L385.09,411.96 L386.26,411.53 L387.42,411.10 L388.59,410.66 L389.76,410.21 L390.92,409.75 L392.09,409.29 L393.26,408.83 L394.42,408.35 L395.59,407.87 L396.76,407.38 L397.92,406.89 L399.09,406.39 L400.26,405.88 L401.42,405.37 L402.59,404.85 L403.76,404.32 L404.92,403.79 L406.09,403.25 L407.26,402.71 L408.42,402.15 L409.59,401.60 L410.76,401.03 L411.92,400.46 L413.09,399.88 L414.26,399.30 L415.42,398.70 L416.59,398.11 L417.76,397.50 L418.92,396.89 L420.09,396.27 L421.26,395.65 L422.42,395.02 L423.59,394.38 L424.76,393.74 L425.93,393.09 L427.09,392.43 L428.26,391.77 L429.43,391.10 L430.59,390.42 L431.76,389.74 L432.93,389.05 L434.09,388.35 L435.26,387.65 L436.43,386.94 L437.59,386.22 L438.76,385.50 L439.93,384.77 L441.09,384.04 L442.26,383.29 L443.43,382.55 L444.59,381.79 L445.76,381.03 L446.93,380.26 L448.09,379.49 L449.26,378.71 L450.43,377.92 L451.59,377.12 L452.76,376.32 L453.93,375.52 L455.09,374.70 L456.26,373.88 L457.43,373.06 L458.59,372.22 L459.76,371.38 L460.93,370.54 L462.09,369.68 L463.26,368.82 L464.43,367.96 L465.59,367.08 L466.76,366.21 L467.93,365.32 L469.09,364.43 L470.26,363.53 L471.43,362.62 L472.60,361.71 L473.76,360.79 L474.93,359.87 L476.10,358.94 L477.26,358.00 L478.43,357.05 L479.60,356.10 L480.76,355.15 L481.93,354.18 L483.10,353.21 L484.26,352.23 L485.43,351.25 L486.60,350.26 L487.76,349.26 L488.93,348.26 L490.10,347.25 L491.26,346.23 L492.43,345.21 L493.60,344.18 L494.76,343.15 L495.93,342.10 L497.10,341.05 L498.26,340.00 L499.43,338.94 L500.60,337.87 L501.76,336.79 L502.93,335.71 L504.10,334.62 L505.26,333.53 L506.43,332.43 L507.60,331.32 L508.76,330.20 L509.93,329.08 L511.10,327.96 L512.26,326.82 L513.43,325.68 L514.60,324.53 L515.76,323.38 L516.93,322.22 L518.10,321.05 L519.26,319.88 L520.43,318.70 L521.60,317.51 L522.77,316.32 L523.93,315.12 L525.10,313.92 L526.27,312.70 L527.43,311.48 L528.60,310.26 L529.77,309.03 L530.93,307.79 L532.10,306.54 L533.27,305.29 L534.43,304.03 L535.60,302.77 L536.77,301.50 L537.93,300.22 L539.10,298.93 L540.27,297.64 L541.43,296.35 L542.60,295.04" stroke="#000" stroke-width="1.15" fill="none"/>
</g>
<path d="M387.03,479.80 v-4.6 M387.03,247.40 v4.6 M464.82,479.80 v-4.6 M464.82,247.40 v4.6 M309.25,421.70 h4.6 M542.60,421.70 h-4.6 M309.25,363.60 h4.6 M542.60,363.60 h-4.6 M309.25,305.50 h4.6 M542.60,305.50 h-4.6" stroke="#15153a" stroke-width="0.7" fill="none"/>
<rect x="309.25" y="247.40" width="233.35" height="232.40" fill="none" stroke="#4a4a4a" stroke-width="0.8"/>
<text x="309.25" y="493.60" font-size="13.00" text-anchor="middle">0</text>
<text x="387.03" y="493.60" font-size="13.00" text-anchor="middle">0.5</text>
<text x="464.82" y="493.60" font-size="13.00" text-anchor="middle">1</text>
<text x="542.60" y="493.60" font-size="13.00" text-anchor="middle">1.5</text>
<text x="304.25" y="483.90" font-size="13.00" text-anchor="end">0</text>
<text x="304.25" y="425.80" font-size="13.00" text-anchor="end">1</text>
<text x="304.25" y="367.70" font-size="13.00" text-anchor="end">2</text>
<text x="304.25" y="309.60" font-size="13.00" text-anchor="end">3</text>
<text x="304.25" y="251.50" font-size="13.00" text-anchor="end">4</text>
<text x="350.80" y="506.60" font-size="13.00" textLength="140.30" lengthAdjust="spacingAndGlyphs">Reduced wave number <tspan font-style="italic">q</tspan></text>
<text transform="translate(294.25,366.10) rotate(-90)" font-size="13.00" text-anchor="middle" textLength="121.5" lengthAdjust="spacingAndGlyphs">Reduced frequency Ω</text>
<rect x="318.70" y="258.50" width="161.60" height="58.20" fill="#f2f2ff" stroke="#333" stroke-width="0.6"/>
<path d="M323.00,269.1 h20.2" stroke="#000" stroke-width="1.35"/>
<text x="355.20" y="273.10" font-size="13.52" font-style="italic" text-anchor="middle">ϰ</text><path d="M363.60,268.12 H372.90 M363.60,270.39 H372.90" stroke="#1c1c1c" stroke-width="0.58" fill="none"/><text x="377.40" y="273.10" font-size="13.00" textLength="26.70" lengthAdjust="spacingAndGlyphs">0.25,</text><text x="412.50" y="273.10" font-size="13.52" font-style="italic" text-anchor="middle">σ</text><g transform="translate(417.30,273.10) scale(1.083)" fill="none" stroke="#1c1c1c" stroke-linecap="round"><path d="M2.0,-8.0 C0.9,-6.6 0.5,-5.4 0.5,-4.2 C0.5,-2.0 1.5,-0.3 3.2,-0.25 C4.5,-0.2 5.6,-0.8 6.3,-1.8" stroke-width="1.2"/><path d="M2.0,-8.0 C2.9,-8.5 4.2,-8.6 5.2,-8.0 C6.3,-7.3 6.6,-6.2 6.0,-5.3 C5.3,-4.4 3.8,-4.2 2.9,-4.8 C2.4,-5.2 2.3,-5.6 2.4,-6.0" stroke-width="0.65"/></g><path d="M429.00,268.12 H438.10 M429.00,270.39 H438.10" stroke="#1c1c1c" stroke-width="0.58" fill="none"/><text x="442.50" y="273.10" font-size="13.00" textLength="23.10" lengthAdjust="spacingAndGlyphs">0.25</text>
<rect x="334.00" y="294.5" width="122.70" height="12.3" fill="url(#cb)"/>
<text x="334.90" y="293.20" font-size="13.00" text-anchor="middle">0</text>
<text x="440.10" y="293.20" font-size="13.00" textLength="24.00" lengthAdjust="spacingAndGlyphs">high</text>
<text x="332.50" y="528.50" font-size="14.00" textLength="173.00" lengthAdjust="spacingAndGlyphs">(b) Easy–normal anisotropy</text>
<linearGradient id="gg2" gradientUnits="userSpaceOnUse" x1="585.4" x2="818.7" y1="0" y2="0"><stop offset="0" stop-color="#8ea2f6" stop-opacity="0.18"/><stop offset="0.35" stop-color="#93a6f6" stop-opacity="0.38"/><stop offset="0.7" stop-color="#a3b3f8" stop-opacity="0.62"/><stop offset="1" stop-color="#b4c1fa" stop-opacity="0.80"/></linearGradient>
<linearGradient id="gh2" gradientUnits="userSpaceOnUse" x1="585.4" x2="818.7" y1="0" y2="0"><stop offset="0" stop-color="#dfe5fd" stop-opacity="0.25"/><stop offset="0.4" stop-color="#e4e9fd" stop-opacity="0.5"/><stop offset="1" stop-color="#eef1fe" stop-opacity="0.9"/></linearGradient>
<linearGradient id="gw2" gradientUnits="userSpaceOnUse" x1="585.4" x2="818.7" y1="0" y2="0"><stop offset="0" stop-color="#fff" stop-opacity="0.6"/><stop offset="0.4" stop-color="#fff" stop-opacity="0.85"/><stop offset="1" stop-color="#fff" stop-opacity="1"/></linearGradient>
<g clip-path="url(#cbt2)">
<rect x="585.40" y="247.40" width="233.30" height="232.40" fill="#3452ee"/>
<path d="M569.8,428.0 L571.8,429.1 L573.7,430.3 L575.7,431.3 L577.6,432.4 L579.6,433.4 L581.5,434.4 L583.5,435.3 L585.4,436.2 L587.3,437.0 L589.3,437.8 L591.2,438.5 L593.2,439.2 L595.1,439.8 L597.1,440.4 L599.0,440.9 L601.0,441.4 L602.9,441.8 L604.8,442.2 L606.8,442.6 L608.7,442.9 L610.7,443.1 L612.6,443.4 L614.6,443.6 L616.5,443.7 L618.5,443.8 L620.4,443.9 L622.3,443.9 L624.3,443.9 L626.2,443.8 L628.2,443.7 L630.1,443.6 L632.1,443.4 L634.0,443.2 L635.9,443.0 L637.9,442.7 L639.8,442.4 L641.8,442.0 L643.7,441.6 L645.7,441.1 L647.6,440.6 L649.6,440.1 L651.5,439.6 L653.4,439.0 L655.4,438.3 L657.3,437.6 L659.3,436.9 L661.2,436.2 L663.2,435.4 L665.1,434.6 L667.1,433.7 L669.0,432.8 L670.9,431.9 L672.9,430.9 L674.8,429.9 L676.8,428.8 L678.7,427.7 L680.7,426.6 L682.6,425.4 L684.6,424.2 L686.5,423.0 L688.4,421.7 L690.4,420.4 L692.3,419.1 L694.3,417.7 L696.2,416.3 L698.2,414.8 L700.1,413.3 L702.0,411.8 L704.0,410.2 L705.9,408.6 L707.9,407.0 L709.8,405.3 L711.8,403.6 L713.7,401.8 L715.7,400.1 L717.6,398.2 L719.5,396.4 L721.5,394.5 L723.4,392.6 L725.4,390.6 L727.3,388.6 L729.3,386.6 L731.2,384.5 L733.2,382.4 L735.1,380.3 L737.0,378.1 L739.0,375.9 L740.9,373.7 L742.9,371.4 L744.8,369.1 L746.8,366.7 L748.7,364.4 L750.7,362.0 L752.6,359.5 L754.5,357.0 L756.5,354.5 L758.4,352.0 L760.4,349.4 L762.3,346.8 L764.3,344.1 L766.2,341.4 L768.2,338.7 L770.1,336.0 L772.0,333.2 L774.0,330.4 L775.9,327.5 L777.9,324.7 L779.8,321.7 L781.8,318.8 L783.7,315.8 L785.6,312.8 L787.6,309.8 L789.5,306.7 L791.5,303.6 L793.4,300.4 L795.4,297.3 L797.3,294.1 L799.3,290.8 L801.2,287.6 L803.1,284.3 L805.1,280.9 L807.0,277.6 L809.0,274.2 L810.9,270.8 L812.9,267.3 L814.8,263.8 L816.8,260.3 L818.7,256.8 L820.6,253.6 L822.6,250.4 L824.5,247.1 L826.5,243.8 L828.4,240.5 L830.4,237.1 L832.3,233.8 L834.3,230.4 L834.3,310.4 L832.3,313.8 L830.4,317.1 L828.4,320.5 L826.5,323.8 L824.5,327.1 L822.6,330.4 L820.6,333.6 L818.7,336.8 L816.8,339.6 L814.8,342.3 L812.9,345.1 L810.9,347.8 L809.0,350.5 L807.0,353.2 L805.1,355.8 L803.1,358.4 L801.2,361.0 L799.3,363.5 L797.3,366.0 L795.4,368.5 L793.4,371.0 L791.5,373.4 L789.5,375.8 L787.6,378.1 L785.6,380.5 L783.7,382.8 L781.8,385.1 L779.8,387.3 L777.9,389.5 L775.9,391.7 L774.0,393.9 L772.0,396.0 L770.1,398.1 L768.2,400.2 L766.2,402.2 L764.3,404.2 L762.3,406.2 L760.4,408.2 L758.4,410.1 L756.5,412.0 L754.5,413.8 L752.6,415.7 L750.7,417.5 L748.7,419.2 L746.8,420.9 L744.8,422.6 L742.9,424.3 L740.9,426.0 L739.0,427.6 L737.0,429.1 L735.1,430.7 L733.2,432.2 L731.2,433.7 L729.3,435.1 L727.3,436.5 L725.4,437.9 L723.4,439.3 L721.5,440.6 L719.5,441.9 L717.6,443.1 L715.7,444.4 L713.7,445.6 L711.8,446.7 L709.8,447.8 L707.9,448.9 L705.9,450.0 L704.0,451.0 L702.0,452.0 L700.1,453.0 L698.2,453.9 L696.2,454.8 L694.3,455.7 L692.3,456.5 L690.4,457.3 L688.4,458.1 L686.5,458.8 L684.6,459.5 L682.6,460.2 L680.7,460.9 L678.7,461.5 L676.8,462.0 L674.8,462.6 L672.9,463.1 L670.9,463.6 L669.0,464.0 L667.1,464.4 L665.1,464.8 L663.2,465.1 L661.2,465.5 L659.3,465.7 L657.3,466.0 L655.4,466.2 L653.4,466.4 L651.5,466.5 L649.6,466.6 L647.6,466.7 L645.7,466.8 L643.7,466.8 L641.8,466.7 L639.8,466.7 L637.9,466.6 L635.9,466.5 L634.0,466.3 L632.1,466.2 L630.1,465.9 L628.2,465.7 L626.2,465.4 L624.3,465.1 L622.3,464.8 L620.4,464.4 L618.5,464.0 L616.5,463.5 L614.6,463.0 L612.6,462.5 L610.7,462.0 L608.7,461.4 L606.8,460.8 L604.8,460.2 L602.9,459.5 L601.0,458.8 L599.0,458.1 L597.1,457.3 L595.1,456.5 L593.2,455.7 L591.2,454.9 L589.3,454.0 L587.3,453.1 L585.4,452.2 L583.5,451.3 L581.5,450.4 L579.6,449.4 L577.6,448.4 L575.7,447.3 L573.7,446.3 L571.8,445.1 L569.8,444.0Z" fill="url(#gg2)" fill-opacity="0.45" filter="url(#b10)"/>
<path d="M585.4,453.9 H818.7" stroke="#8094f4" stroke-opacity="0.14" stroke-width="1.6"/>
<path d="M569.8,432.0 L571.8,433.1 L573.7,434.3 L575.7,435.3 L577.6,436.4 L579.6,437.4 L581.5,438.4 L583.5,439.3 L585.4,440.2 L587.3,441.1 L589.3,441.9 L591.2,442.6 L593.2,443.3 L595.1,444.0 L597.1,444.6 L599.0,445.2 L601.0,445.7 L602.9,446.2 L604.8,446.6 L606.8,447.1 L608.7,447.4 L610.7,447.8 L612.6,448.1 L614.6,448.3 L616.5,448.5 L618.5,448.7 L620.4,448.9 L622.3,449.0 L624.3,449.0 L626.2,449.1 L628.2,449.0 L630.1,449.0 L632.1,448.9 L634.0,448.8 L635.9,448.6 L637.9,448.4 L639.8,448.2 L641.8,447.9 L643.7,447.6 L645.7,447.2 L647.6,446.8 L649.6,446.4 L651.5,446.0 L653.4,445.5 L655.4,444.9 L657.3,444.3 L659.3,443.7 L661.2,443.1 L663.2,442.4 L665.1,441.7 L667.1,440.9 L669.0,440.1 L670.9,439.3 L672.9,438.4 L674.8,437.5 L676.8,436.6 L678.7,435.6 L680.7,434.6 L682.6,433.5 L684.6,432.5 L686.5,431.3 L688.4,430.2 L690.4,429.0 L692.3,427.8 L694.3,426.5 L696.2,425.2 L698.2,423.9 L700.1,422.5 L702.0,421.1 L704.0,419.6 L705.9,418.2 L707.9,416.7 L709.8,415.1 L711.8,413.5 L713.7,411.9 L715.7,410.2 L717.6,408.6 L719.5,406.8 L721.5,405.1 L723.4,403.3 L725.4,401.5 L727.3,399.6 L729.3,397.7 L731.2,395.8 L733.2,393.8 L735.1,391.8 L737.0,389.8 L739.0,387.7 L740.9,385.6 L742.9,383.5 L744.8,381.3 L746.8,379.1 L748.7,376.9 L750.7,374.6 L752.6,372.3 L754.5,370.0 L756.5,367.6 L758.4,365.2 L760.4,362.7 L762.3,360.3 L764.3,357.8 L766.2,355.2 L768.2,352.7 L770.1,350.1 L772.0,347.4 L774.0,344.8 L775.9,342.1 L777.9,339.4 L779.8,336.6 L781.8,333.8 L783.7,331.0 L785.6,328.1 L787.6,325.2 L789.5,322.3 L791.5,319.4 L793.4,316.4 L795.4,313.4 L797.3,310.3 L799.3,307.2 L801.2,304.1 L803.1,301.0 L805.1,297.8 L807.0,294.6 L809.0,291.4 L810.9,288.1 L812.9,284.8 L814.8,281.5 L816.8,278.2 L818.7,274.8 L820.6,271.6 L822.6,268.4 L824.5,265.1 L826.5,261.8 L828.4,258.5 L830.4,255.1 L832.3,251.8 L834.3,248.4 L834.3,296.4 L832.3,299.8 L830.4,303.1 L828.4,306.5 L826.5,309.8 L824.5,313.1 L822.6,316.4 L820.6,319.6 L818.7,322.8 L816.8,325.7 L814.8,328.6 L812.9,331.4 L810.9,334.3 L809.0,337.1 L807.0,339.8 L805.1,342.6 L803.1,345.3 L801.2,348.0 L799.3,350.6 L797.3,353.3 L795.4,355.9 L793.4,358.4 L791.5,361.0 L789.5,363.5 L787.6,366.0 L785.6,368.4 L783.7,370.8 L781.8,373.2 L779.8,375.6 L777.9,377.9 L775.9,380.2 L774.0,382.5 L772.0,384.7 L770.1,386.9 L768.2,389.1 L766.2,391.2 L764.3,393.4 L762.3,395.4 L760.4,397.5 L758.4,399.5 L756.5,401.5 L754.5,403.5 L752.6,405.4 L750.7,407.3 L748.7,409.1 L746.8,411.0 L744.8,412.8 L742.9,414.5 L740.9,416.3 L739.0,418.0 L737.0,419.7 L735.1,421.3 L733.2,422.9 L731.2,424.5 L729.3,426.0 L727.3,427.5 L725.4,429.0 L723.4,430.5 L721.5,431.9 L719.5,433.3 L717.6,434.6 L715.7,435.9 L713.7,437.2 L711.8,438.5 L709.8,439.7 L707.9,440.9 L705.9,442.0 L704.0,443.2 L702.0,444.2 L700.1,445.3 L698.2,446.3 L696.2,447.3 L694.3,448.3 L692.3,449.2 L690.4,450.1 L688.4,450.9 L686.5,451.7 L684.6,452.5 L682.6,453.3 L680.7,454.0 L678.7,454.7 L676.8,455.4 L674.8,456.0 L672.9,456.6 L670.9,457.1 L669.0,457.6 L667.1,458.1 L665.1,458.6 L663.2,459.0 L661.2,459.4 L659.3,459.7 L657.3,460.0 L655.4,460.3 L653.4,460.6 L651.5,460.8 L649.6,461.0 L647.6,461.1 L645.7,461.2 L643.7,461.3 L641.8,461.4 L639.8,461.4 L637.9,461.4 L635.9,461.3 L634.0,461.2 L632.1,461.1 L630.1,461.0 L628.2,460.8 L626.2,460.5 L624.3,460.3 L622.3,460.0 L620.4,459.7 L618.5,459.3 L616.5,458.9 L614.6,458.5 L612.6,458.0 L610.7,457.6 L608.7,457.0 L606.8,456.5 L604.8,455.9 L602.9,455.3 L601.0,454.6 L599.0,453.9 L597.1,453.2 L595.1,452.4 L593.2,451.6 L591.2,450.8 L589.3,450.0 L587.3,449.1 L585.4,448.2 L583.5,447.3 L581.5,446.4 L579.6,445.4 L577.6,444.4 L575.7,443.3 L573.7,442.3 L571.8,441.1 L569.8,440.0Z" fill="url(#gg2)" fill-opacity="1.00" filter="url(#b4)"/>
<pattern id="st2" patternUnits="userSpaceOnUse" x="585.08" y="0" width="3.589" height="10"><rect x="0" y="0" width="1.795" height="10" fill="#fff" fill-opacity="0.55"/></pattern>
<path d="M569.8,431.0 L571.8,432.1 L573.7,433.3 L575.7,434.3 L577.6,435.4 L579.6,436.4 L581.5,437.4 L583.5,438.3 L585.4,439.2 L587.3,440.1 L589.3,440.9 L591.2,441.6 L593.2,442.3 L595.1,443.0 L597.1,443.6 L599.0,444.2 L601.0,444.8 L602.9,445.3 L604.8,445.7 L606.8,446.2 L608.7,446.6 L610.7,446.9 L612.6,447.2 L614.6,447.5 L616.5,447.7 L618.5,447.9 L620.4,448.1 L622.3,448.2 L624.3,448.3 L626.2,448.3 L628.2,448.3 L630.1,448.3 L632.1,448.2 L634.0,448.1 L635.9,448.0 L637.9,447.8 L639.8,447.6 L641.8,447.3 L643.7,447.0 L645.7,446.7 L647.6,446.3 L649.6,445.9 L651.5,445.5 L653.4,445.0 L655.4,444.5 L657.3,443.9 L659.3,443.3 L661.2,442.7 L663.2,442.0 L665.1,441.3 L667.1,440.6 L669.0,439.8 L670.9,439.0 L672.9,438.2 L674.8,437.3 L676.8,436.4 L678.7,435.4 L680.7,434.4 L682.6,433.4 L684.6,432.4 L686.5,431.3 L688.4,430.1 L690.4,429.0 L692.3,427.8 L694.3,426.5 L696.2,425.3 L698.2,423.9 L700.1,422.6 L702.0,421.2 L704.0,419.8 L705.9,418.4 L707.9,416.9 L709.8,415.3 L711.8,413.8 L713.7,412.2 L715.7,410.6 L717.6,408.9 L719.5,407.2 L721.5,405.5 L723.4,403.7 L725.4,401.9 L727.3,400.1 L729.3,398.2 L731.2,396.3 L733.2,394.4 L735.1,392.4 L737.0,390.4 L739.0,388.4 L740.9,386.3 L742.9,384.2 L744.8,382.1 L746.8,379.9 L748.7,377.7 L750.7,375.4 L752.6,373.2 L754.5,370.9 L756.5,368.5 L758.4,366.2 L760.4,363.8 L762.3,361.3 L764.3,358.8 L766.2,356.3 L768.2,353.8 L770.1,351.2 L772.0,348.6 L774.0,346.0 L775.9,343.3 L777.9,340.6 L779.8,337.9 L781.8,335.2 L783.7,332.4 L785.6,329.5 L787.6,326.7 L789.5,323.8 L791.5,320.9 L793.4,317.9 L795.4,314.9 L797.3,311.9 L799.3,308.9 L801.2,305.8 L803.1,302.7 L805.1,299.6 L807.0,296.4 L809.0,293.2 L810.9,290.0 L812.9,286.7 L814.8,283.4 L816.8,280.1 L818.7,276.8 L820.6,273.6 L822.6,270.4 L824.5,267.1 L826.5,263.8 L828.4,260.5 L830.4,257.1 L832.3,253.8 L834.3,250.4 L834.3,292.4 L832.3,295.8 L830.4,299.1 L828.4,302.5 L826.5,305.8 L824.5,309.1 L822.6,312.4 L820.6,315.6 L818.7,318.8 L816.8,321.8 L814.8,324.7 L812.9,327.6 L810.9,330.5 L809.0,333.4 L807.0,336.2 L805.1,339.0 L803.1,341.8 L801.2,344.5 L799.3,347.2 L797.3,349.9 L795.4,352.6 L793.4,355.2 L791.5,357.8 L789.5,360.3 L787.6,362.9 L785.6,365.4 L783.7,367.8 L781.8,370.3 L779.8,372.7 L777.9,375.1 L775.9,377.4 L774.0,379.8 L772.0,382.1 L770.1,384.3 L768.2,386.5 L766.2,388.7 L764.3,390.9 L762.3,393.0 L760.4,395.1 L758.4,397.2 L756.5,399.3 L754.5,401.3 L752.6,403.2 L750.7,405.2 L748.7,407.1 L746.8,409.0 L744.8,410.8 L742.9,412.7 L740.9,414.4 L739.0,416.2 L737.0,417.9 L735.1,419.6 L733.2,421.3 L731.2,422.9 L729.3,424.5 L727.3,426.1 L725.4,427.6 L723.4,429.1 L721.5,430.5 L719.5,432.0 L717.6,433.4 L715.7,434.7 L713.7,436.1 L711.8,437.4 L709.8,438.6 L707.9,439.9 L705.9,441.0 L704.0,442.2 L702.0,443.3 L700.1,444.4 L698.2,445.5 L696.2,446.5 L694.3,447.5 L692.3,448.5 L690.4,449.4 L688.4,450.3 L686.5,451.2 L684.6,452.0 L682.6,452.8 L680.7,453.6 L678.7,454.3 L676.8,455.0 L674.8,455.7 L672.9,456.3 L670.9,456.9 L669.0,457.4 L667.1,458.0 L665.1,458.5 L663.2,458.9 L661.2,459.3 L659.3,459.7 L657.3,460.1 L655.4,460.4 L653.4,460.7 L651.5,460.9 L649.6,461.2 L647.6,461.3 L645.7,461.5 L643.7,461.6 L641.8,461.7 L639.8,461.7 L637.9,461.8 L635.9,461.7 L634.0,461.7 L632.1,461.6 L630.1,461.5 L628.2,461.3 L626.2,461.1 L624.3,460.9 L622.3,460.6 L620.4,460.3 L618.5,460.0 L616.5,459.6 L614.6,459.2 L612.6,458.8 L610.7,458.3 L608.7,457.8 L606.8,457.3 L604.8,456.7 L602.9,456.1 L601.0,455.5 L599.0,454.8 L597.1,454.1 L595.1,453.4 L593.2,452.6 L591.2,451.8 L589.3,451.0 L587.3,450.1 L585.4,449.2 L583.5,448.3 L581.5,447.4 L579.6,446.4 L577.6,445.4 L575.7,444.3 L573.7,443.3 L571.8,442.1 L569.8,441.0Z" fill="url(#st2)" fill-opacity="0.16" filter="url(#b2s)"/>
<path d="M569.8,434.5 L571.8,435.6 L573.7,436.8 L575.7,437.8 L577.6,438.9 L579.6,439.9 L581.5,440.9 L583.5,441.8 L585.4,442.7 L587.3,443.6 L589.3,444.4 L591.2,445.2 L593.2,445.9 L595.1,446.6 L597.1,447.3 L599.0,447.9 L601.0,448.5 L602.9,449.1 L604.8,449.6 L606.8,450.1 L608.7,450.5 L610.7,450.9 L612.6,451.3 L614.6,451.6 L616.5,451.9 L618.5,452.2 L620.4,452.4 L622.3,452.6 L624.3,452.7 L626.2,452.9 L628.2,452.9 L630.1,453.0 L632.1,453.0 L634.0,452.9 L635.9,452.9 L637.9,452.8 L639.8,452.6 L641.8,452.4 L643.7,452.2 L645.7,452.0 L647.6,451.7 L649.6,451.3 L651.5,451.0 L653.4,450.6 L655.4,450.1 L657.3,449.7 L659.3,449.1 L661.2,448.6 L663.2,448.0 L665.1,447.4 L667.1,446.7 L669.0,446.0 L670.9,445.3 L672.9,444.6 L674.8,443.8 L676.8,442.9 L678.7,442.0 L680.7,441.1 L682.6,440.2 L684.6,439.2 L686.5,438.2 L688.4,437.1 L690.4,436.0 L692.3,434.9 L694.3,433.7 L696.2,432.5 L698.2,431.3 L700.1,430.0 L702.0,428.7 L704.0,427.4 L705.9,426.0 L707.9,424.6 L709.8,423.1 L711.8,421.6 L713.7,420.1 L715.7,418.5 L717.6,416.9 L719.5,415.3 L721.5,413.6 L723.4,411.9 L725.4,410.2 L727.3,408.4 L729.3,406.6 L731.2,404.7 L733.2,402.8 L735.1,400.9 L737.0,398.9 L739.0,396.9 L740.9,394.9 L742.9,392.8 L744.8,390.7 L746.8,388.6 L748.7,386.4 L750.7,384.2 L752.6,381.9 L754.5,379.6 L756.5,377.3 L758.4,374.9 L760.4,372.5 L762.3,370.1 L764.3,367.6 L766.2,365.1 L768.2,362.6 L770.1,360.0 L772.0,357.4 L774.0,354.7 L775.9,352.0 L777.9,349.3 L779.8,346.5 L781.8,343.7 L783.7,340.9 L785.6,338.0 L787.6,335.1 L789.5,332.1 L791.5,329.2 L793.4,326.1 L795.4,323.1 L797.3,320.0 L799.3,316.9 L801.2,313.7 L803.1,310.5 L805.1,307.3 L807.0,304.0 L809.0,300.7 L810.9,297.3 L812.9,293.9 L814.8,290.5 L816.8,287.1 L818.7,283.6 L820.6,280.1 L822.6,276.5 L824.5,273.0 L826.5,269.4 L828.4,265.7 L830.4,262.1 L832.3,258.4 L834.3,254.6 L834.3,278.9 L832.3,282.3 L830.4,285.6 L828.4,289.0 L826.5,292.3 L824.5,295.6 L822.6,298.9 L820.6,302.1 L818.7,305.3 L816.8,308.4 L814.8,311.4 L812.9,314.5 L810.9,317.5 L809.0,320.4 L807.0,323.4 L805.1,326.3 L803.1,329.2 L801.2,332.0 L799.3,334.9 L797.3,337.7 L795.4,340.4 L793.4,343.2 L791.5,345.9 L789.5,348.5 L787.6,351.2 L785.6,353.8 L783.7,356.4 L781.8,358.9 L779.8,361.5 L777.9,363.9 L775.9,366.4 L774.0,368.8 L772.0,371.2 L770.1,373.6 L768.2,375.9 L766.2,378.2 L764.3,380.5 L762.3,382.8 L760.4,385.0 L758.4,387.1 L756.5,389.3 L754.5,391.4 L752.6,393.5 L750.7,395.5 L748.7,397.5 L746.8,399.5 L744.8,401.5 L742.9,403.4 L740.9,405.3 L739.0,407.1 L737.0,409.0 L735.1,410.7 L733.2,412.5 L731.2,414.2 L729.3,415.9 L727.3,417.6 L725.4,419.2 L723.4,420.8 L721.5,422.3 L719.5,423.9 L717.6,425.3 L715.7,426.8 L713.7,428.2 L711.8,429.6 L709.8,431.0 L707.9,432.3 L705.9,433.6 L704.0,434.8 L702.0,436.1 L700.1,437.2 L698.2,438.4 L696.2,439.5 L694.3,440.6 L692.3,441.6 L690.4,442.7 L688.4,443.6 L686.5,444.6 L684.6,445.5 L682.6,446.4 L680.7,447.2 L678.7,448.0 L676.8,448.8 L674.8,449.6 L672.9,450.3 L670.9,450.9 L669.0,451.6 L667.1,452.2 L665.1,452.7 L663.2,453.3 L661.2,453.8 L659.3,454.2 L657.3,454.7 L655.4,455.1 L653.4,455.4 L651.5,455.7 L649.6,456.0 L647.6,456.3 L645.7,456.5 L643.7,456.7 L641.8,456.8 L639.8,456.9 L637.9,457.0 L635.9,457.1 L634.0,457.1 L632.1,457.0 L630.1,457.0 L628.2,456.9 L626.2,456.7 L624.3,456.6 L622.3,456.4 L620.4,456.1 L618.5,455.8 L616.5,455.5 L614.6,455.2 L612.6,454.8 L610.7,454.4 L608.7,453.9 L606.8,453.4 L604.8,452.9 L602.9,452.4 L601.0,451.8 L599.0,451.1 L597.1,450.5 L595.1,449.8 L593.2,449.0 L591.2,448.2 L589.3,447.4 L587.3,446.6 L585.4,445.7 L583.5,444.8 L581.5,443.9 L579.6,442.9 L577.6,441.9 L575.7,440.8 L573.7,439.8 L571.8,438.6 L569.8,437.5Z" fill="url(#gh2)" fill-opacity="1.00" filter="url(#b2)"/>
<path d="M569.8,434.7 L571.8,435.8 L573.7,437.0 L575.7,438.0 L577.6,439.1 L579.6,440.1 L581.5,441.1 L583.5,442.0 L585.4,442.9 L587.3,443.8 L589.3,444.6 L591.2,445.4 L593.2,446.2 L595.1,446.9 L597.1,447.5 L599.0,448.2 L601.0,448.8 L602.9,449.4 L604.8,449.9 L606.8,450.4 L608.7,450.8 L610.7,451.3 L612.6,451.6 L614.6,452.0 L616.5,452.3 L618.5,452.6 L620.4,452.8 L622.3,453.0 L624.3,453.2 L626.2,453.3 L628.2,453.4 L630.1,453.4 L632.1,453.5 L634.0,453.4 L635.9,453.4 L637.9,453.3 L639.8,453.2 L641.8,453.0 L643.7,452.8 L645.7,452.6 L647.6,452.3 L649.6,452.0 L651.5,451.6 L653.4,451.2 L655.4,450.8 L657.3,450.4 L659.3,449.9 L661.2,449.4 L663.2,448.8 L665.1,448.2 L667.1,447.6 L669.0,446.9 L670.9,446.2 L672.9,445.4 L674.8,444.7 L676.8,443.8 L678.7,443.0 L680.7,442.1 L682.6,441.2 L684.6,440.2 L686.5,439.2 L688.4,438.2 L690.4,437.1 L692.3,436.0 L694.3,434.9 L696.2,433.7 L698.2,432.5 L700.1,431.2 L702.0,429.9 L704.0,428.6 L705.9,427.3 L707.9,425.9 L709.8,424.4 L711.8,423.0 L713.7,421.5 L715.7,419.9 L717.6,418.4 L719.5,416.7 L721.5,415.1 L723.4,413.4 L725.4,411.7 L727.3,409.9 L729.3,408.1 L731.2,406.3 L733.2,404.4 L735.1,402.5 L737.0,400.6 L739.0,398.6 L740.9,396.6 L742.9,394.6 L744.8,392.5 L746.8,390.4 L748.7,388.2 L750.7,386.0 L752.6,383.8 L754.5,381.5 L756.5,379.2 L758.4,376.9 L760.4,374.5 L762.3,372.1 L764.3,369.7 L766.2,367.2 L768.2,364.7 L770.1,362.1 L772.0,359.5 L774.0,356.9 L775.9,354.2 L777.9,351.5 L779.8,348.8 L781.8,346.0 L783.7,343.2 L785.6,340.4 L787.6,337.5 L789.5,334.6 L791.5,331.6 L793.4,328.6 L795.4,325.6 L797.3,322.6 L799.3,319.5 L801.2,316.3 L803.1,313.1 L805.1,309.9 L807.0,306.7 L809.0,303.4 L810.9,300.1 L812.9,296.7 L814.8,293.4 L816.8,289.9 L818.7,286.5 L820.6,283.0 L822.6,279.4 L824.5,275.9 L826.5,272.3 L828.4,268.6 L830.4,265.0 L832.3,261.3 L834.3,257.5 L834.3,273.8 L832.3,277.2 L830.4,280.5 L828.4,283.9 L826.5,287.2 L824.5,290.5 L822.6,293.8 L820.6,297.0 L818.7,300.2 L816.8,303.3 L814.8,306.4 L812.9,309.5 L810.9,312.6 L809.0,315.6 L807.0,318.6 L805.1,321.6 L803.1,324.5 L801.2,327.4 L799.3,330.3 L797.3,333.2 L795.4,336.0 L793.4,338.8 L791.5,341.5 L789.5,344.3 L787.6,347.0 L785.6,349.6 L783.7,352.3 L781.8,354.9 L779.8,357.5 L777.9,360.0 L775.9,362.5 L774.0,365.0 L772.0,367.5 L770.1,369.9 L768.2,372.3 L766.2,374.6 L764.3,376.9 L762.3,379.2 L760.4,381.5 L758.4,383.7 L756.5,385.9 L754.5,388.1 L752.6,390.2 L750.7,392.3 L748.7,394.4 L746.8,396.4 L744.8,398.4 L742.9,400.4 L740.9,402.3 L739.0,404.2 L737.0,406.1 L735.1,407.9 L733.2,409.7 L731.2,411.5 L729.3,413.2 L727.3,414.9 L725.4,416.6 L723.4,418.2 L721.5,419.8 L719.5,421.4 L717.6,422.9 L715.7,424.4 L713.7,425.9 L711.8,427.3 L709.8,428.7 L707.9,430.1 L705.9,431.4 L704.0,432.7 L702.0,434.0 L700.1,435.2 L698.2,436.4 L696.2,437.6 L694.3,438.7 L692.3,439.8 L690.4,440.9 L688.4,441.9 L686.5,442.9 L684.6,443.8 L682.6,444.7 L680.7,445.6 L678.7,446.5 L676.8,447.3 L674.8,448.1 L672.9,448.8 L670.9,449.5 L669.0,450.2 L667.1,450.8 L665.1,451.4 L663.2,452.0 L661.2,452.6 L659.3,453.1 L657.3,453.5 L655.4,453.9 L653.4,454.3 L651.5,454.7 L649.6,455.0 L647.6,455.3 L645.7,455.6 L643.7,455.8 L641.8,456.0 L639.8,456.1 L637.9,456.2 L635.9,456.3 L634.0,456.3 L632.1,456.3 L630.1,456.3 L628.2,456.2 L626.2,456.1 L624.3,456.0 L622.3,455.8 L620.4,455.6 L618.5,455.3 L616.5,455.0 L614.6,454.7 L612.6,454.4 L610.7,454.0 L608.7,453.5 L606.8,453.1 L604.8,452.6 L602.9,452.0 L601.0,451.4 L599.0,450.8 L597.1,450.2 L595.1,449.5 L593.2,448.8 L591.2,448.0 L589.3,447.2 L587.3,446.4 L585.4,445.5 L583.5,444.6 L581.5,443.7 L579.6,442.7 L577.6,441.7 L575.7,440.6 L573.7,439.6 L571.8,438.4 L569.8,437.3Z" fill="url(#gw2)" filter="url(#b1)"/>
<g fill="#fdf36a" filter="url(#b05)"><rect x="583.69" y="443.38" width="4.56" height="2.20" rx="0.88" fill-opacity="0.50"/><rect x="587.28" y="444.93" width="4.56" height="2.20" rx="0.88" fill-opacity="0.50"/><rect x="590.87" y="446.35" width="4.56" height="2.20" rx="0.88" fill-opacity="0.50"/><rect x="594.46" y="447.64" width="4.56" height="2.20" rx="0.88" fill-opacity="0.50"/><rect x="598.05" y="448.81" width="4.56" height="2.20" rx="0.88" fill-opacity="0.50"/><rect x="601.64" y="449.85" width="4.56" height="2.20" rx="0.88" fill-opacity="0.50"/><rect x="605.23" y="450.77" width="4.56" height="2.20" rx="0.88" fill-opacity="0.50"/><rect x="608.82" y="451.56" width="4.56" height="2.20" rx="0.88" fill-opacity="0.50"/><rect x="612.41" y="452.23" width="4.56" height="2.20" rx="0.88" fill-opacity="0.50"/><rect x="616.00" y="452.77" width="4.56" height="2.20" rx="0.88" fill-opacity="0.50"/><rect x="619.59" y="453.19" width="4.56" height="2.20" rx="0.88" fill-opacity="0.50"/><rect x="623.18" y="453.48" width="4.56" height="2.20" rx="0.88" fill-opacity="0.50"/><rect x="626.77" y="453.65" width="4.56" height="2.20" rx="0.88" fill-opacity="0.50"/><rect x="630.35" y="453.70" width="4.56" height="2.20" rx="0.88" fill-opacity="0.50"/><rect x="633.94" y="453.62" width="4.56" height="2.20" rx="0.88" fill-opacity="0.50"/><rect x="637.53" y="453.43" width="4.56" height="2.20" rx="0.88" fill-opacity="0.50"/><rect x="641.12" y="453.11" width="4.56" height="2.20" rx="0.88" fill-opacity="0.50"/><rect x="644.71" y="452.66" width="4.56" height="2.20" rx="0.88" fill-opacity="0.50"/><rect x="648.30" y="452.10" width="4.56" height="2.20" rx="0.88" fill-opacity="0.50"/><rect x="651.89" y="451.41" width="4.56" height="2.20" rx="0.88" fill-opacity="0.50"/><rect x="655.48" y="450.61" width="4.56" height="2.20" rx="0.88" fill-opacity="0.50"/><rect x="659.07" y="449.68" width="4.56" height="2.20" rx="0.88" fill-opacity="0.50"/><rect x="662.66" y="448.63" width="4.56" height="2.20" rx="0.88" fill-opacity="0.50"/><rect x="666.25" y="447.47" width="4.56" height="2.20" rx="0.88" fill-opacity="0.50"/><rect x="669.76" y="446.14" width="4.71" height="2.28" rx="0.91" fill-opacity="0.52"/><rect x="673.26" y="444.67" width="4.90" height="2.39" rx="0.96" fill-opacity="0.55"/><rect x="676.75" y="443.09" width="5.09" height="2.51" rx="1.00" fill-opacity="0.58"/><rect x="680.24" y="441.39" width="5.29" height="2.62" rx="1.05" fill-opacity="0.62"/><rect x="683.73" y="439.57" width="5.48" height="2.73" rx="1.09" fill-opacity="0.65"/><rect x="687.23" y="437.63" width="5.67" height="2.84" rx="1.14" fill-opacity="0.68"/><rect x="690.72" y="435.57" width="5.87" height="2.95" rx="1.18" fill-opacity="0.71"/><rect x="694.21" y="433.40" width="6.06" height="3.06" rx="1.22" fill-opacity="0.74"/><rect x="697.70" y="431.11" width="6.25" height="3.17" rx="1.27" fill-opacity="0.77"/><rect x="701.20" y="428.70" width="6.45" height="3.28" rx="1.31" fill-opacity="0.80"/><rect x="704.69" y="426.17" width="6.64" height="3.39" rx="1.36" fill-opacity="0.83"/><rect x="708.18" y="423.53" width="6.83" height="3.50" rx="1.40" fill-opacity="0.86"/><rect x="711.67" y="420.77" width="7.03" height="3.61" rx="1.45" fill-opacity="0.89"/><rect x="715.17" y="417.89" width="7.22" height="3.72" rx="1.49" fill-opacity="0.92"/><rect x="718.66" y="414.90" width="7.41" height="3.83" rx="1.53" fill-opacity="0.95"/><rect x="722.15" y="411.80" width="7.61" height="3.95" rx="1.58" fill-opacity="0.98"/><rect x="725.69" y="408.61" width="7.70" height="4.00" rx="1.60" fill-opacity="1.00"/><rect x="729.28" y="405.33" width="7.70" height="4.00" rx="1.60" fill-opacity="1.00"/><rect x="732.87" y="401.94" width="7.70" height="4.00" rx="1.60" fill-opacity="1.00"/><rect x="736.46" y="398.43" width="7.70" height="4.00" rx="1.60" fill-opacity="1.00"/><rect x="740.05" y="394.81" width="7.70" height="4.00" rx="1.60" fill-opacity="1.00"/><rect x="743.64" y="391.09" width="7.70" height="4.00" rx="1.60" fill-opacity="1.00"/><rect x="747.23" y="387.24" width="7.70" height="4.00" rx="1.60" fill-opacity="1.00"/><rect x="750.82" y="383.29" width="7.70" height="4.00" rx="1.60" fill-opacity="1.00"/><rect x="754.41" y="379.23" width="7.70" height="4.00" rx="1.60" fill-opacity="1.00"/><rect x="758.00" y="375.06" width="7.70" height="4.00" rx="1.60" fill-opacity="1.00"/><rect x="761.59" y="370.78" width="7.70" height="4.00" rx="1.60" fill-opacity="1.00"/><rect x="765.18" y="366.39" width="7.70" height="4.00" rx="1.60" fill-opacity="1.00"/><rect x="768.76" y="361.89" width="7.70" height="4.00" rx="1.60" fill-opacity="1.00"/><rect x="772.35" y="357.28" width="7.70" height="4.00" rx="1.60" fill-opacity="1.00"/><rect x="775.94" y="352.57" width="7.70" height="4.00" rx="1.60" fill-opacity="1.00"/><rect x="779.53" y="347.75" width="7.70" height="4.00" rx="1.60" fill-opacity="1.00"/><rect x="783.12" y="342.82" width="7.70" height="4.00" rx="1.60" fill-opacity="1.00"/><rect x="786.71" y="337.79" width="7.70" height="4.00" rx="1.60" fill-opacity="1.00"/><rect x="790.30" y="332.65" width="7.70" height="4.00" rx="1.60" fill-opacity="1.00"/><rect x="793.89" y="327.42" width="7.70" height="4.00" rx="1.60" fill-opacity="1.00"/><rect x="797.48" y="322.07" width="7.70" height="4.00" rx="1.60" fill-opacity="1.00"/><rect x="801.07" y="316.63" width="7.70" height="4.00" rx="1.60" fill-opacity="1.00"/><rect x="804.66" y="311.08" width="7.70" height="4.00" rx="1.60" fill-opacity="1.00"/><rect x="808.25" y="305.43" width="7.70" height="4.00" rx="1.60" fill-opacity="1.00"/><rect x="811.84" y="299.69" width="7.70" height="4.00" rx="1.60" fill-opacity="1.00"/><rect x="815.42" y="293.84" width="7.70" height="4.00" rx="1.60" fill-opacity="1.00"/></g>
<g fill="#f7a531" filter="url(#b03)"><rect x="669.79" y="446.79" width="4.66" height="0.97" rx="0.39" fill-opacity="0.52"/><rect x="673.31" y="445.34" width="4.78" height="1.06" rx="0.42" fill-opacity="0.55"/><rect x="676.84" y="443.77" width="4.91" height="1.15" rx="0.46" fill-opacity="0.58"/><rect x="680.37" y="442.07" width="5.03" height="1.25" rx="0.50" fill-opacity="0.62"/><rect x="683.89" y="440.26" width="5.16" height="1.34" rx="0.54" fill-opacity="0.65"/><rect x="687.42" y="438.33" width="5.28" height="1.43" rx="0.57" fill-opacity="0.68"/><rect x="690.95" y="436.29" width="5.41" height="1.52" rx="0.61" fill-opacity="0.71"/><rect x="694.47" y="434.12" width="5.53" height="1.62" rx="0.65" fill-opacity="0.74"/><rect x="698.00" y="431.84" width="5.66" height="1.71" rx="0.68" fill-opacity="0.77"/><rect x="701.53" y="429.44" width="5.79" height="1.80" rx="0.72" fill-opacity="0.80"/><rect x="705.05" y="426.92" width="5.91" height="1.89" rx="0.76" fill-opacity="0.83"/><rect x="708.58" y="424.28" width="6.04" height="1.99" rx="0.79" fill-opacity="0.86"/><rect x="712.11" y="421.53" width="6.16" height="2.08" rx="0.83" fill-opacity="0.89"/><rect x="715.63" y="418.67" width="6.29" height="2.17" rx="0.87" fill-opacity="0.92"/><rect x="719.16" y="415.69" width="6.41" height="2.26" rx="0.90" fill-opacity="0.95"/><rect x="722.69" y="412.59" width="6.54" height="2.35" rx="0.94" fill-opacity="0.98"/><rect x="726.24" y="409.41" width="6.60" height="2.40" rx="0.96" fill-opacity="1.00"/><rect x="729.83" y="406.13" width="6.60" height="2.40" rx="0.96" fill-opacity="1.00"/><rect x="733.42" y="402.74" width="6.60" height="2.40" rx="0.96" fill-opacity="1.00"/><rect x="737.01" y="399.23" width="6.60" height="2.40" rx="0.96" fill-opacity="1.00"/><rect x="740.60" y="395.61" width="6.60" height="2.40" rx="0.96" fill-opacity="1.00"/><rect x="744.19" y="391.89" width="6.60" height="2.40" rx="0.96" fill-opacity="1.00"/><rect x="747.78" y="388.04" width="6.60" height="2.40" rx="0.96" fill-opacity="1.00"/><rect x="751.37" y="384.09" width="6.60" height="2.40" rx="0.96" fill-opacity="1.00"/><rect x="754.96" y="380.03" width="6.60" height="2.40" rx="0.96" fill-opacity="1.00"/><rect x="758.55" y="375.86" width="6.60" height="2.40" rx="0.96" fill-opacity="1.00"/><rect x="762.14" y="371.58" width="6.60" height="2.40" rx="0.96" fill-opacity="1.00"/><rect x="765.73" y="367.19" width="6.60" height="2.40" rx="0.96" fill-opacity="1.00"/><rect x="769.31" y="362.69" width="6.60" height="2.40" rx="0.96" fill-opacity="1.00"/><rect x="772.90" y="358.08" width="6.60" height="2.40" rx="0.96" fill-opacity="1.00"/><rect x="776.49" y="353.37" width="6.60" height="2.40" rx="0.96" fill-opacity="1.00"/><rect x="780.08" y="348.55" width="6.60" height="2.40" rx="0.96" fill-opacity="1.00"/><rect x="783.67" y="343.62" width="6.60" height="2.40" rx="0.96" fill-opacity="1.00"/><rect x="787.26" y="338.59" width="6.60" height="2.40" rx="0.96" fill-opacity="1.00"/><rect x="790.85" y="333.45" width="6.60" height="2.40" rx="0.96" fill-opacity="1.00"/><rect x="794.44" y="328.22" width="6.60" height="2.40" rx="0.96" fill-opacity="1.00"/><rect x="798.03" y="322.87" width="6.60" height="2.40" rx="0.96" fill-opacity="1.00"/><rect x="801.62" y="317.43" width="6.60" height="2.40" rx="0.96" fill-opacity="1.00"/><rect x="805.21" y="311.88" width="6.60" height="2.40" rx="0.96" fill-opacity="1.00"/><rect x="808.80" y="306.23" width="6.60" height="2.40" rx="0.96" fill-opacity="1.00"/><rect x="812.39" y="300.49" width="6.60" height="2.40" rx="0.96" fill-opacity="1.00"/><rect x="815.97" y="294.64" width="6.60" height="2.40" rx="0.96" fill-opacity="1.00"/></g>
<g fill="#dc2f22" filter="url(#b03)"><rect x="702.39" y="429.92" width="4.06" height="0.84" rx="0.33" fill-opacity="0.47"/><rect x="705.93" y="427.42" width="4.16" height="0.89" rx="0.36" fill-opacity="0.51"/><rect x="709.46" y="424.80" width="4.27" height="0.95" rx="0.38" fill-opacity="0.54"/><rect x="713.00" y="422.07" width="4.38" height="1.00" rx="0.40" fill-opacity="0.57"/><rect x="716.54" y="419.22" width="4.48" height="1.06" rx="0.42" fill-opacity="0.61"/><rect x="720.07" y="416.26" width="4.59" height="1.11" rx="0.45" fill-opacity="0.64"/><rect x="723.61" y="413.19" width="4.69" height="1.17" rx="0.47" fill-opacity="0.68"/><rect x="727.15" y="409.99" width="4.80" height="1.22" rx="0.49" fill-opacity="0.71"/><rect x="730.68" y="406.69" width="4.90" height="1.28" rx="0.51" fill-opacity="0.74"/><rect x="734.22" y="403.27" width="5.01" height="1.34" rx="0.53" fill-opacity="0.78"/><rect x="737.76" y="399.74" width="5.11" height="1.39" rx="0.56" fill-opacity="0.81"/><rect x="741.29" y="396.09" width="5.22" height="1.45" rx="0.58" fill-opacity="0.84"/><rect x="744.83" y="392.33" width="5.32" height="1.50" rx="0.60" fill-opacity="0.88"/><rect x="748.37" y="388.47" width="5.43" height="1.56" rx="0.62" fill-opacity="0.91"/><rect x="751.90" y="384.49" width="5.53" height="1.61" rx="0.64" fill-opacity="0.95"/><rect x="755.44" y="380.40" width="5.64" height="1.67" rx="0.67" fill-opacity="0.98"/><rect x="759.00" y="376.21" width="5.70" height="1.70" rx="0.68" fill-opacity="1.00"/><rect x="762.59" y="371.93" width="5.70" height="1.70" rx="0.68" fill-opacity="1.00"/><rect x="766.18" y="367.54" width="5.70" height="1.70" rx="0.68" fill-opacity="1.00"/><rect x="769.76" y="363.04" width="5.70" height="1.70" rx="0.68" fill-opacity="1.00"/><rect x="773.35" y="358.43" width="5.70" height="1.70" rx="0.68" fill-opacity="1.00"/><rect x="776.94" y="353.72" width="5.70" height="1.70" rx="0.68" fill-opacity="1.00"/><rect x="780.53" y="348.90" width="5.70" height="1.70" rx="0.68" fill-opacity="1.00"/><rect x="784.12" y="343.97" width="5.70" height="1.70" rx="0.68" fill-opacity="1.00"/><rect x="787.71" y="338.94" width="5.70" height="1.70" rx="0.68" fill-opacity="1.00"/><rect x="791.30" y="333.80" width="5.70" height="1.70" rx="0.68" fill-opacity="1.00"/><rect x="794.89" y="328.57" width="5.70" height="1.70" rx="0.68" fill-opacity="1.00"/><rect x="798.48" y="323.22" width="5.70" height="1.70" rx="0.68" fill-opacity="1.00"/><rect x="802.07" y="317.78" width="5.70" height="1.70" rx="0.68" fill-opacity="1.00"/><rect x="805.66" y="312.23" width="5.70" height="1.70" rx="0.68" fill-opacity="1.00"/><rect x="809.25" y="306.58" width="5.70" height="1.70" rx="0.68" fill-opacity="1.00"/><rect x="812.84" y="300.84" width="5.70" height="1.70" rx="0.68" fill-opacity="1.00"/><rect x="816.42" y="294.99" width="5.70" height="1.70" rx="0.68" fill-opacity="1.00"/></g>
<path d="M585.40,444.22 L586.57,444.74 L587.73,445.25 L588.90,445.75 L590.07,446.23 L591.23,446.70 L592.40,447.16 L593.57,447.60 L594.73,448.03 L595.90,448.45 L597.06,448.85 L598.23,449.24 L599.40,449.62 L600.56,449.98 L601.73,450.33 L602.90,450.67 L604.06,450.99 L605.23,451.30 L606.40,451.60 L607.56,451.88 L608.73,452.15 L609.90,452.41 L611.06,452.65 L612.23,452.88 L613.40,453.10 L614.56,453.30 L615.73,453.49 L616.90,453.67 L618.06,453.84 L619.23,453.99 L620.39,454.13 L621.56,454.25 L622.73,454.36 L623.89,454.46 L625.06,454.55 L626.23,454.62 L627.39,454.68 L628.56,454.73 L629.73,454.76 L630.89,454.78 L632.06,454.79 L633.23,454.78 L634.39,454.76 L635.56,454.73 L636.73,454.68 L637.89,454.63 L639.06,454.55 L640.23,454.47 L641.39,454.37 L642.56,454.26 L643.73,454.14 L644.89,454.00 L646.06,453.85 L647.22,453.69 L648.39,453.51 L649.56,453.32 L650.72,453.12 L651.89,452.91 L653.06,452.68 L654.22,452.44 L655.39,452.18 L656.56,451.92 L657.72,451.64 L658.89,451.34 L660.06,451.04 L661.22,450.72 L662.39,450.39 L663.56,450.04 L664.72,449.68 L665.89,449.31 L667.06,448.93 L668.22,448.53 L669.39,448.12 L670.55,447.70 L671.72,447.26 L672.89,446.81 L674.05,446.35 L675.22,445.88 L676.39,445.39 L677.55,444.89 L678.72,444.37 L679.89,443.85 L681.05,443.31 L682.22,442.75 L683.39,442.19 L684.55,441.61 L685.72,441.02 L686.89,440.41 L688.05,439.79 L689.22,439.16 L690.38,438.52 L691.55,437.86 L692.72,437.19 L693.88,436.51 L695.05,435.81 L696.22,435.10 L697.38,434.38 L698.55,433.64 L699.72,432.89 L700.88,432.13 L702.05,431.36 L703.22,430.57 L704.38,429.77 L705.55,428.96 L706.72,428.13 L707.88,427.29 L709.05,426.44 L710.22,425.57 L711.38,424.70 L712.55,423.80 L713.72,422.90 L714.88,421.98 L716.05,421.05 L717.21,420.11 L718.38,419.15 L719.55,418.18 L720.71,417.20 L721.88,416.20 L723.05,415.19 L724.21,414.17 L725.38,413.14 L726.55,412.09 L727.71,411.03 L728.88,409.95 L730.05,408.87 L731.21,407.77 L732.38,406.65 L733.55,405.53 L734.71,404.39 L735.88,403.24 L737.05,402.07 L738.21,400.89 L739.38,399.70 L740.54,398.50 L741.71,397.28 L742.88,396.05 L744.04,394.81 L745.21,393.55 L746.38,392.28 L747.54,391.00 L748.71,389.70 L749.88,388.39 L751.04,387.07 L752.21,385.74 L753.38,384.39 L754.54,383.03 L755.71,381.65 L756.88,380.27 L758.04,378.87 L759.21,377.45 L760.38,376.03 L761.54,374.59 L762.71,373.14 L763.87,371.67 L765.04,370.19 L766.21,368.70 L767.37,367.20 L768.54,365.68 L769.71,364.15 L770.87,362.60 L772.04,361.05 L773.21,359.48 L774.37,357.90 L775.54,356.30 L776.71,354.69 L777.87,353.07 L779.04,351.43 L780.21,349.79 L781.37,348.12 L782.54,346.45 L783.71,344.76 L784.87,343.06 L786.04,341.35 L787.20,339.62 L788.37,337.88 L789.54,336.13 L790.70,334.37 L791.87,332.59 L793.04,330.80 L794.20,328.99 L795.37,327.17 L796.54,325.34 L797.70,323.50 L798.87,321.64 L800.04,319.77 L801.20,317.89 L802.37,315.99 L803.54,314.08 L804.70,312.16 L805.87,310.22 L807.04,308.28 L808.20,306.32 L809.37,304.34 L810.53,302.35 L811.70,300.35 L812.87,298.34 L814.03,296.31 L815.20,294.27 L816.37,292.22 L817.53,290.15 L818.70,288.07" stroke="#fffbd8" stroke-opacity="0.85" stroke-width="3.0" fill="none" filter="url(#b03)"/>
<path d="M585.40,444.22 L586.57,444.74 L587.73,445.25 L588.90,445.75 L590.07,446.23 L591.23,446.70 L592.40,447.16 L593.57,447.60 L594.73,448.03 L595.90,448.45 L597.06,448.85 L598.23,449.24 L599.40,449.62 L600.56,449.98 L601.73,450.33 L602.90,450.67 L604.06,450.99 L605.23,451.30 L606.40,451.60 L607.56,451.88 L608.73,452.15 L609.90,452.41 L611.06,452.65 L612.23,452.88 L613.40,453.10 L614.56,453.30 L615.73,453.49 L616.90,453.67 L618.06,453.84 L619.23,453.99 L620.39,454.13 L621.56,454.25 L622.73,454.36 L623.89,454.46 L625.06,454.55 L626.23,454.62 L627.39,454.68 L628.56,454.73 L629.73,454.76 L630.89,454.78 L632.06,454.79 L633.23,454.78 L634.39,454.76 L635.56,454.73 L636.73,454.68 L637.89,454.63 L639.06,454.55 L640.23,454.47 L641.39,454.37 L642.56,454.26 L643.73,454.14 L644.89,454.00 L646.06,453.85 L647.22,453.69 L648.39,453.51 L649.56,453.32 L650.72,453.12 L651.89,452.91 L653.06,452.68 L654.22,452.44 L655.39,452.18 L656.56,451.92 L657.72,451.64 L658.89,451.34 L660.06,451.04 L661.22,450.72 L662.39,450.39 L663.56,450.04 L664.72,449.68 L665.89,449.31 L667.06,448.93 L668.22,448.53 L669.39,448.12 L670.55,447.70 L671.72,447.26 L672.89,446.81 L674.05,446.35 L675.22,445.88 L676.39,445.39 L677.55,444.89 L678.72,444.37 L679.89,443.85 L681.05,443.31 L682.22,442.75 L683.39,442.19 L684.55,441.61 L685.72,441.02 L686.89,440.41 L688.05,439.79 L689.22,439.16 L690.38,438.52 L691.55,437.86 L692.72,437.19 L693.88,436.51 L695.05,435.81 L696.22,435.10 L697.38,434.38 L698.55,433.64 L699.72,432.89 L700.88,432.13 L702.05,431.36 L703.22,430.57 L704.38,429.77 L705.55,428.96 L706.72,428.13 L707.88,427.29 L709.05,426.44 L710.22,425.57 L711.38,424.70 L712.55,423.80 L713.72,422.90 L714.88,421.98 L716.05,421.05 L717.21,420.11 L718.38,419.15 L719.55,418.18 L720.71,417.20 L721.88,416.20 L723.05,415.19 L724.21,414.17 L725.38,413.14 L726.55,412.09 L727.71,411.03 L728.88,409.95 L730.05,408.87 L731.21,407.77 L732.38,406.65 L733.55,405.53 L734.71,404.39 L735.88,403.24 L737.05,402.07 L738.21,400.89 L739.38,399.70 L740.54,398.50 L741.71,397.28 L742.88,396.05 L744.04,394.81 L745.21,393.55 L746.38,392.28 L747.54,391.00 L748.71,389.70 L749.88,388.39 L751.04,387.07 L752.21,385.74 L753.38,384.39 L754.54,383.03 L755.71,381.65 L756.88,380.27 L758.04,378.87 L759.21,377.45 L760.38,376.03 L761.54,374.59 L762.71,373.14 L763.87,371.67 L765.04,370.19 L766.21,368.70 L767.37,367.20 L768.54,365.68 L769.71,364.15 L770.87,362.60 L772.04,361.05 L773.21,359.48 L774.37,357.90 L775.54,356.30 L776.71,354.69 L777.87,353.07 L779.04,351.43 L780.21,349.79 L781.37,348.12 L782.54,346.45 L783.71,344.76 L784.87,343.06 L786.04,341.35 L787.20,339.62 L788.37,337.88 L789.54,336.13 L790.70,334.37 L791.87,332.59 L793.04,330.80 L794.20,328.99 L795.37,327.17 L796.54,325.34 L797.70,323.50 L798.87,321.64 L800.04,319.77 L801.20,317.89 L802.37,315.99 L803.54,314.08 L804.70,312.16 L805.87,310.22 L807.04,308.28 L808.20,306.32 L809.37,304.34 L810.53,302.35 L811.70,300.35 L812.87,298.34 L814.03,296.31 L815.20,294.27 L816.37,292.22 L817.53,290.15 L818.70,288.07" stroke="#000" stroke-width="1.15" fill="none"/>
</g>
<path d="M663.17,479.80 v-4.6 M663.17,247.40 v4.6 M740.93,479.80 v-4.6 M740.93,247.40 v4.6 M585.40,421.70 h4.6 M818.70,421.70 h-4.6 M585.40,363.60 h4.6 M818.70,363.60 h-4.6 M585.40,305.50 h4.6 M818.70,305.50 h-4.6" stroke="#15153a" stroke-width="0.7" fill="none"/>
<rect x="585.40" y="247.40" width="233.30" height="232.40" fill="none" stroke="#4a4a4a" stroke-width="0.8"/>
<text x="585.40" y="493.60" font-size="13.00" text-anchor="middle">0</text>
<text x="663.17" y="493.60" font-size="13.00" text-anchor="middle">1</text>
<text x="740.93" y="493.60" font-size="13.00" text-anchor="middle">2</text>
<text x="818.70" y="493.60" font-size="13.00" text-anchor="middle">3</text>
<text x="580.40" y="483.90" font-size="13.00" text-anchor="end">0</text>
<text x="580.40" y="425.80" font-size="13.00" text-anchor="end">2</text>
<text x="580.40" y="367.70" font-size="13.00" text-anchor="end">4</text>
<text x="580.40" y="309.60" font-size="13.00" text-anchor="end">6</text>
<text x="580.40" y="251.50" font-size="13.00" text-anchor="end">8</text>
<text x="626.50" y="506.60" font-size="13.00" textLength="140.50" lengthAdjust="spacingAndGlyphs">Reduced wave number <tspan font-style="italic">q</tspan></text>
<text transform="translate(570.40,366.10) rotate(-90)" font-size="13.00" text-anchor="middle" textLength="121.5" lengthAdjust="spacingAndGlyphs">Reduced frequency Ω</text>
<rect x="594.90" y="258.50" width="153.20" height="58.20" fill="#f2f2ff" stroke="#333" stroke-width="0.6"/>
<path d="M599.20,269.1 h20.2" stroke="#000" stroke-width="1.35"/>
<text x="631.10" y="273.10" font-size="13.52" font-style="italic" text-anchor="middle">ϰ</text><path d="M639.50,268.12 H648.80 M639.50,270.39 H648.80" stroke="#1c1c1c" stroke-width="0.58" fill="none"/><text x="653.60" y="273.10" font-size="13.00" textLength="19.30" lengthAdjust="spacingAndGlyphs">0.5,</text><text x="682.00" y="273.10" font-size="13.52" font-style="italic" text-anchor="middle">σ</text><g transform="translate(686.60,273.10) scale(1.083)" fill="none" stroke="#1c1c1c" stroke-linecap="round"><path d="M2.0,-8.0 C0.9,-6.6 0.5,-5.4 0.5,-4.2 C0.5,-2.0 1.5,-0.3 3.2,-0.25 C4.5,-0.2 5.6,-0.8 6.3,-1.8" stroke-width="1.2"/><path d="M2.0,-8.0 C2.9,-8.5 4.2,-8.6 5.2,-8.0 C6.3,-7.3 6.6,-6.2 6.0,-5.3 C5.3,-4.4 3.8,-4.2 2.9,-4.8 C2.4,-5.2 2.3,-5.6 2.4,-6.0" stroke-width="0.65"/></g><path d="M699.00,268.12 H707.90 M699.00,270.39 H707.90" stroke="#1c1c1c" stroke-width="0.58" fill="none"/><text x="712.00" y="273.10" font-size="13.00" textLength="16.20" lengthAdjust="spacingAndGlyphs">0.5</text>
<rect x="610.20" y="294.5" width="122.70" height="12.3" fill="url(#cb)"/>
<text x="611.10" y="293.20" font-size="13.00" text-anchor="middle">0</text>
<text x="716.30" y="293.20" font-size="13.00" textLength="24.00" lengthAdjust="spacingAndGlyphs">high</text>
<text x="608.40" y="528.50" font-size="14.00" textLength="183.90" lengthAdjust="spacingAndGlyphs">(c) Easy–binormal anisotropy</text>
</svg>
</body></html>
